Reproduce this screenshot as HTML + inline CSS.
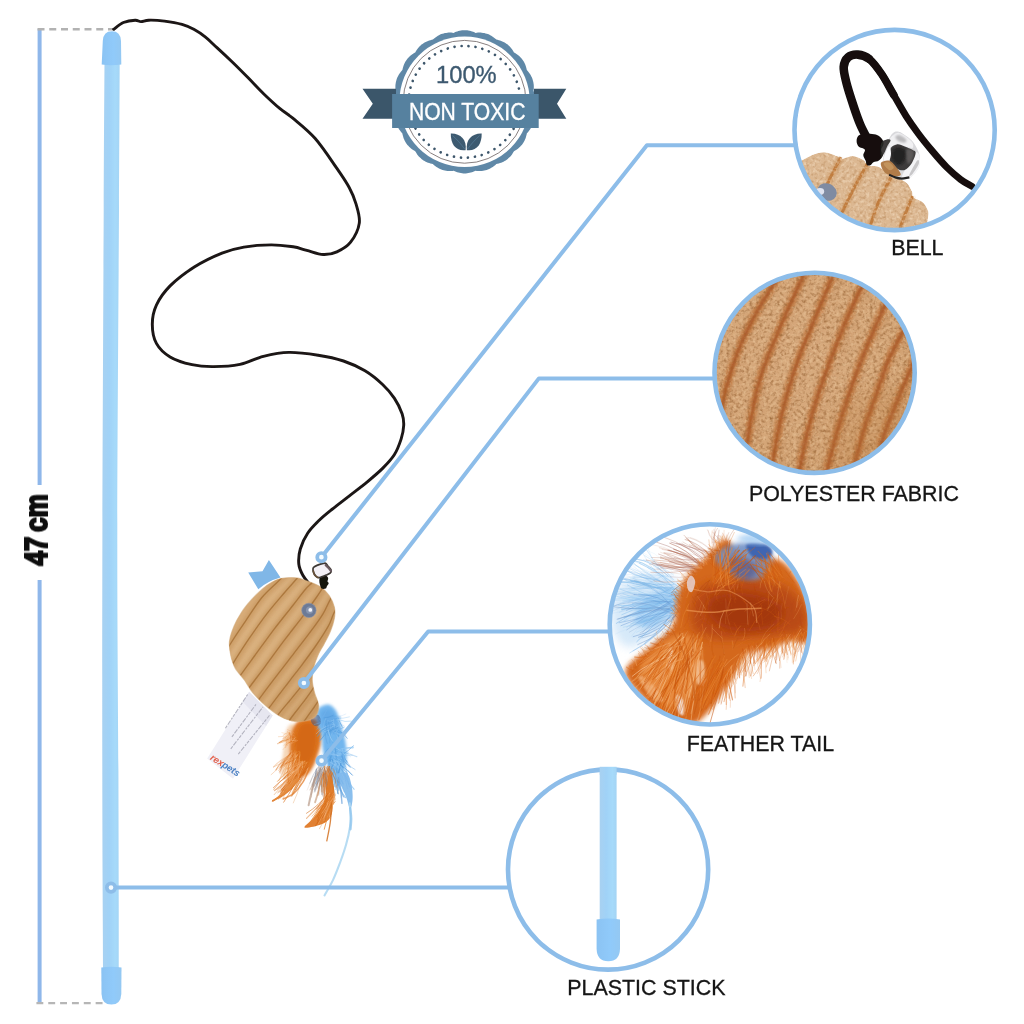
<!DOCTYPE html>
<html lang="en">
<head>
<meta charset="utf-8">
<title>Cat Teaser Wand - Product Features</title>
<style>
html,body{margin:0;padding:0;background:#fff;}
body{width:1024px;height:1024px;overflow:hidden;}
svg{display:block;}
text{font-family:"Liberation Sans",sans-serif;}
.lbl text{fill:#141414;stroke:#141414;stroke-width:0.3px;}
.dim{font-weight:700;fill:#0b0b0b;stroke:#0b0b0b;stroke-width:2px;stroke-linejoin:miter;paint-order:stroke;}
</style>
</head>
<body>
<svg width="1024" height="1024" viewBox="0 0 1024 1024">
<defs>

<filter id="soften" x="0" y="0" width="1024" height="1024" filterUnits="userSpaceOnUse"><feGaussianBlur stdDeviation="0.42"/></filter>
<linearGradient id="stickG" x1="0" x2="1" y1="0" y2="0">
  <stop offset="0" stop-color="#a8d1f1"/>
  <stop offset="0.4" stop-color="#a0d2f7"/>
  <stop offset="0.75" stop-color="#a6dafa"/>
  <stop offset="1" stop-color="#a4d4f4"/>
</linearGradient>
<linearGradient id="capG" x1="0" x2="1" y1="0" y2="0">
  <stop offset="0" stop-color="#8bc3f3"/>
  <stop offset="0.6" stop-color="#90cafa"/>
  <stop offset="1" stop-color="#94c8f2"/>
</linearGradient>
<clipPath id="bodyclip"><path d="M281.0 578.6 C285.2 577.8 291.6 577.4 296.2 577.9 C300.8 578.4 304.9 580.2 308.9 581.7 C312.9 583.2 316.9 584.5 320.3 586.8 C323.7 589.1 326.9 592.3 329.2 595.7 C331.5 599.1 333.4 603.3 334.3 607.1 C335.2 610.9 335.0 614.6 334.3 618.6 C333.6 622.6 332.1 627.0 330.4 631.2 C328.7 635.4 326.1 640.1 324.1 643.9 C322.1 647.7 320.2 650.3 318.5 654.1 C316.8 657.9 314.9 662.5 313.8 666.8 C312.8 671.1 312.1 675.6 312.2 680.0 C312.3 684.4 313.5 688.6 314.6 692.9 C315.7 697.2 318.5 701.9 318.6 705.8 C318.7 709.7 317.6 714.0 315.3 716.5 C313.0 719.0 308.5 720.1 304.6 720.8 C300.7 721.5 296.0 721.7 291.7 720.8 C287.4 719.9 283.1 717.9 278.8 715.4 C274.5 712.9 270.2 709.5 265.9 705.8 C261.6 702.0 256.6 697.2 253.0 692.9 C249.4 688.6 247.4 684.1 244.4 680.0 C241.4 675.9 237.5 672.2 235.2 668.1 C232.9 664.0 231.8 659.9 230.8 655.4 C229.9 650.9 229.0 646.3 229.5 641.4 C230.0 636.5 232.0 631.1 234.0 626.2 C236.0 621.3 238.7 616.7 241.6 612.2 C244.5 607.8 248.3 603.3 251.7 599.5 C255.1 595.7 258.7 592.1 261.9 589.4 C265.1 586.6 267.6 584.8 270.8 583.0 C274.0 581.2 276.8 579.5 281.0 578.6 Z"/></clipPath>
<linearGradient id="bodyG" x1="0" y1="0" x2="1" y2="0.6">
  <stop offset="0" stop-color="#d9ae7b"/>
  <stop offset="0.5" stop-color="#d4a874"/>
  <stop offset="1" stop-color="#cc9d68"/>
</linearGradient>
<filter id="soft1" x="-20%" y="-20%" width="140%" height="140%"><feGaussianBlur stdDeviation="0.6"/></filter>
<filter id="soft2" x="-30%" y="-30%" width="160%" height="160%"><feGaussianBlur stdDeviation="1.6"/></filter>
<filter id="soft3" x="-30%" y="-30%" width="160%" height="160%"><feGaussianBlur stdDeviation="3"/></filter>
<filter id="fuzz" x="-5%" y="-5%" width="110%" height="110%">
  <feTurbulence type="fractalNoise" baseFrequency="0.9" numOctaves="2" seed="3" result="n"/>
  <feColorMatrix in="n" type="matrix" values="0 0 0 0 0.45  0 0 0 0 0.28  0 0 0 0 0.1  0.9 0.9 0 0 -0.78" result="n2"/>
  <feComposite in="n2" in2="SourceGraphic" operator="in" result="n3"/>
  <feMerge><feMergeNode in="SourceGraphic"/><feMergeNode in="n3"/></feMerge>
</filter>

<filter id="fleece" x="0" y="0" width="100%" height="100%" color-interpolation-filters="sRGB">
  <feTurbulence type="fractalNoise" baseFrequency="0.3" numOctaves="2" seed="11" result="t"/>
  <feColorMatrix in="t" type="matrix" values="0 0 0 0 0.62  0 0 0 0 0.42  0 0 0 0 0.24  2.0 0 0 0 -0.9" result="dk"/>
  <feColorMatrix in="t" type="matrix" values="0 0 0 0 0.90  0 0 0 0 0.75  0 0 0 0 0.58  0 2.0 0 0 -0.95" result="lt"/>
  <feMerge result="m"><feMergeNode in="SourceGraphic"/><feMergeNode in="dk"/><feMergeNode in="lt"/></feMerge>
  <feComposite in="m" in2="SourceGraphic" operator="in"/>
</filter>
<filter id="fleeceS" x="0" y="0" width="100%" height="100%" color-interpolation-filters="sRGB">
  <feTurbulence type="fractalNoise" baseFrequency="0.3" numOctaves="2" seed="4" result="t"/>
  <feColorMatrix in="t" type="matrix" values="0 0 0 0 0.74  0 0 0 0 0.56  0 0 0 0 0.38  1.8 0 0 0 -0.85" result="dk"/>
  <feColorMatrix in="t" type="matrix" values="0 0 0 0 0.95  0 0 0 0 0.86  0 0 0 0 0.75  0 1.8 0 0 -0.85" result="lt"/>
  <feMerge result="m"><feMergeNode in="SourceGraphic"/><feMergeNode in="dk"/><feMergeNode in="lt"/></feMerge>
  <feComposite in="m" in2="SourceGraphic" operator="in"/>
</filter>
<filter id="b1" x="-20%" y="-20%" width="140%" height="140%"><feGaussianBlur stdDeviation="1.2"/></filter>
<filter id="b2" x="-30%" y="-30%" width="160%" height="160%"><feGaussianBlur stdDeviation="2.5"/></filter>
<filter id="b4" x="-40%" y="-40%" width="180%" height="180%"><feGaussianBlur stdDeviation="5"/></filter>
<filter id="b8" x="-50%" y="-50%" width="200%" height="200%"><feGaussianBlur stdDeviation="9"/></filter>
<radialGradient id="fabG" cx="0.42" cy="0.4" r="0.75">
  <stop offset="0" stop-color="#d5a67a"/>
  <stop offset="0.6" stop-color="#d0a072"/>
  <stop offset="1" stop-color="#c89461"/>
</radialGradient>
<linearGradient id="bellG" x1="0" y1="0" x2="1" y2="0.3">
  <stop offset="0" stop-color="#fafafa"/>
  <stop offset="0.22" stop-color="#d8d8da"/>
  <stop offset="0.38" stop-color="#55524f"/>
  <stop offset="0.62" stop-color="#2c2a29"/>
  <stop offset="0.8" stop-color="#8d8c8c"/>
  <stop offset="1" stop-color="#e8e8ea"/>
</linearGradient>
<clipPath id="clip_bell"><circle cx="894.6" cy="130" r="98.6"/></clipPath><clipPath id="clip_fabric"><circle cx="814.6" cy="372.8" r="98.6"/></clipPath><clipPath id="clip_feather"><circle cx="709.8" cy="624.4" r="98.6"/></clipPath><clipPath id="clip_stickc"><circle cx="608.1" cy="869.5" r="98.6"/></clipPath>
</defs>
<rect width="1024" height="1024" fill="#ffffff"/>
<g filter="url(#soften)">
<g id="measure">
<line x1="39.6" y1="29" x2="39.6" y2="485" stroke="#8fb7ea" stroke-width="4"/>
<line x1="39.6" y1="580" x2="39.6" y2="1003" stroke="#8fb7ea" stroke-width="4"/>
<line x1="37.5" y1="29.2" x2="115.5" y2="29.2" stroke="#b2b2b2" stroke-width="2.6" stroke-dasharray="7 4.75"/>
<line x1="36.4" y1="1003.2" x2="103" y2="1003.2" stroke="#b6b6b6" stroke-width="2.3" stroke-dasharray="6.9 4.95"/>
<text class="dim" transform="translate(47.0 565.8) rotate(-90) scale(0.83 1)" font-size="31.6" style="word-spacing:-3.2px">47 cm</text>
</g>
<g id="stick">
<path d="M104.5 60.0 C104.4 85.0 104.0 131.7 103.7 210.0 C103.4 288.3 102.6 436.7 102.4 530.0 C102.2 623.3 102.2 696.7 102.3 770.0 C102.4 843.3 103.0 936.7 103.2 970.0 L119.0 970.0 C118.9 936.7 118.7 843.3 118.4 770.0 C118.1 696.7 117.2 623.3 117.3 530.0 C117.4 436.7 118.6 288.3 119.0 210.0 C119.4 131.7 119.6 85.0 119.7 60.0 Z" fill="url(#stickG)"/>
<path d="M101.7 64.5 L102.8 41 Q103.2 31.2 111.9 31.2 Q120.6 31.2 121 41 L121.3 64.5 Q111 66 101.7 64.5 Z" fill="url(#capG)"/>
<path d="M101.3 967.5 Q111.4 966 121.5 967.5 L121.3 994 Q120.8 1004.6 111.4 1004.6 Q102 1004.6 101.5 994 Z" fill="url(#capG)"/>
</g>
<path id="cord" d="M113.7 29.3 C115.3 28.2 119.8 24.0 123.4 22.5 C127.0 21.0 132.3 20.3 135.2 20.2 C138.1 20.1 138.7 21.6 141.0 21.6 C143.3 21.6 144.9 20.3 148.8 20.2 C152.7 20.1 159.0 20.4 164.5 21.1 C170.0 21.8 177.1 23.0 182.0 24.4 C186.9 25.8 189.9 27.2 193.8 29.3 C197.7 31.4 201.6 34.0 205.5 37.1 C209.4 40.2 212.6 43.7 217.2 47.9 C221.8 52.1 227.6 57.5 232.8 62.5 C238.0 67.5 243.2 72.8 248.4 78.1 C253.6 83.4 258.9 89.2 264.1 94.2 C269.3 99.2 274.9 104.4 279.7 108.4 C284.5 112.4 287.2 113.4 293.1 118.4 C299.0 123.4 307.7 130.0 315.0 138.3 C322.3 146.6 331.2 160.2 336.9 168.4 C342.6 176.6 346.0 181.6 349.2 187.5 C352.4 193.4 354.3 198.0 356.0 203.9 C357.7 209.8 360.2 216.7 359.3 223.1 C358.4 229.5 354.3 237.4 350.6 242.2 C346.9 247.0 341.5 249.8 336.9 251.8 C332.3 253.9 328.2 254.7 323.2 254.5 C318.2 254.3 311.8 251.7 306.8 250.4 C301.8 249.1 299.0 247.7 293.1 246.8 C287.2 245.9 279.5 244.9 271.3 244.9 C263.1 244.9 252.1 245.7 243.9 247.1 C235.7 248.5 230.2 249.8 222.0 253.1 C213.8 256.4 203.3 261.3 194.7 266.8 C186.0 272.3 176.5 279.5 170.1 285.9 C163.7 292.3 159.4 298.7 156.4 305.1 C153.4 311.5 152.3 317.8 152.3 324.2 C152.3 330.6 153.4 337.9 156.4 343.4 C159.4 348.9 164.2 353.4 170.1 357.0 C176.0 360.6 184.7 363.1 192.0 364.7 C199.3 366.3 205.8 366.7 213.8 366.6 C221.8 366.6 231.7 366.1 240.0 364.4 C248.3 362.7 255.3 358.4 263.4 356.4 C271.5 354.4 279.7 352.6 288.8 352.4 C297.9 352.2 309.0 353.8 318.1 355.2 C327.2 356.6 335.7 358.4 343.5 361.0 C351.3 363.6 358.5 366.9 365.0 370.8 C371.5 374.7 377.7 379.9 382.6 384.5 C387.5 389.1 391.1 393.2 394.3 398.1 C397.6 403.0 400.5 409.2 402.1 413.8 C403.7 418.4 403.9 421.3 403.7 425.5 C403.5 429.7 402.7 434.2 401.1 439.1 C399.5 444.0 397.4 449.9 394.3 454.8 C391.2 459.7 387.2 463.8 382.6 468.4 C378.1 472.9 372.5 477.5 367.0 482.1 C361.5 486.7 355.3 491.2 349.4 495.8 C343.5 500.4 336.8 505.5 331.8 509.5 C326.8 513.5 323.5 516.1 319.5 520.0 C315.5 523.9 311.0 528.2 307.8 533.0 C304.6 537.8 301.8 543.8 300.3 549.0 C298.8 554.2 298.4 559.6 298.8 564.0 C299.2 568.4 301.2 572.2 303.0 575.5 C304.8 578.8 308.4 582.6 309.5 584.0" fill="none" stroke="#1a1514" stroke-width="2.9" stroke-linecap="round"/>
<g id="badge"><path d="M536.2 101.8 L536.2 103.0 L536.1 104.3 L535.9 105.5 L535.6 106.8 L535.3 108.0 L535.0 109.2 L534.6 110.4 L534.1 111.6 L533.5 112.7 L533.7 114.0 L533.8 115.2 L533.8 116.5 L533.8 117.8 L533.7 119.0 L533.5 120.3 L533.3 121.5 L533.0 122.7 L532.7 123.9 L532.3 125.1 L531.8 126.3 L531.2 127.4 L530.6 128.5 L530.0 129.5 L529.2 130.6 L528.5 131.6 L527.7 132.6 L526.8 133.5 L526.6 134.7 L526.2 136.0 L525.9 137.2 L525.5 138.4 L525.0 139.5 L524.5 140.7 L523.9 141.8 L523.2 142.9 L522.5 143.9 L521.8 144.9 L520.9 145.8 L520.1 146.7 L519.2 147.6 L518.2 148.4 L517.2 149.2 L516.1 149.9 L515.1 150.5 L514.0 151.2 L513.3 152.3 L512.7 153.3 L512.0 154.4 L511.2 155.4 L510.4 156.4 L509.5 157.3 L508.6 158.1 L507.7 159.0 L506.7 159.7 L505.7 160.4 L504.6 161.1 L503.5 161.7 L502.3 162.2 L501.2 162.7 L500.0 163.1 L498.8 163.4 L497.5 163.8 L496.3 164.0 L495.4 164.9 L494.4 165.7 L493.4 166.4 L492.3 167.2 L491.3 167.8 L490.2 168.4 L489.1 169.0 L487.9 169.5 L486.7 169.9 L485.5 170.2 L484.3 170.5 L483.1 170.7 L481.8 170.9 L480.6 171.0 L479.3 171.0 L478.0 171.0 L476.8 170.9 L475.5 170.7 L474.4 171.3 L473.2 171.8 L472.0 172.2 L470.8 172.5 L469.6 172.8 L468.3 173.1 L467.1 173.3 L465.8 173.4 L464.6 173.4 L463.4 173.4 L462.1 173.3 L460.9 173.1 L459.6 172.8 L458.4 172.5 L457.2 172.2 L456.0 171.8 L454.8 171.3 L453.7 170.7 L452.4 170.9 L451.2 171.0 L449.9 171.0 L448.6 171.0 L447.4 170.9 L446.1 170.7 L444.9 170.5 L443.7 170.2 L442.5 169.9 L441.3 169.5 L440.1 169.0 L439.0 168.4 L437.9 167.8 L436.9 167.2 L435.8 166.4 L434.8 165.7 L433.8 164.9 L432.9 164.0 L431.7 163.8 L430.4 163.4 L429.2 163.1 L428.0 162.7 L426.9 162.2 L425.7 161.7 L424.6 161.1 L423.5 160.4 L422.5 159.7 L421.5 159.0 L420.6 158.1 L419.7 157.3 L418.8 156.4 L418.0 155.4 L417.2 154.4 L416.5 153.3 L415.9 152.3 L415.2 151.2 L414.1 150.5 L413.1 149.9 L412.0 149.2 L411.0 148.4 L410.0 147.6 L409.1 146.7 L408.3 145.8 L407.4 144.9 L406.7 143.9 L406.0 142.9 L405.3 141.8 L404.7 140.7 L404.2 139.5 L403.7 138.4 L403.3 137.2 L403.0 136.0 L402.6 134.7 L402.4 133.5 L401.5 132.6 L400.7 131.6 L400.0 130.6 L399.2 129.5 L398.6 128.5 L398.0 127.4 L397.4 126.3 L396.9 125.1 L396.5 123.9 L396.2 122.7 L395.9 121.5 L395.7 120.3 L395.5 119.0 L395.4 117.8 L395.4 116.5 L395.4 115.2 L395.5 114.0 L395.7 112.7 L395.1 111.6 L394.6 110.4 L394.2 109.2 L393.9 108.0 L393.6 106.8 L393.3 105.5 L393.1 104.3 L393.0 103.0 L393.0 101.8 L393.0 100.6 L393.1 99.3 L393.3 98.1 L393.6 96.8 L393.9 95.6 L394.2 94.4 L394.6 93.2 L395.1 92.0 L395.7 90.9 L395.5 89.6 L395.4 88.4 L395.4 87.1 L395.4 85.8 L395.5 84.6 L395.7 83.3 L395.9 82.1 L396.2 80.9 L396.5 79.7 L396.9 78.5 L397.4 77.3 L398.0 76.2 L398.6 75.1 L399.2 74.1 L400.0 73.0 L400.7 72.0 L401.5 71.0 L402.4 70.1 L402.6 68.9 L403.0 67.6 L403.3 66.4 L403.7 65.2 L404.2 64.1 L404.7 62.9 L405.3 61.8 L406.0 60.7 L406.7 59.7 L407.4 58.7 L408.3 57.8 L409.1 56.9 L410.0 56.0 L411.0 55.2 L412.0 54.4 L413.1 53.7 L414.1 53.1 L415.2 52.4 L415.9 51.3 L416.5 50.3 L417.2 49.2 L418.0 48.2 L418.8 47.2 L419.7 46.3 L420.6 45.5 L421.5 44.6 L422.5 43.9 L423.5 43.2 L424.6 42.5 L425.7 41.9 L426.9 41.4 L428.0 40.9 L429.2 40.5 L430.4 40.2 L431.7 39.8 L432.9 39.6 L433.8 38.7 L434.8 37.9 L435.8 37.2 L436.9 36.4 L437.9 35.8 L439.0 35.2 L440.1 34.6 L441.3 34.1 L442.5 33.7 L443.7 33.4 L444.9 33.1 L446.1 32.9 L447.4 32.7 L448.6 32.6 L449.9 32.6 L451.2 32.6 L452.4 32.7 L453.7 32.9 L454.8 32.3 L456.0 31.8 L457.2 31.4 L458.4 31.1 L459.6 30.8 L460.9 30.5 L462.1 30.3 L463.4 30.2 L464.6 30.2 L465.8 30.2 L467.1 30.3 L468.3 30.5 L469.6 30.8 L470.8 31.1 L472.0 31.4 L473.2 31.8 L474.4 32.3 L475.5 32.9 L476.8 32.7 L478.0 32.6 L479.3 32.6 L480.6 32.6 L481.8 32.7 L483.1 32.9 L484.3 33.1 L485.5 33.4 L486.7 33.7 L487.9 34.1 L489.1 34.6 L490.2 35.2 L491.3 35.8 L492.3 36.4 L493.4 37.2 L494.4 37.9 L495.4 38.7 L496.3 39.6 L497.5 39.8 L498.8 40.2 L500.0 40.5 L501.2 40.9 L502.3 41.4 L503.5 41.9 L504.6 42.5 L505.7 43.2 L506.7 43.9 L507.7 44.6 L508.6 45.5 L509.5 46.3 L510.4 47.2 L511.2 48.2 L512.0 49.2 L512.7 50.3 L513.3 51.3 L514.0 52.4 L515.1 53.1 L516.1 53.7 L517.2 54.4 L518.2 55.2 L519.2 56.0 L520.1 56.9 L520.9 57.8 L521.8 58.7 L522.5 59.7 L523.2 60.7 L523.9 61.8 L524.5 62.9 L525.0 64.1 L525.5 65.2 L525.9 66.4 L526.2 67.6 L526.6 68.9 L526.8 70.1 L527.7 71.0 L528.5 72.0 L529.2 73.0 L530.0 74.1 L530.6 75.1 L531.2 76.2 L531.8 77.3 L532.3 78.5 L532.7 79.7 L533.0 80.9 L533.3 82.1 L533.5 83.3 L533.7 84.6 L533.8 85.8 L533.8 87.1 L533.8 88.4 L533.7 89.6 L533.5 90.9 L534.1 92.0 L534.6 93.2 L535.0 94.4 L535.3 95.6 L535.6 96.8 L535.9 98.1 L536.1 99.3 L536.2 100.6 L536.2 101.8Z" fill="#5f88a7"/><circle cx="464.6" cy="101.8" r="65.2" fill="#fff"/><circle cx="464.6" cy="101.8" r="61.4" fill="none" stroke="#6a5f60" stroke-width="0.8"/><circle cx="464.6" cy="101.8" r="55.9" fill="none" stroke="#3d566b" stroke-width="2.7" stroke-linecap="round" stroke-dasharray="0.01 7.015"/><path d="M362.5 88.8 L396 88.8 L396 118.8 L362.5 118.8 L372.8 103.8 Z" fill="#3b566a"/><path d="M566.3 88.8 L534 88.8 L534 118.8 L566.3 118.8 L557 103.8 Z" fill="#3b566a"/><rect x="392.1" y="94" width="146.6" height="34" fill="#57819f"/><text x="466.4" y="83.4" font-size="24.4" text-anchor="middle" fill="#3e5a70" stroke="#3e5a70" stroke-width="0.35" textLength="60.6" lengthAdjust="spacingAndGlyphs">100%</text><text x="467.2" y="119.7" font-size="24.4" text-anchor="middle" fill="#ffffff" stroke="#ffffff" stroke-width="0.35" textLength="116.6" lengthAdjust="spacingAndGlyphs">NON TOXIC</text><g fill="#3e5a70"><path d="M465.6 150.2 C456 151.5 450.6 144.5 450.8 133.6 C460 133.2 467.2 139.5 465.6 150.2 Z"/><path d="M466.9 150.2 C476.5 151.5 481.9 144.5 481.7 133.6 C472.5 133.2 465.3 139.5 466.9 150.2 Z"/></g><g stroke="#57819f" stroke-width="0.6" fill="none"><path d="M464.6 149 C461 144 457 139.5 452.5 135.5"/><path d="M467.6 149 C471.2 144 475.2 139.5 479.7 135.5"/></g></g>
<g id="bird"><g id="tag"><path d="M249.1 691.8 L272.7 715.4 L233 778.8 L207.2 758.4 Z" fill="#f0f0f7"/><path d="M249.1 691.8 L272.7 715.4 L266 726 L243 702 Z" fill="#e3e3ee" opacity="0.8"/><g stroke="#a9a9b6" stroke-width="1.1" fill="none" opacity="0.85" stroke-dasharray="3.2 1.1 5 1.3 2.2 1"><path d="M225.4 728.3 L248.0 694.0"/><path d="M231.9 736.9 L256.6 703.6"/><path d="M230.8 748.8 L263.0 706.9"/><path d="M238.3 754.1 L269.5 715.4"/></g><text transform="translate(209.6 759.3) rotate(32)" font-size="9.6" font-weight="700" font-style="italic" letter-spacing="-0.2"><tspan fill="#e2604c">rex</tspan><tspan fill="#4d82c4">pets</tspan></text></g><g id="feathers" fill="none" stroke-linecap="round"><path d="M287.0 728.7 C288.7 724.4 292.6 721.8 294.0 725.2 C295.4 728.5 295.2 740.8 295.2 748.6 C295.2 756.4 295.4 766.6 294.0 772.0 C292.6 777.5 289.1 781.4 287.0 781.4 C284.8 781.4 281.7 777.1 281.1 772.0 C280.5 767.0 282.5 758.2 283.4 750.9 C284.4 743.7 285.2 733.0 287.0 728.7 Z" fill="#f3c9a0" stroke="none" opacity="0.75" filter="url(#soft2)"/><path d="M298.7 721.1 C302.6 718.9 311.3 718.0 315.1 719.3 C318.9 720.6 320.5 724.8 321.5 728.7 C322.5 732.6 321.6 738.2 320.9 742.7 C320.3 747.2 318.8 751.5 317.4 755.6 C316.1 759.7 314.7 764.0 312.7 767.3 C310.8 770.7 308.4 774.4 305.7 775.6 C303.0 776.7 298.8 776.5 296.3 774.4 C293.9 772.2 292.1 767.3 291.1 762.7 C290.0 758.0 289.8 751.3 289.9 746.3 C290.0 741.2 290.2 736.4 291.6 732.2 C293.1 728.0 294.8 723.2 298.7 721.1 Z" fill="#dc7422" stroke="none" filter="url(#soft2)"/><path d="M301.0 725.2 C303.8 722.6 310.2 722.0 312.7 724.0 C315.3 725.9 316.3 731.6 316.3 736.9 C316.3 742.2 314.7 750.9 312.7 755.6 C310.8 760.3 307.1 765.0 304.5 765.0 C302.0 765.0 298.9 759.9 297.5 755.6 C296.1 751.3 295.7 744.3 296.3 739.2 C296.9 734.1 298.3 727.7 301.0 725.2 Z" fill="#d2640f" stroke="none" opacity="0.7" filter="url(#soft2)"/><path d="M301.1 765.3 Q293.2 780.1 283.2 793.3" stroke="#dc7420" stroke-width="1.14" opacity="0.51"/><path d="M303.9 762.9 Q297.1 769.6 290.8 776.6" stroke="#dc7420" stroke-width="1.08" opacity="0.46"/><path d="M305.1 764.2 Q284.6 773.5 273.5 789.8" stroke="#dc7420" stroke-width="0.89" opacity="0.47"/><path d="M304.9 765.6 Q293.8 773.6 283.3 782.5" stroke="#f2b47c" stroke-width="0.63" opacity="0.69"/><path d="M301.0 761.5 Q296.6 776.8 287.8 789.1" stroke="#f2b47c" stroke-width="0.87" opacity="0.79"/><path d="M307.9 763.9 Q303.6 777.9 295.6 789.6" stroke="#d56a16" stroke-width="0.99" opacity="0.52"/><path d="M306.4 763.3 Q289.0 776.0 281.8 793.4" stroke="#dc7420" stroke-width="0.86" opacity="0.48"/><path d="M308.0 764.4 Q296.1 771.8 290.5 782.8" stroke="#dc7420" stroke-width="1.04" opacity="0.69"/><path d="M305.3 765.6 Q294.0 778.6 282.1 790.9" stroke="#dc7420" stroke-width="1.16" opacity="0.64"/><path d="M301.0 766.6 Q289.9 779.4 281.4 793.8" stroke="#f2b47c" stroke-width="1.08" opacity="0.54"/><path d="M304.2 762.3 Q303.1 771.6 298.5 778.8" stroke="#dc7420" stroke-width="0.65" opacity="0.54"/><path d="M303.7 768.3 Q290.9 780.5 277.9 792.6" stroke="#d56a16" stroke-width="0.81" opacity="0.67"/><path d="M302.8 764.3 Q289.6 778.7 274.5 790.6" stroke="#cc6010" stroke-width="1.17" opacity="0.48"/><path d="M302.4 762.9 Q297.7 772.4 292.9 781.9" stroke="#ea9444" stroke-width="0.63" opacity="0.54"/><path d="M303.1 762.0 Q287.7 769.4 277.4 781.4" stroke="#ea9444" stroke-width="0.96" opacity="0.77"/><path d="M307.5 768.6 Q295.4 776.4 285.5 786.4" stroke="#ea9444" stroke-width="0.77" opacity="0.60"/><path d="M301.1 762.7 Q296.3 771.1 289.2 776.7" stroke="#e58430" stroke-width="0.92" opacity="0.45"/><path d="M304.8 768.6 Q292.5 778.2 281.6 789.3" stroke="#dc7420" stroke-width="1.11" opacity="0.71"/><path d="M303.4 762.0 Q291.6 768.5 283.8 778.4" stroke="#cc6010" stroke-width="0.84" opacity="0.56"/><path d="M306.5 766.9 Q299.7 774.5 292.6 781.9" stroke="#f2b47c" stroke-width="0.61" opacity="0.41"/><path d="M304.9 761.2 Q297.0 767.8 289.4 774.6" stroke="#f2b47c" stroke-width="1.10" opacity="0.75"/><path d="M303.5 762.3 Q294.2 770.1 288.2 780.0" stroke="#ea9444" stroke-width="0.88" opacity="0.65"/><path d="M306.6 762.6 Q301.6 780.8 291.7 796.1" stroke="#cc6010" stroke-width="1.02" opacity="0.51"/><path d="M303.4 761.2 Q302.4 777.7 294.3 789.7" stroke="#e58430" stroke-width="0.83" opacity="0.50"/><path d="M306.3 763.8 Q289.1 775.0 281.3 791.3" stroke="#dc7420" stroke-width="0.65" opacity="0.51"/><path d="M302.2 766.0 Q292.6 772.8 287.6 782.1" stroke="#dc7420" stroke-width="0.84" opacity="0.73"/><path d="M307.8 767.3 Q294.0 777.6 284.2 791.0" stroke="#cc6010" stroke-width="1.12" opacity="0.62"/><path d="M301.2 768.6 Q289.0 780.1 280.4 793.9" stroke="#cc6010" stroke-width="0.78" opacity="0.87"/><path d="M301.7 768.2 Q293.3 774.4 287.8 782.6" stroke="#d56a16" stroke-width="0.93" opacity="0.70"/><path d="M308.0 762.3 Q299.7 774.0 292.1 786.2" stroke="#dc7420" stroke-width="0.51" opacity="0.89"/><path d="M304.0 768.0 Q287.9 781.7 278.6 799.3" stroke="#d56a16" stroke-width="0.52" opacity="0.51"/><path d="M306.6 763.6 Q298.9 776.1 291.9 789.1" stroke="#d56a16" stroke-width="0.54" opacity="0.77"/><path d="M304.7 767.6 Q286.0 774.7 273.3 787.8" stroke="#d56a16" stroke-width="0.87" opacity="0.66"/><path d="M304.1 762.5 Q303.4 772.1 298.5 778.8" stroke="#d56a16" stroke-width="0.62" opacity="0.64"/><path d="M304.7 765.4 Q294.4 773.4 287.7 783.8" stroke="#dc7420" stroke-width="1.12" opacity="0.43"/><path d="M300.9 761.8 Q296.5 771.7 291.5 781.3" stroke="#dc7420" stroke-width="1.03" opacity="0.86"/><path d="M304.6 766.5 Q298.7 780.1 292.0 793.3" stroke="#ea9444" stroke-width="1.07" opacity="0.65"/><path d="M304.7 768.0 Q293.3 773.2 286.5 782.2" stroke="#ea9444" stroke-width="1.12" opacity="0.50"/><path d="M303.1 766.4 Q297.4 778.5 290.7 790.0" stroke="#d56a16" stroke-width="0.97" opacity="0.79"/><path d="M301.8 766.7 Q286.5 779.5 274.1 794.7" stroke="#d56a16" stroke-width="0.68" opacity="0.47"/><path d="M307.6 762.3 Q302.3 770.5 298.8 779.4" stroke="#d56a16" stroke-width="0.61" opacity="0.62"/><path d="M303.2 762.6 Q295.5 775.6 285.4 786.4" stroke="#f2b47c" stroke-width="0.76" opacity="0.57"/><path d="M304.7 763.4 Q293.6 772.9 289.5 785.1" stroke="#dc7420" stroke-width="1.19" opacity="0.79"/><path d="M301.4 763.1 Q294.8 784.9 280.1 798.5" stroke="#d56a16" stroke-width="0.69" opacity="0.46"/><path d="M302.6 762.2 Q288.7 777.0 283.8 794.6" stroke="#ea9444" stroke-width="0.85" opacity="0.56"/><path d="M306.9 762.5 Q295.0 767.1 287.1 775.7" stroke="#e58430" stroke-width="1.16" opacity="0.72"/><path d="M301.1 767.9 Q289.6 783.3 277.4 798.1" stroke="#e58430" stroke-width="1.20" opacity="0.61"/><path d="M305.5 761.3 Q290.8 775.4 280.3 792.2" stroke="#dc7420" stroke-width="1.18" opacity="0.53"/><path d="M304.8 762.6 Q293.5 774.5 281.5 785.5" stroke="#f2b47c" stroke-width="0.62" opacity="0.57"/><path d="M302.5 761.1 Q294.2 764.1 287.3 769.1" stroke="#ea9444" stroke-width="1.18" opacity="0.66"/><path d="M305.7 766.3 Q294.8 778.9 284.6 792.1" stroke="#cc6010" stroke-width="1.18" opacity="0.55"/><path d="M302.4 762.6 Q291.3 766.9 283.8 774.8" stroke="#f2b47c" stroke-width="0.95" opacity="0.60"/><path d="M301.1 766.9 Q297.1 776.5 290.9 784.2" stroke="#d56a16" stroke-width="0.54" opacity="0.73"/><path d="M304.6 768.8 Q295.0 778.0 286.7 788.2" stroke="#f2b47c" stroke-width="0.71" opacity="0.63"/><path d="M308.2 768.8 Q299.8 776.9 291.8 785.5" stroke="#d56a16" stroke-width="0.52" opacity="0.84"/><path d="M302.0 763.7 Q297.2 774.7 288.7 781.6" stroke="#e58430" stroke-width="0.85" opacity="0.50"/><path d="M301.3 764.2 Q298.5 776.8 290.7 785.2" stroke="#dc7420" stroke-width="0.71" opacity="0.71"/><path d="M308.2 767.8 Q304.9 777.3 298.7 784.2" stroke="#f2b47c" stroke-width="1.05" opacity="0.70"/><path d="M302.8 766.0 Q297.6 780.6 287.7 791.0" stroke="#f2b47c" stroke-width="1.12" opacity="0.71"/><path d="M307.0 762.1 Q299.6 778.1 292.5 794.3" stroke="#ea9444" stroke-width="0.90" opacity="0.81"/><path d="M306.2 768.7 Q290.1 778.0 276.0 789.9" stroke="#dc7420" stroke-width="0.52" opacity="0.47"/><path d="M301.4 767.7 Q292.6 777.2 284.5 787.3" stroke="#f2b47c" stroke-width="0.51" opacity="0.67"/><path d="M301.1 768.5 Q287.9 776.1 280.3 787.6" stroke="#dc7420" stroke-width="0.96" opacity="0.43"/><path d="M302.6 761.6 Q293.0 777.0 280.0 788.8" stroke="#f2b47c" stroke-width="1.03" opacity="0.52"/><path d="M301.1 768.3 Q294.4 786.6 283.7 802.2" stroke="#dc7420" stroke-width="0.93" opacity="0.72"/><path d="M301.7 763.0 Q295.1 770.0 290.8 778.3" stroke="#e58430" stroke-width="0.93" opacity="0.47"/><path d="M301.3 762.7 Q291.9 781.1 282.3 799.4" stroke="#f2b47c" stroke-width="0.86" opacity="0.63"/><path d="M301.5 768.2 Q295.8 781.9 286.2 792.3" stroke="#dc7420" stroke-width="1.16" opacity="0.41"/><path d="M304.1 763.2 Q302.0 784.5 293.3 802.9" stroke="#d56a16" stroke-width="0.55" opacity="0.45"/><path d="M302.6 763.9 Q289.3 775.8 277.6 789.2" stroke="#f2b47c" stroke-width="0.86" opacity="0.84"/><path d="M295.0 750.9 Q296.0 765.0 289.5 774.7" stroke="#eea060" stroke-width="0.91" opacity="0.53"/><path d="M294.3 754.4 Q295.5 766.3 291.1 775.9" stroke="#f2b47c" stroke-width="0.50" opacity="0.69"/><path d="M297.3 759.6 Q292.9 771.7 285.4 781.5" stroke="#f2b47c" stroke-width="0.54" opacity="0.53"/><path d="M290.9 759.9 Q282.8 769.5 278.9 780.6" stroke="#dc7420" stroke-width="0.67" opacity="0.37"/><path d="M299.9 755.0 Q299.2 761.5 297.0 767.4" stroke="#f2b47c" stroke-width="0.97" opacity="0.54"/><path d="M297.8 754.6 Q294.4 759.5 293.9 764.8" stroke="#cc6010" stroke-width="0.93" opacity="0.37"/><path d="M296.6 753.5 Q296.7 766.1 290.6 774.8" stroke="#e58430" stroke-width="0.60" opacity="0.54"/><path d="M292.7 758.0 Q289.8 764.9 288.4 772.2" stroke="#f6c898" stroke-width="0.89" opacity="0.49"/><path d="M291.8 752.7 Q287.0 758.2 286.0 764.4" stroke="#eea060" stroke-width="0.83" opacity="0.55"/><path d="M297.8 754.9 Q294.1 761.8 291.0 769.0" stroke="#cc6010" stroke-width="0.55" opacity="0.50"/><path d="M295.9 759.5 Q289.6 763.6 285.3 769.4" stroke="#f6c898" stroke-width="0.73" opacity="0.69"/><path d="M292.9 758.1 Q288.8 763.7 284.8 769.2" stroke="#f2b47c" stroke-width="0.58" opacity="0.58"/><path d="M292.9 753.1 Q292.7 760.0 291.6 766.8" stroke="#eea060" stroke-width="0.76" opacity="0.49"/><path d="M299.8 751.9 Q299.5 763.5 297.9 774.9" stroke="#eea060" stroke-width="1.08" opacity="0.57"/><path d="M295.4 755.3 Q284.7 761.6 273.5 767.1" stroke="#d56a16" stroke-width="0.63" opacity="0.42"/><path d="M291.2 758.9 Q279.9 765.5 271.1 774.7" stroke="#eea060" stroke-width="0.55" opacity="0.70"/><path d="M290.5 757.8 Q280.4 762.0 275.5 769.9" stroke="#ea9444" stroke-width="0.82" opacity="0.55"/><path d="M291.2 753.6 Q280.4 760.3 276.1 770.1" stroke="#cc6010" stroke-width="0.73" opacity="0.45"/><path d="M294.8 760.2 Q290.0 766.3 286.7 773.0" stroke="#cc6010" stroke-width="0.79" opacity="0.46"/><path d="M299.8 757.7 Q297.8 764.7 294.1 770.8" stroke="#dc7420" stroke-width="0.62" opacity="0.75"/><path d="M294.4 754.3 Q291.4 760.6 288.3 766.9" stroke="#f2b47c" stroke-width="0.93" opacity="0.51"/><path d="M290.2 753.5 Q283.6 759.6 280.9 767.3" stroke="#d56a16" stroke-width="0.62" opacity="0.79"/><path d="M292.4 758.2 Q291.7 765.4 289.2 771.9" stroke="#eea060" stroke-width="0.87" opacity="0.75"/><path d="M299.3 751.2 Q291.1 755.2 283.7 760.2" stroke="#f6c898" stroke-width="0.53" opacity="0.36"/><path d="M292.0 755.1 Q286.4 764.7 283.9 775.0" stroke="#f2b47c" stroke-width="0.94" opacity="0.80"/><path d="M293.5 752.5 Q283.0 761.9 280.0 773.5" stroke="#eea060" stroke-width="0.52" opacity="0.65"/><path d="M291.9 750.7 Q291.3 758.7 288.4 765.8" stroke="#f2b47c" stroke-width="0.75" opacity="0.75"/><path d="M297.7 754.4 Q289.2 759.7 283.5 767.2" stroke="#ea9444" stroke-width="0.99" opacity="0.54"/><path d="M299.4 752.6 Q294.3 759.0 288.2 764.3" stroke="#eea060" stroke-width="0.52" opacity="0.53"/><path d="M297.8 751.0 Q296.4 764.2 288.9 772.3" stroke="#d56a16" stroke-width="0.98" opacity="0.38"/><path d="M293.8 754.0 Q284.0 759.5 279.9 768.1" stroke="#dc7420" stroke-width="0.66" opacity="0.67"/><path d="M292.9 750.7 Q286.6 755.6 282.6 762.0" stroke="#d56a16" stroke-width="0.51" opacity="0.46"/><path d="M294.0 753.1 Q297.2 765.4 299.1 777.9" stroke="#eea060" stroke-width="0.58" opacity="0.57"/><path d="M299.5 753.7 Q295.4 757.2 292.5 761.6" stroke="#e58430" stroke-width="0.86" opacity="0.50"/><path d="M290.9 752.6 Q283.3 761.6 279.5 772.1" stroke="#cc6010" stroke-width="0.74" opacity="0.64"/><path d="M295.6 752.2 Q290.0 759.3 283.7 765.6" stroke="#d56a16" stroke-width="1.09" opacity="0.47"/><path d="M297.3 755.1 Q294.2 764.1 288.5 771.0" stroke="#f6c898" stroke-width="0.78" opacity="0.75"/><path d="M295.5 758.4 Q289.8 763.0 286.4 769.0" stroke="#ea9444" stroke-width="0.68" opacity="0.61"/><path d="M292.6 753.1 Q294.0 760.3 292.1 766.6" stroke="#cc6010" stroke-width="0.70" opacity="0.53"/><path d="M295.2 752.9 Q282.3 757.9 273.5 766.9" stroke="#eea060" stroke-width="1.09" opacity="0.40"/><path d="M299.3 751.0 Q302.1 762.8 301.3 774.5" stroke="#d56a16" stroke-width="0.53" opacity="0.62"/><path d="M292.1 751.4 Q285.3 760.9 278.7 770.5" stroke="#e58430" stroke-width="0.77" opacity="0.47"/><path d="M296.1 756.8 Q294.2 762.9 290.3 767.4" stroke="#f2b47c" stroke-width="0.70" opacity="0.37"/><path d="M290.5 757.9 Q286.0 771.7 289.0 783.9" stroke="#dc7420" stroke-width="0.99" opacity="0.53"/><path d="M290.5 755.6 Q289.1 761.2 287.6 766.8" stroke="#f6c898" stroke-width="0.56" opacity="0.53"/><path d="M296.5 751.5 Q292.4 760.9 285.2 766.7" stroke="#ea9444" stroke-width="0.75" opacity="0.48"/><path d="M295.8 754.2 Q294.5 761.8 292.2 769.0" stroke="#f2b47c" stroke-width="0.89" opacity="0.53"/><path d="M299.6 755.0 Q293.2 761.4 285.5 763.9" stroke="#d56a16" stroke-width="0.99" opacity="0.53"/><path d="M290.3 756.1 Q285.1 760.1 280.8 765.0" stroke="#f6c898" stroke-width="0.55" opacity="0.63"/><path d="M295.2 752.1 Q294.7 760.4 291.8 767.9" stroke="#e58430" stroke-width="1.06" opacity="0.40"/><path d="M289.8 733.1 Q286.1 738.7 286.1 744.4" stroke="#dc7420" stroke-width="0.66" opacity="0.54"/><path d="M288.7 739.0 Q283.8 740.2 279.5 742.6" stroke="#f6c898" stroke-width="0.82" opacity="0.64"/><path d="M292.5 737.5 Q292.5 741.6 290.4 744.4" stroke="#d56a16" stroke-width="0.58" opacity="0.44"/><path d="M297.5 740.0 Q296.8 743.6 294.8 746.4" stroke="#d56a16" stroke-width="0.92" opacity="0.57"/><path d="M292.4 740.4 Q288.4 742.2 285.6 745.2" stroke="#dc7420" stroke-width="0.65" opacity="0.40"/><path d="M291.5 736.9 Q290.3 741.2 287.6 744.3" stroke="#f2b47c" stroke-width="0.81" opacity="0.50"/><path d="M292.4 733.7 Q287.6 736.1 282.8 738.4" stroke="#f2b47c" stroke-width="0.53" opacity="0.44"/><path d="M295.8 736.9 Q292.3 734.7 288.4 733.5" stroke="#f2b47c" stroke-width="0.82" opacity="0.33"/><path d="M288.4 736.9 Q285.0 740.1 281.3 742.6" stroke="#f6c898" stroke-width="0.51" opacity="0.33"/><path d="M294.7 733.0 Q296.2 738.1 295.1 742.7" stroke="#dc7420" stroke-width="0.64" opacity="0.62"/><path d="M290.0 740.2 Q284.9 741.1 280.0 742.7" stroke="#eea060" stroke-width="0.58" opacity="0.66"/><path d="M296.0 733.3 Q294.9 737.0 293.8 740.7" stroke="#dc7420" stroke-width="0.60" opacity="0.41"/><path d="M289.6 733.5 Q286.6 735.2 285.2 737.8" stroke="#eea060" stroke-width="0.95" opacity="0.37"/><path d="M289.0 737.2 Q283.9 739.2 279.4 742.1" stroke="#eea060" stroke-width="0.98" opacity="0.48"/><path d="M290.3 737.2 Q286.5 742.1 285.6 747.6" stroke="#eea060" stroke-width="0.63" opacity="0.70"/><path d="M291.4 739.5 Q287.8 742.6 283.9 745.3" stroke="#f6c898" stroke-width="0.81" opacity="0.68"/><path d="M297.5 740.6 Q293.2 741.6 290.6 744.3" stroke="#eea060" stroke-width="0.87" opacity="0.60"/><path d="M290.7 738.1 Q287.0 738.2 283.4 737.8" stroke="#eea060" stroke-width="0.95" opacity="0.35"/><path d="M287.8 735.4 Q285.6 738.0 282.8 738.9" stroke="#eea060" stroke-width="0.77" opacity="0.47"/><path d="M289.2 735.5 Q285.7 733.1 281.9 732.6" stroke="#f6c898" stroke-width="0.57" opacity="0.67"/><path d="M294.2 740.6 Q290.8 741.2 288.1 743.0" stroke="#dc7420" stroke-width="0.91" opacity="0.69"/><path d="M296.0 740.8 Q292.9 741.2 289.8 741.9" stroke="#d56a16" stroke-width="0.72" opacity="0.67"/><path d="M288.3 737.2 Q283.8 740.8 278.9 743.7" stroke="#f6c898" stroke-width="0.58" opacity="0.66"/><path d="M293.9 738.4 Q292.9 741.8 290.7 744.2" stroke="#dc7420" stroke-width="0.60" opacity="0.54"/><path d="M289.6 735.0 Q289.2 740.6 287.4 745.6" stroke="#f2b47c" stroke-width="1.00" opacity="0.59"/><path d="M293.2 735.6 Q289.6 738.3 285.8 740.5" stroke="#dc7420" stroke-width="0.54" opacity="0.56"/><path d="M294.3 733.1 Q291.1 730.4 287.5 729.7" stroke="#eea060" stroke-width="0.86" opacity="0.41"/><path d="M292.2 739.8 Q290.0 735.6 287.6 731.6" stroke="#eea060" stroke-width="0.65" opacity="0.67"/><path d="M289.5 740.9 Q284.6 740.7 280.6 742.6" stroke="#f6c898" stroke-width="0.97" opacity="0.60"/><path d="M296.6 735.2 Q294.2 738.6 291.0 740.8" stroke="#d56a16" stroke-width="0.73" opacity="0.64"/><path d="M295.1 737.6 Q293.0 741.5 290.0 744.6" stroke="#f6c898" stroke-width="0.70" opacity="0.53"/><path d="M289.5 732.2 Q291.4 737.0 290.6 741.5" stroke="#d56a16" stroke-width="0.96" opacity="0.44"/><path d="M294.7 738.2 Q291.6 738.9 288.9 740.4" stroke="#f2b47c" stroke-width="0.53" opacity="0.54"/><path d="M296.0 740.1 Q291.5 740.0 288.0 742.0" stroke="#f2b47c" stroke-width="0.94" opacity="0.60"/><path d="M289.8 732.2 Q285.6 732.9 283.1 735.3" stroke="#f2b47c" stroke-width="0.91" opacity="0.55"/><path d="M288.8 732.9 Q285.8 735.5 284.0 738.9" stroke="#f6c898" stroke-width="0.65" opacity="0.43"/><path d="M288.3 739.5 Q281.9 740.1 277.5 743.6" stroke="#d56a16" stroke-width="0.75" opacity="0.64"/><path d="M288.1 736.0 Q283.3 736.6 278.4 736.7" stroke="#f2b47c" stroke-width="0.67" opacity="0.58"/><path d="M288.7 740.1 Q286.9 745.8 283.0 749.7" stroke="#f2b47c" stroke-width="0.76" opacity="0.42"/><path d="M288.4 735.4 Q285.5 740.5 281.1 742.9" stroke="#f6c898" stroke-width="0.98" opacity="0.54"/><path d="M306.9 765.0 C305.5 767.3 302.0 774.6 298.7 779.1 C295.4 783.6 291.3 788.3 287.0 792.0 C282.7 795.6 275.2 799.3 272.9 800.7" stroke="#d96e1c" stroke-width="1.8" opacity="0.9"/><path d="M310.4 766.2 C309.2 768.7 306.1 776.9 303.4 781.4 C300.6 785.9 297.3 790.2 294.0 793.1 C290.7 796.1 285.2 798.0 283.4 799.0" stroke="#e27e2c" stroke-width="1.5" opacity="0.75"/><path d="M317.4 709.9 C319.2 706.7 324.8 704.5 328.0 704.6 C331.1 704.8 334.0 707.7 336.2 711.1 C338.3 714.5 339.4 720.5 340.9 725.2 C342.3 729.8 344.0 734.1 345.0 739.2 C345.9 744.3 347.0 750.5 346.7 755.6 C346.4 760.7 345.4 767.0 343.2 769.7 C341.1 772.4 336.7 773.2 333.8 772.0 C331.0 770.9 328.1 766.6 326.2 762.7 C324.4 758.8 323.5 753.3 322.7 748.6 C321.9 743.9 322.4 738.6 321.5 734.5 C320.6 730.4 318.1 728.1 317.4 724.0 C316.7 719.9 315.7 713.1 317.4 709.9 Z" fill="#72b6ee" stroke="none" filter="url(#soft2)"/><path d="M320.9 713.4 C321.7 710.1 327.8 708.8 330.3 709.9 C332.9 711.1 335.4 716.8 336.2 720.5 C337.0 724.2 336.8 730.6 335.0 732.2 C333.2 733.8 328.0 733.0 325.6 729.8 C323.3 726.7 320.2 716.8 320.9 713.4 Z" fill="#62a8e6" stroke="none" opacity="0.8" filter="url(#soft2)"/><path d="M311.6 716.4 C312.7 715.1 317.0 714.1 318.6 715.2 C320.2 716.3 321.3 721.0 320.9 722.8 C320.5 724.7 317.8 726.3 316.3 726.3 C314.7 726.3 312.3 724.5 311.6 722.8 C310.8 721.2 310.4 717.6 311.6 716.4 Z" fill="#4a5a80" stroke="none" opacity="0.55" filter="url(#soft1)"/><path d="M324.9 730.2 Q320.3 734.4 319.1 739.6" stroke="#5aa3e2" stroke-width="0.80" opacity="0.35"/><path d="M323.6 729.8 Q328.5 733.1 333.9 734.8" stroke="#6fb1ea" stroke-width="0.88" opacity="0.46"/><path d="M323.7 731.4 Q329.6 726.6 336.0 726.4" stroke="#5aa3e2" stroke-width="0.68" opacity="0.49"/><path d="M325.1 732.9 Q325.6 738.3 327.2 743.5" stroke="#4f98da" stroke-width="0.58" opacity="0.57"/><path d="M331.6 725.5 Q334.9 727.7 338.4 727.9" stroke="#4f98da" stroke-width="0.90" opacity="0.63"/><path d="M329.3 729.5 Q332.9 727.4 336.1 725.0" stroke="#5aa3e2" stroke-width="0.70" opacity="0.59"/><path d="M334.4 730.4 Q338.5 732.2 342.7 733.4" stroke="#5aa3e2" stroke-width="1.08" opacity="0.63"/><path d="M327.9 720.9 Q334.3 721.1 338.7 718.1" stroke="#8cc4f2" stroke-width="1.09" opacity="0.63"/><path d="M328.5 732.9 Q324.4 732.7 320.8 734.1" stroke="#8cc4f2" stroke-width="0.76" opacity="0.39"/><path d="M324.0 720.5 Q320.8 725.2 316.9 729.4" stroke="#6fb1ea" stroke-width="0.51" opacity="0.68"/><path d="M327.1 717.5 Q334.0 715.6 340.8 716.1" stroke="#4f98da" stroke-width="0.50" opacity="0.41"/><path d="M333.5 726.6 Q336.2 732.6 339.9 737.9" stroke="#5aa3e2" stroke-width="0.90" opacity="0.59"/><path d="M326.0 720.1 Q327.3 726.0 325.7 731.1" stroke="#4f98da" stroke-width="0.69" opacity="0.58"/><path d="M329.0 729.7 Q333.0 729.3 336.5 727.8" stroke="#5aa3e2" stroke-width="0.65" opacity="0.49"/><path d="M333.1 732.0 Q335.7 727.4 339.6 724.6" stroke="#8cc4f2" stroke-width="0.97" opacity="0.47"/><path d="M337.9 717.8 Q340.0 722.5 342.4 727.2" stroke="#5aa3e2" stroke-width="0.93" opacity="0.73"/><path d="M329.6 720.4 Q333.3 725.8 336.8 731.2" stroke="#6fb1ea" stroke-width="0.88" opacity="0.67"/><path d="M328.9 732.3 Q330.5 737.7 329.8 742.9" stroke="#5aa3e2" stroke-width="0.74" opacity="0.64"/><path d="M323.2 721.5 Q318.8 723.4 314.2 724.5" stroke="#6fb1ea" stroke-width="0.55" opacity="0.71"/><path d="M333.1 726.4 Q328.6 730.9 323.3 732.2" stroke="#8cc4f2" stroke-width="0.94" opacity="0.72"/><path d="M328.6 720.5 Q334.8 717.6 340.9 718.0" stroke="#6fb1ea" stroke-width="0.99" opacity="0.59"/><path d="M331.3 720.8 Q334.1 726.0 338.5 728.1" stroke="#8cc4f2" stroke-width="0.90" opacity="0.67"/><path d="M334.5 727.6 Q336.3 734.7 340.4 740.2" stroke="#4f98da" stroke-width="0.71" opacity="0.68"/><path d="M328.3 721.2 Q332.4 719.4 336.6 718.0" stroke="#5aa3e2" stroke-width="0.79" opacity="0.66"/><path d="M327.4 724.9 Q329.9 730.2 333.1 735.0" stroke="#6fb1ea" stroke-width="0.90" opacity="0.46"/><path d="M336.0 718.1 Q343.2 719.0 349.4 716.9" stroke="#8cc4f2" stroke-width="0.97" opacity="0.36"/><path d="M322.5 732.4 Q322.4 736.0 323.0 739.5" stroke="#8cc4f2" stroke-width="0.86" opacity="0.56"/><path d="M325.3 724.4 Q331.9 722.6 336.9 718.6" stroke="#5aa3e2" stroke-width="1.04" opacity="0.66"/><path d="M334.8 727.9 Q331.0 732.8 330.4 738.2" stroke="#8cc4f2" stroke-width="0.62" opacity="0.61"/><path d="M334.2 724.2 Q328.3 724.7 324.1 727.8" stroke="#a6d3f6" stroke-width="0.57" opacity="0.49"/><path d="M330.1 731.6 Q330.5 737.2 332.5 742.3" stroke="#5aa3e2" stroke-width="0.80" opacity="0.54"/><path d="M322.4 730.6 Q328.5 728.1 334.6 725.9" stroke="#a6d3f6" stroke-width="0.80" opacity="0.43"/><path d="M333.1 720.0 Q339.2 716.4 345.8 714.0" stroke="#6fb1ea" stroke-width="0.51" opacity="0.32"/><path d="M338.3 730.1 Q344.3 733.2 347.3 738.3" stroke="#4f98da" stroke-width="0.79" opacity="0.70"/><path d="M327.7 730.9 Q324.5 735.7 320.5 739.7" stroke="#4f98da" stroke-width="0.97" opacity="0.55"/><path d="M326.9 722.6 Q331.9 727.4 334.9 733.4" stroke="#6fb1ea" stroke-width="1.00" opacity="0.43"/><path d="M326.7 725.3 Q325.8 731.3 328.2 735.7" stroke="#4f98da" stroke-width="0.98" opacity="0.45"/><path d="M327.1 726.5 Q331.8 726.2 336.2 724.9" stroke="#6fb1ea" stroke-width="0.74" opacity="0.55"/><path d="M324.1 717.9 Q329.3 717.5 333.4 715.2" stroke="#4f98da" stroke-width="0.87" opacity="0.60"/><path d="M336.9 726.9 Q336.7 733.3 337.6 739.4" stroke="#a6d3f6" stroke-width="1.03" opacity="0.34"/><path d="M325.1 727.8 Q319.9 731.2 317.4 736.2" stroke="#4f98da" stroke-width="0.96" opacity="0.71"/><path d="M328.2 730.3 Q329.3 736.4 332.4 741.1" stroke="#a6d3f6" stroke-width="0.93" opacity="0.69"/><path d="M331.4 726.4 Q332.6 730.2 335.2 732.4" stroke="#4f98da" stroke-width="0.84" opacity="0.32"/><path d="M335.3 726.4 Q336.0 730.7 338.5 733.5" stroke="#4f98da" stroke-width="0.54" opacity="0.61"/><path d="M324.8 729.5 Q322.4 724.2 319.7 719.0" stroke="#6fb1ea" stroke-width="0.89" opacity="0.40"/><path d="M322.6 717.2 Q325.1 713.9 326.6 710.2" stroke="#6fb1ea" stroke-width="1.09" opacity="0.69"/><path d="M326.7 726.3 Q330.5 729.8 334.0 733.5" stroke="#5aa3e2" stroke-width="1.05" opacity="0.46"/><path d="M333.4 719.5 Q333.7 725.9 336.2 731.4" stroke="#8cc4f2" stroke-width="0.88" opacity="0.62"/><path d="M337.7 728.6 Q334.8 724.5 335.0 720.3" stroke="#6fb1ea" stroke-width="1.03" opacity="0.61"/><path d="M328.5 722.2 Q329.4 727.8 331.1 733.2" stroke="#4f98da" stroke-width="0.87" opacity="0.44"/><path d="M325.0 732.6 Q323.3 738.0 319.6 741.4" stroke="#5aa3e2" stroke-width="0.88" opacity="0.49"/><path d="M334.9 732.3 Q339.4 734.7 344.2 735.1" stroke="#a6d3f6" stroke-width="0.70" opacity="0.43"/><path d="M331.9 731.1 Q338.4 730.2 344.0 727.5" stroke="#6fb1ea" stroke-width="1.00" opacity="0.57"/><path d="M329.2 731.4 Q333.2 729.1 337.6 727.7" stroke="#4f98da" stroke-width="0.86" opacity="0.70"/><path d="M326.5 723.9 Q328.1 727.1 330.1 730.0" stroke="#6fb1ea" stroke-width="0.67" opacity="0.36"/><path d="M338.2 719.5 Q345.2 722.6 351.3 721.2" stroke="#a6d3f6" stroke-width="0.91" opacity="0.71"/><path d="M335.1 720.4 Q339.3 724.2 344.3 726.2" stroke="#5aa3e2" stroke-width="0.69" opacity="0.33"/><path d="M333.6 732.0 Q335.6 736.5 338.1 740.7" stroke="#6fb1ea" stroke-width="0.97" opacity="0.51"/><path d="M326.0 726.4 Q319.7 729.0 316.1 733.8" stroke="#a6d3f6" stroke-width="0.69" opacity="0.53"/><path d="M325.7 718.6 Q323.7 722.6 323.5 726.7" stroke="#8cc4f2" stroke-width="0.72" opacity="0.55"/><path d="M328.9 763.6 Q333.3 764.9 337.4 767.0" stroke="#6fb1ea" stroke-width="0.72" opacity="0.53"/><path d="M333.2 748.1 Q334.8 752.3 335.0 756.6" stroke="#a6d3f6" stroke-width="0.51" opacity="0.32"/><path d="M337.2 751.8 Q331.9 755.1 328.5 759.8" stroke="#4f98da" stroke-width="0.56" opacity="0.52"/><path d="M337.9 749.7 Q339.3 756.5 343.3 761.3" stroke="#8cc4f2" stroke-width="0.62" opacity="0.39"/><path d="M342.1 755.0 Q341.1 762.0 343.8 767.3" stroke="#6fb1ea" stroke-width="1.02" opacity="0.62"/><path d="M339.5 749.1 Q344.2 755.4 347.0 762.5" stroke="#5aa3e2" stroke-width="0.88" opacity="0.78"/><path d="M330.7 763.1 Q332.6 769.5 337.1 772.8" stroke="#5aa3e2" stroke-width="0.60" opacity="0.77"/><path d="M329.1 756.5 Q338.0 756.4 344.0 760.9" stroke="#6fb1ea" stroke-width="0.65" opacity="0.56"/><path d="M329.8 752.7 Q336.0 755.7 338.5 760.7" stroke="#5aa3e2" stroke-width="0.91" opacity="0.45"/><path d="M340.3 749.3 Q346.7 748.1 353.0 748.4" stroke="#8cc4f2" stroke-width="0.73" opacity="0.49"/><path d="M342.8 761.9 Q349.0 765.6 355.1 769.5" stroke="#5aa3e2" stroke-width="0.98" opacity="0.38"/><path d="M329.4 757.5 Q331.1 764.8 331.4 772.1" stroke="#5aa3e2" stroke-width="0.97" opacity="0.78"/><path d="M329.4 763.2 Q330.2 767.3 330.0 771.3" stroke="#5aa3e2" stroke-width="0.79" opacity="0.61"/><path d="M331.7 748.5 Q334.2 752.6 337.5 755.6" stroke="#a6d3f6" stroke-width="1.03" opacity="0.52"/><path d="M328.6 756.8 Q330.5 761.5 331.0 766.4" stroke="#5aa3e2" stroke-width="0.66" opacity="0.35"/><path d="M335.9 750.1 Q335.9 755.9 335.9 761.7" stroke="#5aa3e2" stroke-width="0.84" opacity="0.72"/><path d="M335.1 751.8 Q335.7 760.0 333.5 767.5" stroke="#5aa3e2" stroke-width="0.56" opacity="0.44"/><path d="M329.1 759.3 Q329.6 767.0 328.0 774.4" stroke="#6fb1ea" stroke-width="0.77" opacity="0.55"/><path d="M343.3 752.2 Q350.4 753.8 356.9 756.7" stroke="#6fb1ea" stroke-width="1.05" opacity="0.41"/><path d="M330.4 750.5 Q332.0 756.9 335.7 761.9" stroke="#5aa3e2" stroke-width="0.62" opacity="0.34"/><path d="M332.6 750.9 Q330.6 756.6 329.7 762.5" stroke="#5aa3e2" stroke-width="0.85" opacity="0.40"/><path d="M339.9 754.2 Q339.1 758.5 339.7 762.7" stroke="#6fb1ea" stroke-width="0.81" opacity="0.47"/><path d="M329.6 754.2 Q332.7 761.7 338.0 767.3" stroke="#5aa3e2" stroke-width="1.02" opacity="0.43"/><path d="M341.5 753.5 Q341.7 758.6 339.9 762.9" stroke="#8cc4f2" stroke-width="0.84" opacity="0.73"/><path d="M329.3 753.3 Q337.5 752.3 345.0 754.1" stroke="#8cc4f2" stroke-width="0.97" opacity="0.73"/><path d="M342.5 752.3 Q341.5 759.2 337.6 763.9" stroke="#4f98da" stroke-width="0.77" opacity="0.31"/><path d="M329.6 757.5 Q333.4 761.3 335.0 765.9" stroke="#8cc4f2" stroke-width="0.65" opacity="0.71"/><path d="M329.7 758.8 Q333.8 760.5 336.6 763.4" stroke="#6fb1ea" stroke-width="1.00" opacity="0.62"/><path d="M333.8 749.1 Q339.8 750.6 344.2 754.2" stroke="#8cc4f2" stroke-width="0.57" opacity="0.55"/><path d="M332.6 749.6 Q335.7 754.8 338.1 760.3" stroke="#5aa3e2" stroke-width="0.82" opacity="0.41"/><path d="M334.5 762.8 Q339.9 766.9 341.4 772.3" stroke="#4f98da" stroke-width="0.92" opacity="0.60"/><path d="M328.8 763.2 Q329.6 770.4 326.7 775.8" stroke="#8cc4f2" stroke-width="0.70" opacity="0.42"/><path d="M341.0 762.2 Q345.1 769.7 351.3 774.3" stroke="#a6d3f6" stroke-width="0.53" opacity="0.56"/><path d="M343.1 751.6 Q343.6 759.5 343.1 767.3" stroke="#6fb1ea" stroke-width="0.72" opacity="0.57"/><path d="M328.5 749.9 Q324.7 755.6 325.0 761.4" stroke="#4f98da" stroke-width="0.88" opacity="0.70"/><path d="M342.3 748.2 Q342.9 755.8 345.0 763.0" stroke="#8cc4f2" stroke-width="1.05" opacity="0.61"/><path d="M329.8 749.6 Q334.4 748.4 338.1 750.0" stroke="#5aa3e2" stroke-width="1.07" opacity="0.44"/><path d="M338.5 749.6 Q343.5 751.4 348.5 752.6" stroke="#a6d3f6" stroke-width="1.04" opacity="0.34"/><path d="M336.4 761.8 Q342.5 763.8 347.9 762.4" stroke="#a6d3f6" stroke-width="0.67" opacity="0.42"/><path d="M336.9 761.1 Q340.9 762.8 345.1 764.0" stroke="#a6d3f6" stroke-width="0.63" opacity="0.49"/><path d="M333.0 755.3 Q338.3 761.4 345.1 764.4" stroke="#6fb1ea" stroke-width="0.65" opacity="0.41"/><path d="M334.3 757.0 Q340.9 759.3 344.0 764.2" stroke="#8cc4f2" stroke-width="0.60" opacity="0.78"/><path d="M342.2 751.1 Q347.7 752.9 350.7 756.8" stroke="#6fb1ea" stroke-width="0.60" opacity="0.33"/><path d="M335.2 748.6 Q336.5 756.1 336.6 763.5" stroke="#4f98da" stroke-width="0.71" opacity="0.68"/><path d="M343.1 754.3 Q348.9 750.6 353.4 745.7" stroke="#5aa3e2" stroke-width="0.91" opacity="0.61"/><path d="M341.3 755.9 Q344.9 762.7 350.3 767.7" stroke="#4f98da" stroke-width="0.66" opacity="0.62"/><path d="M329.8 754.2 Q334.9 756.7 340.1 758.9" stroke="#6fb1ea" stroke-width="0.80" opacity="0.78"/><path d="M334.9 760.2 Q339.8 764.9 345.8 766.4" stroke="#a6d3f6" stroke-width="0.57" opacity="0.73"/><path d="M333.8 756.0 Q336.8 760.6 340.4 764.6" stroke="#8cc4f2" stroke-width="0.50" opacity="0.67"/><path d="M334.3 752.4 Q340.7 757.1 347.5 761.3" stroke="#5aa3e2" stroke-width="0.76" opacity="0.49"/><path d="M343.7 757.4 Q347.2 761.6 349.0 766.6" stroke="#8cc4f2" stroke-width="0.62" opacity="0.51"/><path d="M328.3 748.4 Q323.5 754.3 319.3 760.7" stroke="#4f98da" stroke-width="0.68" opacity="0.57"/><path d="M341.4 759.3 Q346.0 762.7 350.3 766.6" stroke="#4f98da" stroke-width="0.71" opacity="0.60"/><path d="M343.3 758.5 Q341.8 763.6 340.4 768.9" stroke="#6fb1ea" stroke-width="0.75" opacity="0.55"/><path d="M331.2 754.4 Q335.8 754.8 340.3 755.9" stroke="#a6d3f6" stroke-width="1.04" opacity="0.59"/><path d="M340.1 749.1 Q346.8 747.5 353.5 747.1" stroke="#8cc4f2" stroke-width="1.09" opacity="0.71"/><path d="M339.2 760.8 Q341.7 769.2 347.6 773.4" stroke="#4f98da" stroke-width="0.88" opacity="0.56"/><path d="M331.5 761.9 Q335.9 767.7 339.6 774.0" stroke="#6fb1ea" stroke-width="0.88" opacity="0.60"/><path d="M328.9 754.2 Q335.6 755.6 341.9 754.3" stroke="#8cc4f2" stroke-width="0.93" opacity="0.58"/><path d="M334.5 749.2 Q330.3 757.0 323.6 759.9" stroke="#6fb1ea" stroke-width="0.62" opacity="0.55"/><path d="M336.7 763.6 Q341.8 767.8 347.3 771.3" stroke="#4f98da" stroke-width="0.86" opacity="0.37"/><path d="M336.3 748.1 Q342.6 750.9 345.7 755.8" stroke="#a6d3f6" stroke-width="0.79" opacity="0.53"/><path d="M339.1 756.9 Q345.9 754.4 352.2 755.3" stroke="#5aa3e2" stroke-width="0.71" opacity="0.38"/><path d="M329.8 762.1 Q329.6 767.2 330.0 772.2" stroke="#8cc4f2" stroke-width="0.61" opacity="0.61"/><path d="M340.4 748.3 Q343.9 753.6 343.8 759.0" stroke="#5aa3e2" stroke-width="0.65" opacity="0.32"/><path d="M341.9 752.7 Q342.1 761.2 346.1 767.5" stroke="#4f98da" stroke-width="0.68" opacity="0.60"/><path d="M332.1 753.9 Q328.7 761.2 327.8 768.9" stroke="#5aa3e2" stroke-width="0.75" opacity="0.50"/><path d="M328.5 761.5 Q335.5 764.6 339.3 770.0" stroke="#5aa3e2" stroke-width="0.72" opacity="0.39"/><path d="M330.0 756.2 Q331.0 762.4 331.0 768.6" stroke="#4f98da" stroke-width="0.89" opacity="0.78"/><path d="M342.8 756.5 Q346.7 760.7 349.8 765.4" stroke="#4f98da" stroke-width="0.67" opacity="0.42"/><path d="M330.9 767.5 Q332.6 777.4 329.4 785.6" stroke="#8cc4f2" stroke-width="0.88" opacity="0.74"/><path d="M334.6 768.5 Q338.8 779.3 338.9 790.1" stroke="#8cc4f2" stroke-width="0.75" opacity="0.71"/><path d="M340.4 765.1 Q347.6 769.1 352.5 775.2" stroke="#4f98da" stroke-width="0.97" opacity="0.82"/><path d="M336.2 764.3 Q322.4 774.9 318.9 788.8" stroke="#a6d3f6" stroke-width="0.67" opacity="0.65"/><path d="M335.2 765.5 Q337.3 772.6 337.1 779.6" stroke="#4f98da" stroke-width="0.52" opacity="0.71"/><path d="M329.2 767.5 Q324.5 773.4 321.7 780.1" stroke="#5aa3e2" stroke-width="0.72" opacity="0.68"/><path d="M335.0 762.6 Q338.5 772.4 336.3 781.0" stroke="#8cc4f2" stroke-width="0.56" opacity="0.49"/><path d="M333.8 763.3 Q327.2 776.1 327.3 789.2" stroke="#4f98da" stroke-width="1.04" opacity="0.79"/><path d="M329.4 767.2 Q328.3 775.7 329.2 784.1" stroke="#8cc4f2" stroke-width="1.13" opacity="0.36"/><path d="M334.6 771.0 Q339.6 782.3 343.0 794.2" stroke="#6fb1ea" stroke-width="0.63" opacity="0.41"/><path d="M329.5 759.5 Q331.1 772.8 327.0 784.2" stroke="#5aa3e2" stroke-width="1.03" opacity="0.43"/><path d="M335.6 766.6 Q335.0 780.9 341.4 791.2" stroke="#a6d3f6" stroke-width="1.09" opacity="0.64"/><path d="M337.2 763.2 Q345.2 771.5 346.1 780.9" stroke="#8cc4f2" stroke-width="1.13" opacity="0.79"/><path d="M337.4 770.7 Q339.6 782.0 344.5 792.1" stroke="#6fb1ea" stroke-width="1.05" opacity="0.46"/><path d="M337.3 763.7 Q333.6 769.7 332.1 776.2" stroke="#5aa3e2" stroke-width="0.70" opacity="0.39"/><path d="M334.1 770.2 Q337.3 784.7 344.0 797.4" stroke="#4f98da" stroke-width="0.86" opacity="0.69"/><path d="M338.3 764.9 Q344.0 778.2 343.6 791.6" stroke="#a6d3f6" stroke-width="0.68" opacity="0.62"/><path d="M336.7 765.5 Q336.9 780.9 332.0 794.6" stroke="#6fb1ea" stroke-width="0.62" opacity="0.52"/><path d="M337.2 764.8 Q336.0 772.0 334.5 779.0" stroke="#5aa3e2" stroke-width="0.50" opacity="0.70"/><path d="M336.7 767.4 Q339.3 774.8 338.2 781.7" stroke="#5aa3e2" stroke-width="0.91" opacity="0.47"/><path d="M340.3 767.1 Q346.9 775.4 348.8 784.8" stroke="#4f98da" stroke-width="1.09" opacity="0.55"/><path d="M337.3 759.2 Q339.6 766.6 341.9 774.2" stroke="#6fb1ea" stroke-width="0.54" opacity="0.49"/><path d="M330.4 762.9 Q330.9 772.9 331.0 783.0" stroke="#8cc4f2" stroke-width="0.70" opacity="0.63"/><path d="M334.6 770.8 Q332.9 776.9 331.1 783.1" stroke="#8cc4f2" stroke-width="1.19" opacity="0.63"/><path d="M331.3 765.5 Q336.0 776.0 333.8 785.2" stroke="#6fb1ea" stroke-width="0.95" opacity="0.66"/><path d="M336.8 762.0 Q340.4 776.7 338.8 790.8" stroke="#5aa3e2" stroke-width="1.02" opacity="0.36"/><path d="M340.5 765.3 Q339.2 775.5 342.8 783.8" stroke="#5aa3e2" stroke-width="0.57" opacity="0.71"/><path d="M336.4 763.6 Q335.4 772.4 336.3 781.1" stroke="#8cc4f2" stroke-width="0.72" opacity="0.53"/><path d="M331.9 759.5 Q336.9 772.1 343.1 784.0" stroke="#4f98da" stroke-width="1.13" opacity="0.82"/><path d="M335.0 760.9 Q340.2 770.3 342.5 780.4" stroke="#a6d3f6" stroke-width="0.94" opacity="0.42"/><path d="M333.8 770.8 Q330.7 783.1 333.4 794.2" stroke="#4f98da" stroke-width="0.63" opacity="0.71"/><path d="M339.1 769.3 Q337.0 775.3 337.5 781.2" stroke="#4f98da" stroke-width="0.60" opacity="0.39"/><path d="M329.8 759.1 Q318.4 770.3 316.1 783.6" stroke="#5aa3e2" stroke-width="1.13" opacity="0.43"/><path d="M334.3 765.8 Q336.0 774.4 335.7 783.0" stroke="#5aa3e2" stroke-width="0.83" opacity="0.62"/><path d="M336.5 760.9 Q342.9 769.7 347.9 779.3" stroke="#a6d3f6" stroke-width="0.93" opacity="0.76"/><path d="M337.1 766.3 Q340.0 772.4 341.1 778.8" stroke="#a6d3f6" stroke-width="0.79" opacity="0.53"/><path d="M335.4 766.6 Q333.5 781.4 338.2 794.0" stroke="#5aa3e2" stroke-width="0.98" opacity="0.57"/><path d="M336.9 763.5 Q338.4 770.1 340.6 776.5" stroke="#4f98da" stroke-width="0.75" opacity="0.47"/><path d="M340.6 761.4 Q341.6 769.8 345.1 776.9" stroke="#5aa3e2" stroke-width="1.10" opacity="0.48"/><path d="M335.4 762.0 Q336.1 768.8 336.6 775.7" stroke="#a6d3f6" stroke-width="0.82" opacity="0.62"/><path d="M335.8 769.2 Q337.7 783.6 343.0 796.7" stroke="#4f98da" stroke-width="0.59" opacity="0.60"/><path d="M339.1 770.4 Q344.3 779.7 351.0 787.8" stroke="#a6d3f6" stroke-width="0.57" opacity="0.77"/><path d="M335.8 768.3 Q346.5 780.1 349.8 794.0" stroke="#a6d3f6" stroke-width="0.54" opacity="0.47"/><path d="M329.2 766.1 Q332.9 775.3 332.7 784.5" stroke="#8cc4f2" stroke-width="0.58" opacity="0.42"/><path d="M331.4 760.4 Q328.3 775.5 330.0 790.1" stroke="#8cc4f2" stroke-width="0.62" opacity="0.72"/><path d="M338.2 767.2 Q337.0 776.8 339.8 785.2" stroke="#6fb1ea" stroke-width="0.67" opacity="0.61"/><path d="M338.8 763.2 Q345.1 771.7 349.4 781.1" stroke="#8cc4f2" stroke-width="1.06" opacity="0.41"/><path d="M337.1 762.1 Q345.4 774.9 347.4 788.8" stroke="#4f98da" stroke-width="0.51" opacity="0.84"/><path d="M329.9 762.1 Q339.9 767.3 345.6 775.7" stroke="#8cc4f2" stroke-width="1.11" opacity="0.68"/><path d="M336.1 762.0 Q327.6 775.3 328.9 788.1" stroke="#8cc4f2" stroke-width="1.16" opacity="0.36"/><path d="M339.5 768.6 Q348.0 777.2 349.5 787.1" stroke="#5aa3e2" stroke-width="0.93" opacity="0.67"/><path d="M339.1 770.6 Q336.8 782.1 337.6 793.4" stroke="#4f98da" stroke-width="0.78" opacity="0.79"/><path d="M331.6 769.7 Q333.1 778.6 335.6 787.2" stroke="#6fb1ea" stroke-width="0.65" opacity="0.76"/><path d="M333.0 764.6 Q329.8 778.4 334.1 789.7" stroke="#8cc4f2" stroke-width="0.50" opacity="0.64"/><path d="M340.8 759.5 Q347.1 768.6 348.3 778.4" stroke="#5aa3e2" stroke-width="0.69" opacity="0.49"/><path d="M332.1 765.8 Q333.0 776.3 334.4 786.7" stroke="#5aa3e2" stroke-width="1.19" opacity="0.37"/><path d="M338.3 766.6 Q345.2 778.8 354.2 789.3" stroke="#8cc4f2" stroke-width="1.05" opacity="0.75"/><path d="M338.6 760.7 Q345.4 766.7 347.5 774.3" stroke="#8cc4f2" stroke-width="1.02" opacity="0.60"/><path d="M333.9 759.7 Q339.8 769.2 343.3 779.5" stroke="#8cc4f2" stroke-width="1.12" opacity="0.74"/><path d="M339.7 768.7 Q338.0 780.8 343.0 789.5" stroke="#5aa3e2" stroke-width="0.59" opacity="0.35"/><path d="M335.8 762.6 Q339.2 772.9 337.7 782.6" stroke="#6fb1ea" stroke-width="0.60" opacity="0.71"/><path d="M335.9 766.9 Q335.1 776.3 339.2 783.1" stroke="#6fb1ea" stroke-width="1.14" opacity="0.64"/><path d="M340.9 763.3 Q337.2 774.5 337.9 785.5" stroke="#4f98da" stroke-width="1.00" opacity="0.81"/><path d="M332.8 761.1 Q327.5 775.1 329.8 788.0" stroke="#a6d3f6" stroke-width="0.52" opacity="0.43"/><path d="M333.8 761.4 Q334.7 769.4 336.7 777.1" stroke="#a6d3f6" stroke-width="0.95" opacity="0.45"/><path d="M340.6 766.2 Q342.7 780.2 337.8 791.3" stroke="#a6d3f6" stroke-width="0.74" opacity="0.42"/><path d="M336.7 770.1 Q341.8 783.8 341.2 797.5" stroke="#8cc4f2" stroke-width="1.11" opacity="0.36"/><path d="M336.3 768.6 Q338.4 779.6 335.7 789.4" stroke="#4f98da" stroke-width="1.06" opacity="0.39"/><path d="M333.8 770.3 Q336.5 786.4 345.6 797.6" stroke="#6fb1ea" stroke-width="1.15" opacity="0.63"/><path d="M329.7 766.4 Q333.7 781.2 341.8 793.6" stroke="#8cc4f2" stroke-width="0.61" opacity="0.36"/><path d="M319.5 768.3 Q318.5 780.4 315.3 791.9" stroke="#9a9aa8" stroke-width="0.83" opacity="0.36"/><path d="M321.7 767.0 Q315.0 778.1 310.0 789.9" stroke="#b58a68" stroke-width="0.78" opacity="0.61"/><path d="M320.5 767.5 Q319.6 780.3 319.1 793.1" stroke="#7d8aa0" stroke-width="0.47" opacity="0.30"/><path d="M322.5 772.4 Q319.0 781.4 314.1 789.7" stroke="#a08678" stroke-width="0.60" opacity="0.69"/><path d="M321.4 766.7 Q316.4 772.5 313.7 779.1" stroke="#7d8aa0" stroke-width="0.87" opacity="0.45"/><path d="M317.7 772.1 Q314.1 779.3 314.3 786.6" stroke="#a08678" stroke-width="0.66" opacity="0.44"/><path d="M318.1 773.8 Q311.8 785.2 311.4 797.1" stroke="#b58a68" stroke-width="0.63" opacity="0.43"/><path d="M317.0 772.0 Q322.9 784.1 322.4 796.2" stroke="#b58a68" stroke-width="0.74" opacity="0.44"/><path d="M319.7 771.3 Q312.8 782.5 311.3 794.6" stroke="#8a7a78" stroke-width="0.53" opacity="0.40"/><path d="M318.3 766.7 Q312.6 774.5 309.7 783.3" stroke="#7d8aa0" stroke-width="0.55" opacity="0.70"/><path d="M324.6 773.4 Q324.6 781.1 322.5 788.3" stroke="#a08678" stroke-width="0.81" opacity="0.41"/><path d="M320.8 773.6 Q319.8 782.7 315.6 790.1" stroke="#9a9aa8" stroke-width="0.70" opacity="0.48"/><path d="M324.8 768.3 Q324.2 776.4 326.3 784.0" stroke="#b58a68" stroke-width="0.49" opacity="0.65"/><path d="M318.9 764.9 Q324.4 777.7 323.8 790.4" stroke="#8a7a78" stroke-width="0.47" opacity="0.42"/><path d="M320.6 768.7 Q321.8 780.0 321.8 791.4" stroke="#b58a68" stroke-width="0.84" opacity="0.69"/><path d="M318.3 772.6 Q315.9 779.0 315.0 785.6" stroke="#8a7a78" stroke-width="0.47" opacity="0.54"/><path d="M316.4 773.6 Q322.6 784.2 322.8 795.2" stroke="#8a7a78" stroke-width="0.46" opacity="0.49"/><path d="M320.2 766.5 Q318.7 773.8 318.7 781.2" stroke="#a08678" stroke-width="0.72" opacity="0.52"/><path d="M325.5 765.5 Q315.4 774.0 311.6 784.9" stroke="#a08678" stroke-width="0.77" opacity="0.41"/><path d="M318.6 765.4 Q320.8 773.5 318.9 780.7" stroke="#9a9aa8" stroke-width="0.42" opacity="0.62"/><path d="M316.4 769.2 Q315.3 778.0 312.2 785.9" stroke="#7d8aa0" stroke-width="0.75" opacity="0.69"/><path d="M323.1 768.7 Q323.8 781.0 321.8 793.0" stroke="#b58a68" stroke-width="0.59" opacity="0.36"/><path d="M324.9 771.0 Q325.5 783.1 322.6 794.4" stroke="#9a9aa8" stroke-width="0.86" opacity="0.40"/><path d="M319.7 767.1 Q325.4 776.4 327.4 786.6" stroke="#8a7a78" stroke-width="0.44" opacity="0.55"/><path d="M321.5 771.5 Q317.6 779.8 313.1 787.8" stroke="#7d8aa0" stroke-width="0.63" opacity="0.53"/><path d="M322.4 769.4 Q321.6 779.1 319.0 788.2" stroke="#9a9aa8" stroke-width="0.90" opacity="0.39"/><path d="M323.1 768.6 Q323.4 777.6 324.0 786.5" stroke="#9a9aa8" stroke-width="0.73" opacity="0.63"/><path d="M323.9 771.3 Q321.5 778.5 322.6 785.2" stroke="#7d8aa0" stroke-width="0.53" opacity="0.64"/><path d="M321.6 774.7 Q322.9 785.9 319.1 795.2" stroke="#9a9aa8" stroke-width="0.58" opacity="0.38"/><path d="M319.6 771.4 Q322.1 779.1 321.3 786.5" stroke="#b58a68" stroke-width="0.49" opacity="0.68"/><path d="M319.2 768.3 Q310.5 778.3 307.1 790.0" stroke="#b58a68" stroke-width="0.46" opacity="0.36"/><path d="M317.0 768.3 Q315.0 776.5 316.1 784.5" stroke="#9a9aa8" stroke-width="0.55" opacity="0.56"/><path d="M317.1 771.0 Q313.5 780.0 312.6 789.3" stroke="#a08678" stroke-width="0.78" opacity="0.36"/><path d="M319.6 769.9 Q318.6 781.1 314.4 791.1" stroke="#7d8aa0" stroke-width="0.66" opacity="0.62"/><path d="M318.5 770.6 Q318.7 777.2 317.3 783.6" stroke="#9a9aa8" stroke-width="0.54" opacity="0.43"/><path d="M324.3 765.6 Q319.8 772.4 316.6 779.8" stroke="#8a7a78" stroke-width="0.50" opacity="0.47"/><path d="M316.4 769.1 Q315.3 778.0 312.9 786.6" stroke="#7d8aa0" stroke-width="0.88" opacity="0.47"/><path d="M318.5 767.1 Q316.0 777.9 317.8 788.0" stroke="#a08678" stroke-width="0.86" opacity="0.38"/><path d="M322.6 768.0 Q321.7 777.6 316.8 784.9" stroke="#b58a68" stroke-width="0.59" opacity="0.51"/><path d="M325.0 772.3 Q328.4 782.5 326.4 791.7" stroke="#9a9aa8" stroke-width="0.68" opacity="0.67"/><path d="M324.7 766.5 Q326.6 781.4 326.6 796.4" stroke="#d56a16" stroke-width="0.81" opacity="0.72"/><path d="M330.4 769.9 Q337.9 781.5 338.4 793.6" stroke="#8a7a78" stroke-width="0.68" opacity="0.50"/><path d="M331.5 771.6 Q336.3 779.3 336.4 787.2" stroke="#cc6010" stroke-width="0.55" opacity="0.69"/><path d="M323.5 772.7 Q319.2 783.9 317.8 795.4" stroke="#cc6010" stroke-width="1.02" opacity="0.60"/><path d="M327.0 766.4 Q325.7 774.9 325.7 783.4" stroke="#e58430" stroke-width="0.70" opacity="0.58"/><path d="M332.9 768.6 Q336.8 775.3 338.7 782.5" stroke="#e58430" stroke-width="0.73" opacity="0.65"/><path d="M329.8 768.9 Q333.6 783.0 333.1 797.0" stroke="#cc6010" stroke-width="0.98" opacity="0.74"/><path d="M325.0 766.4 Q322.8 775.6 320.9 784.8" stroke="#e58430" stroke-width="1.06" opacity="0.65"/><path d="M326.4 770.4 Q323.2 784.9 323.7 799.3" stroke="#8a7a78" stroke-width="0.53" opacity="0.49"/><path d="M327.1 771.5 Q329.8 782.9 330.0 794.3" stroke="#e58430" stroke-width="0.63" opacity="0.55"/><path d="M329.1 769.9 Q324.7 784.4 324.3 799.1" stroke="#d56a16" stroke-width="1.03" opacity="0.38"/><path d="M329.4 766.4 Q323.9 776.4 323.1 786.9" stroke="#dc7420" stroke-width="0.99" opacity="0.57"/><path d="M324.6 768.1 Q317.9 779.6 314.4 792.1" stroke="#8a7a78" stroke-width="0.68" opacity="0.44"/><path d="M324.4 775.0 Q327.6 789.0 326.0 802.6" stroke="#dc7420" stroke-width="0.78" opacity="0.44"/><path d="M331.3 772.9 Q331.1 782.1 330.2 791.2" stroke="#cc6010" stroke-width="0.59" opacity="0.38"/><path d="M323.4 774.2 Q325.2 787.1 323.8 799.7" stroke="#d56a16" stroke-width="1.02" opacity="0.71"/><path d="M325.6 771.3 Q328.7 781.1 328.6 790.8" stroke="#a08678" stroke-width="0.90" opacity="0.45"/><path d="M326.2 767.4 Q332.7 781.1 335.5 795.6" stroke="#8a7a78" stroke-width="0.83" opacity="0.39"/><path d="M329.8 767.0 Q328.9 778.3 332.1 788.3" stroke="#dc7420" stroke-width="0.89" opacity="0.44"/><path d="M328.2 766.6 Q327.1 779.0 325.9 791.3" stroke="#dc7420" stroke-width="0.95" opacity="0.57"/><path d="M331.6 771.8 Q330.0 782.9 328.9 793.9" stroke="#dc7420" stroke-width="0.62" opacity="0.56"/><path d="M330.6 774.9 Q329.6 788.2 329.7 801.4" stroke="#e58430" stroke-width="0.52" opacity="0.62"/><path d="M329.5 766.4 Q329.1 781.1 325.9 795.3" stroke="#cc6010" stroke-width="0.79" opacity="0.50"/><path d="M324.1 774.2 Q320.9 784.4 321.5 794.5" stroke="#8a7a78" stroke-width="0.84" opacity="0.39"/><path d="M327.6 766.2 Q330.5 777.8 333.5 789.4" stroke="#dc7420" stroke-width="0.75" opacity="0.66"/><path d="M331.3 766.6 Q329.6 777.4 330.7 787.8" stroke="#8a7a78" stroke-width="0.60" opacity="0.43"/><path d="M331.7 770.7 Q334.0 785.1 330.6 798.3" stroke="#dc7420" stroke-width="0.56" opacity="0.46"/><path d="M325.7 771.3 Q327.4 779.9 327.3 788.5" stroke="#d56a16" stroke-width="0.60" opacity="0.59"/><path d="M327.0 767.9 Q331.5 776.4 332.0 785.2" stroke="#d56a16" stroke-width="0.94" opacity="0.59"/><path d="M323.9 766.9 Q327.8 776.3 326.7 785.3" stroke="#a08678" stroke-width="0.97" opacity="0.61"/><path d="M324.5 768.5 Q330.8 781.6 329.7 794.2" stroke="#cc6010" stroke-width="0.87" opacity="0.40"/><path d="M324.2 772.5 Q328.5 784.0 328.7 795.6" stroke="#d56a16" stroke-width="0.86" opacity="0.70"/><path d="M329.0 775.7 Q333.1 785.1 332.0 794.1" stroke="#ea9444" stroke-width="0.96" opacity="0.43"/><path d="M323.8 773.5 Q323.2 783.3 323.6 793.0" stroke="#d56a16" stroke-width="0.51" opacity="0.77"/><path d="M325.4 773.2 Q324.9 781.5 326.2 789.5" stroke="#d56a16" stroke-width="0.98" opacity="0.70"/><path d="M332.2 772.7 Q329.2 781.4 328.4 790.4" stroke="#dc7420" stroke-width="1.10" opacity="0.71"/><path d="M332.1 773.4 Q332.5 786.8 335.1 799.9" stroke="#d56a16" stroke-width="1.02" opacity="0.37"/><path d="M327.1 772.4 Q321.6 782.3 322.0 792.2" stroke="#ea9444" stroke-width="0.60" opacity="0.78"/><path d="M331.3 775.2 Q328.7 784.0 330.2 792.2" stroke="#8a7a78" stroke-width="0.78" opacity="0.70"/><path d="M324.6 769.7 Q325.7 782.4 328.7 794.6" stroke="#a08678" stroke-width="0.81" opacity="0.69"/><path d="M329.1 773.0 C330.3 773.0 333.1 782.0 333.8 787.0 C334.5 792.1 333.8 798.4 333.2 803.4 C332.7 808.5 332.4 814.0 330.3 817.5 C328.3 821.0 325.2 822.9 320.9 824.5 C316.6 826.2 305.7 828.6 304.5 827.5 C303.4 826.3 310.8 821.5 313.9 817.5 C317.0 813.5 321.1 808.5 323.3 803.4 C325.4 798.4 325.8 792.1 326.8 787.0 C327.8 782.0 328.0 773.0 329.1 773.0 Z" fill="#e07a26" stroke="none" opacity="0.95" filter="url(#soft1)"/><path d="M326.0 800.4 Q319.8 811.4 317.1 823.2" stroke="#d56a16" stroke-width="0.64" opacity="0.66"/><path d="M334.1 798.3 Q326.3 808.0 323.1 819.0" stroke="#f2b47c" stroke-width="0.53" opacity="0.70"/><path d="M328.7 796.4 Q320.3 807.7 317.4 820.5" stroke="#d56a16" stroke-width="0.89" opacity="0.78"/><path d="M331.3 800.9 Q323.4 807.6 317.8 815.9" stroke="#dc7420" stroke-width="0.68" opacity="0.67"/><path d="M329.4 795.6 Q323.4 805.4 314.9 812.3" stroke="#ea9444" stroke-width="0.63" opacity="0.56"/><path d="M331.5 795.5 Q330.6 810.0 324.7 822.3" stroke="#e58430" stroke-width="0.61" opacity="0.80"/><path d="M327.5 798.9 Q325.5 808.0 322.6 816.8" stroke="#d56a16" stroke-width="0.73" opacity="0.55"/><path d="M327.0 796.1 Q320.3 801.9 315.8 809.2" stroke="#cc6010" stroke-width="0.69" opacity="0.54"/><path d="M333.9 802.3 Q326.8 812.1 318.8 821.1" stroke="#dc7420" stroke-width="0.50" opacity="0.48"/><path d="M329.9 800.7 Q328.7 815.5 324.3 829.3" stroke="#e58430" stroke-width="0.91" opacity="0.84"/><path d="M326.7 800.1 Q323.3 812.4 317.4 823.3" stroke="#cc6010" stroke-width="0.55" opacity="0.68"/><path d="M334.9 796.2 Q331.4 806.5 329.5 817.2" stroke="#f2b47c" stroke-width="0.91" opacity="0.82"/><path d="M330.2 799.5 Q328.4 812.7 321.6 822.8" stroke="#f2b47c" stroke-width="0.57" opacity="0.57"/><path d="M330.4 794.1 Q325.6 802.7 321.6 811.7" stroke="#cc6010" stroke-width="0.52" opacity="0.55"/><path d="M326.8 798.5 Q316.3 808.0 306.5 818.3" stroke="#dc7420" stroke-width="1.10" opacity="0.48"/><path d="M335.1 798.9 Q328.1 808.8 319.2 816.6" stroke="#ea9444" stroke-width="0.52" opacity="0.65"/><path d="M331.7 797.5 Q320.6 808.5 315.7 822.0" stroke="#e58430" stroke-width="0.91" opacity="0.52"/><path d="M331.1 800.8 Q324.9 807.3 320.9 815.0" stroke="#e58430" stroke-width="1.04" opacity="0.49"/><path d="M330.5 799.4 Q322.9 806.4 318.8 815.1" stroke="#ea9444" stroke-width="0.68" opacity="0.57"/><path d="M334.9 794.5 Q330.8 808.8 324.3 822.0" stroke="#cc6010" stroke-width="0.62" opacity="0.54"/><path d="M329.3 796.4 Q322.3 803.7 319.2 812.5" stroke="#e58430" stroke-width="0.57" opacity="0.82"/><path d="M330.3 796.7 Q327.2 808.9 320.6 819.0" stroke="#e58430" stroke-width="0.53" opacity="0.53"/><path d="M329.4 793.3 Q327.3 807.1 323.8 820.5" stroke="#f2b47c" stroke-width="1.05" opacity="0.64"/><path d="M331.6 795.2 Q325.7 803.1 322.0 812.0" stroke="#dc7420" stroke-width="0.82" opacity="0.71"/><path d="M335.1 801.4 Q328.3 809.6 324.8 819.1" stroke="#dc7420" stroke-width="0.95" opacity="0.71"/><path d="M333.4 793.7 Q327.7 802.8 320.6 810.6" stroke="#f2b47c" stroke-width="0.61" opacity="0.73"/><path d="M333.7 800.5 Q326.3 808.5 322.0 817.9" stroke="#cc6010" stroke-width="0.74" opacity="0.76"/><path d="M327.2 801.3 Q323.0 810.5 319.1 819.9" stroke="#ea9444" stroke-width="0.75" opacity="0.82"/><path d="M334.6 793.2 Q333.5 806.8 327.1 817.3" stroke="#ea9444" stroke-width="0.90" opacity="0.66"/><path d="M331.1 795.3 Q322.7 802.3 317.2 811.2" stroke="#d56a16" stroke-width="0.59" opacity="0.70"/><path d="M334.3 800.0 Q324.3 810.8 318.3 823.6" stroke="#f2b47c" stroke-width="0.73" opacity="0.53"/><path d="M334.1 796.4 Q326.9 807.2 324.2 819.1" stroke="#f2b47c" stroke-width="0.54" opacity="0.67"/><path d="M327.6 793.5 Q321.7 800.6 317.2 808.5" stroke="#dc7420" stroke-width="0.72" opacity="0.71"/><path d="M333.7 795.8 Q333.8 804.5 330.4 811.6" stroke="#f2b47c" stroke-width="0.96" opacity="0.60"/><path d="M331.3 792.9 Q330.8 804.8 330.8 816.8" stroke="#cc6010" stroke-width="0.57" opacity="0.50"/><path d="M328.7 795.9 Q322.5 806.4 317.0 817.3" stroke="#d56a16" stroke-width="0.83" opacity="0.77"/><path d="M332.4 794.8 Q330.7 806.9 325.7 817.5" stroke="#ea9444" stroke-width="0.66" opacity="0.57"/><path d="M328.1 793.5 Q318.8 805.7 306.5 813.3" stroke="#cc6010" stroke-width="0.81" opacity="0.66"/><path d="M333.4 802.2 Q327.4 816.1 319.4 828.7" stroke="#e58430" stroke-width="0.54" opacity="0.62"/><path d="M329.9 799.4 Q322.6 804.1 316.5 809.9" stroke="#cc6010" stroke-width="0.61" opacity="0.68"/><path d="M326.1 801.6 Q323.3 815.4 315.5 825.7" stroke="#d56a16" stroke-width="0.97" opacity="0.73"/><path d="M327.3 800.1 Q317.2 809.5 310.9 821.1" stroke="#e58430" stroke-width="0.95" opacity="0.83"/><path d="M325.9 794.6 Q321.0 807.6 311.9 816.2" stroke="#f2b47c" stroke-width="0.93" opacity="0.68"/><path d="M328.9 794.2 Q324.6 802.8 321.6 811.7" stroke="#e58430" stroke-width="0.68" opacity="0.42"/><path d="M333.4 797.1 Q329.6 811.6 321.3 823.0" stroke="#dc7420" stroke-width="1.01" opacity="0.56"/><path d="M330.2 793.4 Q323.3 805.9 314.6 817.0" stroke="#e58430" stroke-width="0.79" opacity="0.77"/><path d="M330.4 794.7 Q326.3 805.9 319.8 815.6" stroke="#dc7420" stroke-width="1.06" opacity="0.49"/><path d="M333.5 797.8 Q326.7 804.8 322.1 813.2" stroke="#f2b47c" stroke-width="0.73" opacity="0.77"/><path d="M327.5 798.4 Q324.2 805.3 320.2 811.8" stroke="#dc7420" stroke-width="0.99" opacity="0.84"/><path d="M333.1 794.6 Q329.4 801.9 326.3 809.4" stroke="#dc7420" stroke-width="1.02" opacity="0.55"/><path d="M331.5 803.4 C331.3 806.6 331.1 815.9 330.3 822.2 C329.5 828.4 327.4 837.8 326.8 840.9" stroke="#d2701e" stroke-width="1.3" opacity="0.85"/><path d="M299.8 778.8 C299.1 780.6 292.6 787.4 289.3 790.5 C286.0 793.7 282.9 795.7 279.9 797.6 C277.0 799.4 271.1 802.7 271.7 801.7 C272.3 800.7 279.7 795.3 283.4 791.7 C287.1 788.1 291.3 782.1 294.0 780.0 C296.7 777.9 300.6 777.1 299.8 778.8 Z" fill="#e58a3a" stroke="none" opacity="0.9" filter="url(#soft1)"/><path d="M315.1 777.7 C314.5 780.0 312.6 787.1 311.6 791.7 C310.5 796.3 309.1 803.0 308.6 805.2" stroke="#b89a88" stroke-width="2" opacity="0.7"/><path d="M320.9 777.7 C320.5 779.8 319.6 786.4 318.6 790.5 C317.6 794.6 315.7 800.3 315.1 802.3" stroke="#c8a080" stroke-width="1.8" opacity="0.7"/><path d="M336.2 775.3 C335.4 777.7 340.3 783.1 342.0 787.0 C343.8 790.9 345.4 795.0 346.7 798.8 C348.1 802.5 349.3 809.3 350.2 809.3 C351.2 809.3 352.4 802.9 352.6 798.8 C352.8 794.6 352.4 789.0 351.4 784.7 C350.4 780.4 349.3 774.5 346.7 773.0 C344.2 771.4 337.0 773.0 336.2 775.3 Z" fill="#7eb8ec" stroke="none" opacity="0.9" filter="url(#soft1)"/><path d="M338.5 777.7 C338.9 780.0 340.3 787.4 340.9 791.7 C341.4 796.0 341.8 801.5 342.0 803.4" stroke="#6a9fd8" stroke-width="1.4" opacity="0.7"/><path d="M349.7 803.4 C349.8 805.4 350.4 811.3 350.5 815.2 C350.5 819.1 350.7 822.0 350.0 826.9 C349.3 831.8 347.8 838.6 346.1 844.5 C344.5 850.3 342.4 856.2 340.3 862.0 C338.1 867.9 335.9 874.0 333.2 879.6 C330.6 885.2 325.9 892.8 324.5 895.4" stroke="#afd8f2" stroke-width="2.1" opacity="0.9"/><path d="M350.2 808.1 C350.4 809.9 351.1 815.2 351.2 818.7 C351.2 822.2 350.6 827.5 350.5 829.2" stroke="#8ec4ee" stroke-width="2.4" opacity="0.75"/></g><path d="M281.0 578.6 C285.2 577.8 291.6 577.4 296.2 577.9 C300.8 578.4 304.9 580.2 308.9 581.7 C312.9 583.2 316.9 584.5 320.3 586.8 C323.7 589.1 326.9 592.3 329.2 595.7 C331.5 599.1 333.4 603.3 334.3 607.1 C335.2 610.9 335.0 614.6 334.3 618.6 C333.6 622.6 332.1 627.0 330.4 631.2 C328.7 635.4 326.1 640.1 324.1 643.9 C322.1 647.7 320.2 650.3 318.5 654.1 C316.8 657.9 314.9 662.5 313.8 666.8 C312.8 671.1 312.1 675.6 312.2 680.0 C312.3 684.4 313.5 688.6 314.6 692.9 C315.7 697.2 318.5 701.9 318.6 705.8 C318.7 709.7 317.6 714.0 315.3 716.5 C313.0 719.0 308.5 720.1 304.6 720.8 C300.7 721.5 296.0 721.7 291.7 720.8 C287.4 719.9 283.1 717.9 278.8 715.4 C274.5 712.9 270.2 709.5 265.9 705.8 C261.6 702.0 256.6 697.2 253.0 692.9 C249.4 688.6 247.4 684.1 244.4 680.0 C241.4 675.9 237.5 672.2 235.2 668.1 C232.9 664.0 231.8 659.9 230.8 655.4 C229.9 650.9 229.0 646.3 229.5 641.4 C230.0 636.5 232.0 631.1 234.0 626.2 C236.0 621.3 238.7 616.7 241.6 612.2 C244.5 607.8 248.3 603.3 251.7 599.5 C255.1 595.7 258.7 592.1 261.9 589.4 C265.1 586.6 267.6 584.8 270.8 583.0 C274.0 581.2 276.8 579.5 281.0 578.6 Z" fill="url(#bodyG)" stroke="#d0a674" stroke-width="1.2" stroke-opacity="0.6"/><g clip-path="url(#bodyclip)"><path d="M221.1 659.5 C222.9 656.6 227.5 648.4 231.6 642.0 C235.7 635.5 240.7 628.2 245.7 620.9 C250.7 613.5 256.2 604.5 261.5 598.0 C266.8 591.6 272.9 586.6 277.3 582.2 C281.7 577.8 286.1 573.4 287.9 571.6" fill="none" stroke="#e2bf90" stroke-width="7" opacity="0.35" transform="translate(7.2 5.2)" filter="url(#soft2)"/><path d="M224.6 677.1 C226.2 674.5 230.2 667.7 234.3 661.3 C238.4 654.8 243.8 646.3 249.2 638.4 C254.6 630.5 260.9 621.4 266.8 613.8 C272.7 606.2 279.4 598.6 284.4 592.7 C289.4 586.9 293.2 582.8 296.7 578.7 C300.2 574.6 304.0 569.9 305.5 568.1" fill="none" stroke="#e2bf90" stroke-width="7" opacity="0.35" transform="translate(7.2 5.2)" filter="url(#soft2)"/><path d="M229.9 691.2 C231.6 688.5 236.3 681.2 240.4 675.3 C244.5 669.5 248.9 663.6 254.5 656.0 C260.1 648.4 267.4 638.1 273.8 629.6 C280.3 621.2 287.9 611.8 293.2 605.0 C298.4 598.3 302.2 593.0 305.5 589.2 C308.7 585.4 309.9 585.1 312.5 582.2 C315.1 579.3 319.8 573.4 321.3 571.6" fill="none" stroke="#e2bf90" stroke-width="7" opacity="0.35" transform="translate(7.2 5.2)" filter="url(#soft2)"/><path d="M238.7 703.5 C240.4 700.8 244.8 693.8 249.2 687.7 C253.6 681.5 259.2 674.5 265.0 666.6 C270.9 658.7 278.2 648.4 284.4 640.2 C290.5 632.0 296.7 624.4 302.0 617.3 C307.2 610.3 312.5 603.0 316.0 598.0 C319.5 593.0 320.4 591.3 323.0 587.5 C325.7 583.7 330.4 577.2 331.8 575.2" fill="none" stroke="#e2bf90" stroke-width="7" opacity="0.35" transform="translate(7.2 5.2)" filter="url(#soft2)"/><path d="M249.2 714.0 C251.0 711.4 255.4 704.4 259.8 698.2 C264.2 692.0 270.0 684.4 275.6 677.1 C281.2 669.8 287.3 661.9 293.2 654.3 C299.0 646.6 305.8 638.1 310.7 631.4 C315.7 624.7 319.8 619.1 323.0 613.8 C326.3 608.6 327.4 604.7 330.1 599.8 C332.7 594.8 337.4 586.6 338.9 583.9" fill="none" stroke="#e2bf90" stroke-width="7" opacity="0.35" transform="translate(7.2 5.2)" filter="url(#soft2)"/><path d="M258.0 724.6 C259.8 721.9 264.2 714.9 268.6 708.7 C272.9 702.6 278.8 695.0 284.4 687.7 C289.9 680.3 296.7 671.8 302.0 664.8 C307.2 657.8 311.6 651.9 316.0 645.5 C320.4 639.0 325.4 631.4 328.3 626.1 C331.2 620.9 331.5 618.2 333.6 613.8 C335.6 609.4 339.5 602.1 340.6 599.8" fill="none" stroke="#e2bf90" stroke-width="7" opacity="0.35" transform="translate(7.2 5.2)" filter="url(#soft2)"/><path d="M266.8 731.6 C268.6 729.0 272.9 721.6 277.3 715.8 C281.7 709.9 288.2 702.6 293.2 696.4 C298.1 690.3 302.8 684.7 307.2 678.9 C311.6 673.0 316.3 666.3 319.5 661.3 C322.8 656.3 323.9 653.4 326.6 649.0 C329.2 644.6 333.9 637.3 335.3 634.9" fill="none" stroke="#e2bf90" stroke-width="7" opacity="0.35" transform="translate(7.2 5.2)" filter="url(#soft2)"/><path d="M280.9 733.4 C282.6 730.7 287.6 722.8 291.4 717.5 C295.2 712.3 300.2 706.4 303.7 701.7 C307.2 697.0 309.6 693.8 312.5 689.4 C315.4 685.0 319.8 677.7 321.3 675.3" fill="none" stroke="#e2bf90" stroke-width="7" opacity="0.35" transform="translate(7.2 5.2)" filter="url(#soft2)"/><path d="M296.7 731.6 C298.1 729.5 302.5 723.4 305.5 719.3 C308.4 715.2 311.6 710.8 314.3 707.0 C316.9 703.2 320.1 698.2 321.3 696.4" fill="none" stroke="#e2bf90" stroke-width="7" opacity="0.35" transform="translate(7.2 5.2)" filter="url(#soft2)"/><path d="M221.1 659.5 C222.9 656.6 227.5 648.4 231.6 642.0 C235.7 635.5 240.7 628.2 245.7 620.9 C250.7 613.5 256.2 604.5 261.5 598.0 C266.8 591.6 272.9 586.6 277.3 582.2 C281.7 577.8 286.1 573.4 287.9 571.6" fill="none" stroke="#b98548" stroke-width="6" opacity="0.3" filter="url(#soft2)"/><path d="M221.1 659.5 C222.9 656.6 227.5 648.4 231.6 642.0 C235.7 635.5 240.7 628.2 245.7 620.9 C250.7 613.5 256.2 604.5 261.5 598.0 C266.8 591.6 272.9 586.6 277.3 582.2 C281.7 577.8 286.1 573.4 287.9 571.6" fill="none" stroke="#a8733a" stroke-width="1.35" opacity="0.9"/><path d="M224.6 677.1 C226.2 674.5 230.2 667.7 234.3 661.3 C238.4 654.8 243.8 646.3 249.2 638.4 C254.6 630.5 260.9 621.4 266.8 613.8 C272.7 606.2 279.4 598.6 284.4 592.7 C289.4 586.9 293.2 582.8 296.7 578.7 C300.2 574.6 304.0 569.9 305.5 568.1" fill="none" stroke="#b98548" stroke-width="6" opacity="0.3" filter="url(#soft2)"/><path d="M224.6 677.1 C226.2 674.5 230.2 667.7 234.3 661.3 C238.4 654.8 243.8 646.3 249.2 638.4 C254.6 630.5 260.9 621.4 266.8 613.8 C272.7 606.2 279.4 598.6 284.4 592.7 C289.4 586.9 293.2 582.8 296.7 578.7 C300.2 574.6 304.0 569.9 305.5 568.1" fill="none" stroke="#a8733a" stroke-width="1.35" opacity="0.9"/><path d="M229.9 691.2 C231.6 688.5 236.3 681.2 240.4 675.3 C244.5 669.5 248.9 663.6 254.5 656.0 C260.1 648.4 267.4 638.1 273.8 629.6 C280.3 621.2 287.9 611.8 293.2 605.0 C298.4 598.3 302.2 593.0 305.5 589.2 C308.7 585.4 309.9 585.1 312.5 582.2 C315.1 579.3 319.8 573.4 321.3 571.6" fill="none" stroke="#b98548" stroke-width="6" opacity="0.3" filter="url(#soft2)"/><path d="M229.9 691.2 C231.6 688.5 236.3 681.2 240.4 675.3 C244.5 669.5 248.9 663.6 254.5 656.0 C260.1 648.4 267.4 638.1 273.8 629.6 C280.3 621.2 287.9 611.8 293.2 605.0 C298.4 598.3 302.2 593.0 305.5 589.2 C308.7 585.4 309.9 585.1 312.5 582.2 C315.1 579.3 319.8 573.4 321.3 571.6" fill="none" stroke="#a8733a" stroke-width="1.35" opacity="0.9"/><path d="M238.7 703.5 C240.4 700.8 244.8 693.8 249.2 687.7 C253.6 681.5 259.2 674.5 265.0 666.6 C270.9 658.7 278.2 648.4 284.4 640.2 C290.5 632.0 296.7 624.4 302.0 617.3 C307.2 610.3 312.5 603.0 316.0 598.0 C319.5 593.0 320.4 591.3 323.0 587.5 C325.7 583.7 330.4 577.2 331.8 575.2" fill="none" stroke="#b98548" stroke-width="6" opacity="0.3" filter="url(#soft2)"/><path d="M238.7 703.5 C240.4 700.8 244.8 693.8 249.2 687.7 C253.6 681.5 259.2 674.5 265.0 666.6 C270.9 658.7 278.2 648.4 284.4 640.2 C290.5 632.0 296.7 624.4 302.0 617.3 C307.2 610.3 312.5 603.0 316.0 598.0 C319.5 593.0 320.4 591.3 323.0 587.5 C325.7 583.7 330.4 577.2 331.8 575.2" fill="none" stroke="#a8733a" stroke-width="1.35" opacity="0.9"/><path d="M249.2 714.0 C251.0 711.4 255.4 704.4 259.8 698.2 C264.2 692.0 270.0 684.4 275.6 677.1 C281.2 669.8 287.3 661.9 293.2 654.3 C299.0 646.6 305.8 638.1 310.7 631.4 C315.7 624.7 319.8 619.1 323.0 613.8 C326.3 608.6 327.4 604.7 330.1 599.8 C332.7 594.8 337.4 586.6 338.9 583.9" fill="none" stroke="#b98548" stroke-width="6" opacity="0.3" filter="url(#soft2)"/><path d="M249.2 714.0 C251.0 711.4 255.4 704.4 259.8 698.2 C264.2 692.0 270.0 684.4 275.6 677.1 C281.2 669.8 287.3 661.9 293.2 654.3 C299.0 646.6 305.8 638.1 310.7 631.4 C315.7 624.7 319.8 619.1 323.0 613.8 C326.3 608.6 327.4 604.7 330.1 599.8 C332.7 594.8 337.4 586.6 338.9 583.9" fill="none" stroke="#a8733a" stroke-width="1.35" opacity="0.9"/><path d="M258.0 724.6 C259.8 721.9 264.2 714.9 268.6 708.7 C272.9 702.6 278.8 695.0 284.4 687.7 C289.9 680.3 296.7 671.8 302.0 664.8 C307.2 657.8 311.6 651.9 316.0 645.5 C320.4 639.0 325.4 631.4 328.3 626.1 C331.2 620.9 331.5 618.2 333.6 613.8 C335.6 609.4 339.5 602.1 340.6 599.8" fill="none" stroke="#b98548" stroke-width="6" opacity="0.3" filter="url(#soft2)"/><path d="M258.0 724.6 C259.8 721.9 264.2 714.9 268.6 708.7 C272.9 702.6 278.8 695.0 284.4 687.7 C289.9 680.3 296.7 671.8 302.0 664.8 C307.2 657.8 311.6 651.9 316.0 645.5 C320.4 639.0 325.4 631.4 328.3 626.1 C331.2 620.9 331.5 618.2 333.6 613.8 C335.6 609.4 339.5 602.1 340.6 599.8" fill="none" stroke="#a8733a" stroke-width="1.35" opacity="0.9"/><path d="M266.8 731.6 C268.6 729.0 272.9 721.6 277.3 715.8 C281.7 709.9 288.2 702.6 293.2 696.4 C298.1 690.3 302.8 684.7 307.2 678.9 C311.6 673.0 316.3 666.3 319.5 661.3 C322.8 656.3 323.9 653.4 326.6 649.0 C329.2 644.6 333.9 637.3 335.3 634.9" fill="none" stroke="#b98548" stroke-width="6" opacity="0.3" filter="url(#soft2)"/><path d="M266.8 731.6 C268.6 729.0 272.9 721.6 277.3 715.8 C281.7 709.9 288.2 702.6 293.2 696.4 C298.1 690.3 302.8 684.7 307.2 678.9 C311.6 673.0 316.3 666.3 319.5 661.3 C322.8 656.3 323.9 653.4 326.6 649.0 C329.2 644.6 333.9 637.3 335.3 634.9" fill="none" stroke="#a8733a" stroke-width="1.35" opacity="0.9"/><path d="M280.9 733.4 C282.6 730.7 287.6 722.8 291.4 717.5 C295.2 712.3 300.2 706.4 303.7 701.7 C307.2 697.0 309.6 693.8 312.5 689.4 C315.4 685.0 319.8 677.7 321.3 675.3" fill="none" stroke="#b98548" stroke-width="6" opacity="0.3" filter="url(#soft2)"/><path d="M280.9 733.4 C282.6 730.7 287.6 722.8 291.4 717.5 C295.2 712.3 300.2 706.4 303.7 701.7 C307.2 697.0 309.6 693.8 312.5 689.4 C315.4 685.0 319.8 677.7 321.3 675.3" fill="none" stroke="#a8733a" stroke-width="1.35" opacity="0.9"/><path d="M296.7 731.6 C298.1 729.5 302.5 723.4 305.5 719.3 C308.4 715.2 311.6 710.8 314.3 707.0 C316.9 703.2 320.1 698.2 321.3 696.4" fill="none" stroke="#b98548" stroke-width="6" opacity="0.3" filter="url(#soft2)"/><path d="M296.7 731.6 C298.1 729.5 302.5 723.4 305.5 719.3 C308.4 715.2 311.6 710.8 314.3 707.0 C316.9 703.2 320.1 698.2 321.3 696.4" fill="none" stroke="#a8733a" stroke-width="1.35" opacity="0.9"/></g><path d="M248.2 572.6 L262.5 571.2 L268.9 559.9 L280.5 577.6 Q268 581 258.3 589.2 Z" fill="#80b7e7"/><circle cx="308.9" cy="610.4" r="7.2" fill="#6c7a96"/><circle cx="308.9" cy="610.4" r="7.2" fill="none" stroke="#8b93a8" stroke-width="1" opacity="0.6"/><circle cx="309.6" cy="610.2" r="3.6" fill="#8f9bb4" opacity="0.8"/><circle cx="310.3" cy="609.9" r="1.9" fill="#f4f4fa"/><g id="minibell"><path d="M320.5 576.3 C321.4 575.4 323.9 574.8 325.1 575.1 C326.4 575.4 327.7 577.0 328.1 578.0 C328.5 579.1 327.4 580.7 327.5 581.6 C327.6 582.4 328.8 582.5 328.7 583.3 C328.6 584.1 327.4 585.4 326.9 586.2 C326.4 587.1 326.6 588.2 325.7 588.6 C324.9 589.0 322.6 589.3 321.6 588.6 C320.7 587.9 320.3 585.8 319.9 584.5 C319.5 583.1 319.2 581.7 319.3 580.4 C319.4 579.0 319.5 577.2 320.5 576.3 Z" fill="#17130f"/><path d="M313.4 567.5 C314.2 566.5 315.6 565.9 317.5 565.1 C319.5 564.4 323.4 562.9 325.1 563.1 C326.9 563.3 327.1 565.2 328.1 566.3 C329.1 567.4 330.6 568.8 331.0 569.8 C331.4 570.9 331.2 571.9 330.4 572.8 C329.6 573.6 327.8 574.4 326.3 575.1 C324.9 575.8 323.1 576.5 321.6 576.9 C320.2 577.3 318.7 577.8 317.5 577.5 C316.4 577.1 315.3 575.6 314.6 574.5 C313.9 573.4 313.3 572.2 313.1 571.0 C312.9 569.8 312.7 568.5 313.4 567.5 Z" fill="#f4f1f6" stroke="#3d3934" stroke-width="1.7" stroke-linejoin="round"/><path d="M325.7 565.1 C326.2 565.6 327.8 567.1 328.7 568.1 C329.5 569.1 330.6 570.5 331.0 571.0" fill="none" stroke="#6a5a60" stroke-width="2.2" stroke-linecap="round"/><path d="M313.4 571.0 C313.6 571.7 313.8 574.0 314.6 575.1 C315.4 576.2 317.5 577.1 318.1 577.5" fill="none" stroke="#6a5238" stroke-width="1.6" stroke-linecap="round"/></g></g>
<g id="callouts" fill="none" stroke="#8dbde9" stroke-width="4" stroke-linejoin="round">
<path d="M321.4 557.2 L646.9 145.2 L795 145.2"/>
<path d="M303.9 683 L538.9 378.4 L714 378.4"/>
<path d="M321.5 760.7 L428.2 631.6 L610 631.6"/>
<path d="M111 887.4 L508 887.4"/>
</g>
<g id="c_bell"><circle cx="894.6" cy="130" r="100" fill="#fff"/><g clip-path="url(#clip_bell)"><g filter="url(#fleeceS)"><path d="M790.0 166.0 C792.1 165.0 798.6 161.9 802.5 160.0 C806.4 158.1 809.8 155.8 813.4 154.5 C817.0 153.2 820.5 151.9 824.4 152.2 C828.3 152.5 834.0 154.9 836.9 156.1 C839.8 157.3 839.0 159.2 841.6 159.2 C844.2 159.2 848.9 156.0 852.5 156.1 C856.1 156.2 860.8 158.4 863.4 160.0 C866.0 161.6 865.5 164.3 868.1 165.5 C870.7 166.7 875.5 165.3 879.1 167.0 C882.8 168.7 885.6 173.1 890.0 175.6 C894.4 178.1 902.0 179.3 905.6 181.9 C909.2 184.5 910.6 188.7 911.9 191.3 C913.2 193.9 911.6 195.7 913.4 197.5 C915.2 199.3 920.3 199.8 922.8 202.2 C925.3 204.5 927.5 208.5 928.3 211.6 C929.1 214.7 927.6 219.4 927.5 221.0 L925 245 L790 245 Z" fill="#dcb892"/><path d="M841.0 157.0 C839.3 160.4 833.8 170.7 830.6 177.2 C827.4 183.7 823.4 192.9 822.0 196.0" fill="none" stroke="#cc9258" stroke-width="7" opacity="0.5" filter="url(#b1)"/><path d="M841.0 157.0 C839.3 160.4 833.8 170.7 830.6 177.2 C827.4 183.7 823.4 192.9 822.0 196.0" fill="none" stroke="#bf7838" stroke-width="3" opacity="0.9" filter="url(#soft1)"/><path d="M867.5 163.5 C865.5 167.1 859.4 177.8 855.6 185.0 C851.8 192.2 847.6 200.7 844.7 206.9 C841.8 213.1 839.1 219.5 838.0 222.0" fill="none" stroke="#cc9258" stroke-width="7" opacity="0.5" filter="url(#b1)"/><path d="M867.5 163.5 C865.5 167.1 859.4 177.8 855.6 185.0 C851.8 192.2 847.6 200.7 844.7 206.9 C841.8 213.1 839.1 219.5 838.0 222.0" fill="none" stroke="#bf7838" stroke-width="3" opacity="0.9" filter="url(#soft1)"/><path d="M891.0 177.5 C889.0 181.3 882.4 193.1 879.1 200.6 C875.8 208.1 873.1 216.9 871.3 222.5 C869.4 228.1 868.5 232.1 868.0 234.0" fill="none" stroke="#cc9258" stroke-width="7" opacity="0.5" filter="url(#b1)"/><path d="M891.0 177.5 C889.0 181.3 882.4 193.1 879.1 200.6 C875.8 208.1 873.1 216.9 871.3 222.5 C869.4 228.1 868.5 232.1 868.0 234.0" fill="none" stroke="#bf7838" stroke-width="3" opacity="0.9" filter="url(#soft1)"/><path d="M912.5 196.0 C911.4 198.8 907.5 208.2 905.6 213.1 C903.7 218.0 902.2 221.8 900.9 225.6 C899.6 229.4 898.5 234.3 898.0 236.0" fill="none" stroke="#cc9258" stroke-width="7" opacity="0.5" filter="url(#b1)"/><path d="M912.5 196.0 C911.4 198.8 907.5 208.2 905.6 213.1 C903.7 218.0 902.2 221.8 900.9 225.6 C899.6 229.4 898.5 234.3 898.0 236.0" fill="none" stroke="#bf7838" stroke-width="3" opacity="0.9" filter="url(#soft1)"/></g><g filter="url(#soft1)"><ellipse cx="827" cy="192" rx="10" ry="8.5" fill="#7f8ba2" transform="rotate(25 827 192)"/><ellipse cx="820" cy="191.5" rx="4.2" ry="3.4" fill="#dfe3f0"/></g><g id="bigbell"><path d="M892.2 133.7 C894.4 131.2 896.5 131.3 898.8 131.7 C901.2 132.1 903.8 134.3 906.2 136.0 C908.7 137.8 911.1 139.3 913.3 142.3 C915.4 145.2 918.1 150.4 919.1 153.6 C920.2 156.8 919.7 158.9 919.5 161.4 C919.3 163.9 919.5 165.8 918.0 168.4 C916.4 171.1 913.0 175.7 910.2 177.4 C907.3 179.1 903.8 178.9 900.8 178.8 C897.8 178.6 894.7 177.6 892.2 176.2 C889.6 174.9 887.0 173.6 885.5 170.8 C884.1 167.9 883.4 163.1 883.4 159.1 C883.4 155.0 884.1 150.8 885.5 146.6 C887.0 142.3 890.0 136.1 892.2 133.7 Z" fill="#d9d9dc"/><path d="M889.1 140.3 C889.6 138.2 892.1 136.1 893.8 134.8 C895.4 133.6 897.1 132.6 899.2 132.9 C901.3 133.2 904.0 135.0 906.2 136.8 C908.5 138.6 912.0 141.4 912.9 143.4 C913.8 145.5 913.1 148.5 911.7 148.9 C910.4 149.4 907.2 147.0 904.7 146.2 C902.2 145.3 899.2 143.6 896.9 143.8 C894.5 144.0 891.9 147.9 890.6 147.3 C889.3 146.8 888.5 142.4 889.1 140.3 Z" fill="#f1f1f3" filter="url(#soft1)"/><path d="M895.3 136.8 C895.6 135.8 898.2 134.8 900.0 135.2 C901.8 135.7 905.5 138.3 906.2 139.5 C907.0 140.8 906.0 142.4 904.7 142.7 C903.4 142.9 900.0 142.1 898.4 141.1 C896.9 140.1 895.1 137.8 895.3 136.8 Z" fill="#a9a8aa" opacity="0.75" filter="url(#b1)"/><path d="M915.2 152.8 C916.5 151.4 918.7 152.8 919.4 155.2 C920.0 157.5 920.7 163.1 919.1 166.9 C917.6 170.6 913.0 175.8 910.2 177.7 C907.3 179.5 902.8 179.5 902.0 178.2 C901.1 176.9 903.5 172.4 905.1 170.0 C906.7 167.6 910.0 166.6 911.7 163.8 C913.4 160.9 914.0 154.2 915.2 152.8 Z" fill="#f4f4f6" filter="url(#soft1)"/><path d="M917.2 160.6 C918.8 158.8 919.5 161.5 918.8 163.8 C918.0 166.0 914.1 172.1 912.5 173.9 C910.9 175.7 908.6 176.9 909.4 174.7 C910.2 172.5 915.6 162.4 917.2 160.6 Z" fill="#bdbcbe" opacity="0.8" filter="url(#soft1)"/><path d="M890.6 148.5 C891.9 145.8 894.5 144.7 896.9 144.4 C899.2 144.0 902.1 145.6 904.7 146.6 C907.3 147.5 910.7 149.0 912.5 150.1 C914.3 151.2 915.8 150.9 915.6 153.2 C915.4 155.5 913.2 161.0 911.3 163.8 C909.5 166.5 907.1 169.2 904.7 170.0 C902.3 170.8 899.4 170.0 896.9 168.4 C894.3 166.9 890.5 163.9 889.5 160.6 C888.4 157.3 889.4 151.2 890.6 148.5 Z" fill="#3c3a3a" filter="url(#soft1)"/><path d="M892.2 151.2 C893.2 149.2 896.1 147.3 898.4 147.3 C900.8 147.3 905.2 149.0 906.2 151.2 C907.3 153.5 906.0 158.3 904.7 160.6 C903.4 163.0 900.5 165.4 898.4 165.3 C896.4 165.2 893.2 162.2 892.2 159.8 C891.1 157.5 891.1 153.3 892.2 151.2 Z" fill="#1f1e1e" opacity="0.75" filter="url(#b1)"/><path d="M906.2 149.7 C907.2 147.6 912.2 149.7 913.3 151.2 C914.3 152.8 913.4 157.0 912.5 159.1 C911.6 161.1 908.9 165.3 907.8 163.8 C906.8 162.2 905.3 151.8 906.2 149.7 Z" fill="#6a6868" opacity="0.7" filter="url(#b1)"/><path d="M883.8 158.3 C883.9 156.1 885.8 151.7 886.7 149.7 C887.7 147.7 888.7 145.5 889.5 146.2 C890.2 146.8 891.1 151.1 891.0 153.6 C891.0 156.1 889.9 159.9 889.1 161.4 C888.2 162.9 886.8 163.1 885.9 162.6 C885.1 162.1 883.6 160.4 883.8 158.3 Z" fill="#fbfbfd" filter="url(#soft1)"/><path d="M881.2 162.6 C882.4 161.1 886.6 159.9 889.1 160.6 C891.5 161.3 894.1 164.5 896.1 166.9 C898.0 169.2 901.2 173.1 900.8 174.7 C900.4 176.2 896.1 176.4 893.8 176.2 C891.4 176.1 888.6 175.1 886.7 173.9 C884.8 172.7 883.3 171.1 882.4 169.2 C881.5 167.3 880.1 164.0 881.2 162.6 Z" fill="#b17c48" filter="url(#soft1)"/><path d="M883.6 163.8 C883.6 162.5 887.4 161.9 889.1 162.6 C890.8 163.2 893.8 166.4 893.8 167.7 C893.8 168.9 890.8 170.7 889.1 170.0 C887.4 169.3 883.6 165.0 883.6 163.8 Z" fill="#c89a64" opacity="0.8" filter="url(#soft1)"/><path d="M889.1 174.7 C890.1 175.1 893.2 176.8 895.3 177.4 C897.4 178.1 899.2 178.6 901.6 178.6 C903.9 178.6 908.1 177.6 909.4 177.4" fill="none" stroke="#242221" stroke-width="2.2" filter="url(#soft1)"/></g><path d="M867.5 139.0 C866.3 136.7 862.8 130.5 860.4 124.9 C858.0 119.3 855.7 112.6 853.4 105.6 C851.1 98.6 848.0 89.2 846.4 82.7 C844.8 76.2 843.4 71.2 843.7 66.9 C844.0 62.7 845.8 59.2 848.1 57.2 C850.5 55.2 854.3 54.3 857.8 54.6 C861.3 54.9 865.2 55.8 869.2 59.0 C873.2 62.2 877.4 67.9 881.5 73.9 C885.6 79.9 889.7 88.0 893.8 95.0 C897.9 102.0 902.0 109.6 906.1 116.1 C910.2 122.5 914.0 127.8 918.4 133.7 C922.8 139.6 927.8 145.7 932.5 151.3 C937.2 156.9 941.9 162.4 946.6 167.1 C951.3 171.8 956.4 176.2 960.6 179.4 C964.8 182.6 970.1 185.2 972.0 186.4" fill="none" stroke="#131110" stroke-width="6.9" stroke-linecap="round" stroke-linejoin="round"/><path d="M867.5 139.0 C866.3 136.7 862.8 130.5 860.4 124.9 C858.0 119.3 855.7 112.6 853.4 105.6 C851.1 98.6 848.0 89.2 846.4 82.7 C844.8 76.2 843.4 71.2 843.7 66.9 C844.0 62.7 845.8 59.2 848.1 57.2 C850.5 55.2 854.3 54.3 857.8 54.6 C861.3 54.9 865.2 55.8 869.2 59.0" fill="none" stroke="#131110" stroke-width="8.6" stroke-linecap="round" stroke-linejoin="round"/><path d="M869.2 59.0 C873.2 62.2 877.4 67.9 881.5 73.9 C885.6 79.9 889.7 88.0 893.8 95.0" fill="none" stroke="#131110" stroke-width="7.8" stroke-linecap="round" stroke-linejoin="round"/><path d="M858.6 135.6 C860.1 134.4 862.8 133.9 865.6 133.7 C868.5 133.5 873.2 133.7 875.8 134.5 C878.4 135.2 879.9 136.5 881.2 138.0 C882.6 139.5 883.6 141.5 883.6 143.4 C883.6 145.4 881.4 147.7 881.2 149.7 C881.1 151.6 883.2 153.3 882.8 155.2 C882.4 157.0 880.5 159.5 878.9 160.6 C877.3 161.8 874.9 161.4 873.4 162.2 C872.0 163.0 871.4 164.9 870.3 165.3 C869.2 165.8 867.6 165.7 866.8 164.9 C866.0 164.1 866.2 162.3 865.6 160.6 C865.0 159.0 863.4 157.0 863.3 155.2 C863.2 153.3 865.6 151.1 864.8 149.7 C864.1 148.3 860.0 148.0 858.6 146.6 C857.2 145.1 856.6 142.9 856.6 141.1 C856.6 139.3 857.1 136.9 858.6 135.6 Z" fill="#131110"/><path d="M881.2 143.4 C882.2 140.6 885.2 140.1 886.7 139.5 C888.3 139.0 890.5 139.3 890.6 140.3 C890.8 141.4 888.5 143.7 887.5 145.8 C886.5 147.9 885.4 151.0 884.4 152.8 C883.3 154.6 881.8 158.3 881.2 156.7 C880.7 155.2 880.3 146.3 881.2 143.4 Z" fill="#2a2827" opacity="0.9"/></g><circle cx="894.6" cy="130" r="100.1" fill="none" stroke="#8dbde9" stroke-width="4.6"/></g>
<g id="c_fabric"><circle cx="814.6" cy="372.8" r="100" fill="#fff"/><g clip-path="url(#clip_fabric)"><g filter="url(#fleece)"><rect x="713.6" y="272" width="202" height="202" fill="url(#fabG)"/><path d="M718.2 423.9 C719.4 418.4 723.0 400.6 725.4 391.1 C727.8 381.5 729.7 375.0 732.6 366.4 C735.5 357.9 738.7 349.0 742.8 339.8 C746.9 330.6 752.4 319.8 757.2 311.1 C762.0 302.4 767.8 293.6 771.5 287.5 C775.3 281.3 778.4 276.4 779.7 274.2" fill="none" stroke="#e2ba8c" stroke-width="9" opacity="0.3" transform="translate(-11 -4)" filter="url(#b2)"/><path d="M718.2 423.9 C719.4 418.4 723.0 400.6 725.4 391.1 C727.8 381.5 729.7 375.0 732.6 366.4 C735.5 357.9 738.7 349.0 742.8 339.8 C746.9 330.6 752.4 319.8 757.2 311.1 C762.0 302.4 767.8 293.6 771.5 287.5 C775.3 281.3 778.4 276.4 779.7 274.2" fill="none" stroke="#c27a42" stroke-width="10" opacity="0.65" filter="url(#b1)"/><path d="M744.9 464.9 C745.4 460.4 746.6 447.8 747.9 438.2 C749.3 428.7 750.8 418.1 753.1 407.5 C755.3 396.9 757.5 386.3 761.3 374.6 C765.0 363.0 770.8 349.4 775.6 337.7 C780.4 326.1 785.5 314.8 790.0 304.9 C794.4 295.0 799.2 284.7 802.3 278.3 C805.4 271.8 807.4 268.0 808.4 265.9" fill="none" stroke="#e2ba8c" stroke-width="9" opacity="0.3" transform="translate(-11 -4)" filter="url(#b2)"/><path d="M744.9 464.9 C745.4 460.4 746.6 447.8 747.9 438.2 C749.3 428.7 750.8 418.1 753.1 407.5 C755.3 396.9 757.5 386.3 761.3 374.6 C765.0 363.0 770.8 349.4 775.6 337.7 C780.4 326.1 785.5 314.8 790.0 304.9 C794.4 295.0 799.2 284.7 802.3 278.3 C805.4 271.8 807.4 268.0 808.4 265.9" fill="none" stroke="#c27a42" stroke-width="10" opacity="0.65" filter="url(#b1)"/><path d="M770.5 481.3 C771.0 477.2 772.0 466.2 773.6 456.7 C775.1 447.1 777.3 434.8 779.7 423.9 C782.1 412.9 784.5 402.7 787.9 391.1 C791.4 379.4 795.8 366.1 800.2 354.1 C804.7 342.2 809.5 331.6 814.6 319.3 C819.7 307.0 827.4 288.9 831.0 280.3 C834.6 271.8 835.3 270.1 836.1 268.0" fill="none" stroke="#e2ba8c" stroke-width="9" opacity="0.3" transform="translate(-11 -4)" filter="url(#b2)"/><path d="M770.5 481.3 C771.0 477.2 772.0 466.2 773.6 456.7 C775.1 447.1 777.3 434.8 779.7 423.9 C782.1 412.9 784.5 402.7 787.9 391.1 C791.4 379.4 795.8 366.1 800.2 354.1 C804.7 342.2 809.5 331.6 814.6 319.3 C819.7 307.0 827.4 288.9 831.0 280.3 C834.6 271.8 835.3 270.1 836.1 268.0" fill="none" stroke="#c27a42" stroke-width="10" opacity="0.65" filter="url(#b1)"/><path d="M797.2 485.4 C797.7 482.3 798.7 475.1 800.2 466.9 C801.8 458.7 803.7 447.5 806.4 436.2 C809.1 424.9 812.9 411.2 816.6 399.3 C820.4 387.3 824.5 376.4 828.9 364.4 C833.4 352.4 838.2 339.8 843.3 327.5 C848.4 315.2 855.6 299.4 859.7 290.6 C863.8 281.7 866.5 276.9 867.9 274.2" fill="none" stroke="#e2ba8c" stroke-width="9" opacity="0.3" transform="translate(-11 -4)" filter="url(#b2)"/><path d="M797.2 485.4 C797.7 482.3 798.7 475.1 800.2 466.9 C801.8 458.7 803.7 447.5 806.4 436.2 C809.1 424.9 812.9 411.2 816.6 399.3 C820.4 387.3 824.5 376.4 828.9 364.4 C833.4 352.4 838.2 339.8 843.3 327.5 C848.4 315.2 855.6 299.4 859.7 290.6 C863.8 281.7 866.5 276.9 867.9 274.2" fill="none" stroke="#c27a42" stroke-width="10" opacity="0.65" filter="url(#b1)"/><path d="M824.8 481.3 C825.5 478.2 826.9 471.0 828.9 462.8 C831.0 454.6 834.1 442.7 837.2 432.1 C840.2 421.5 843.6 410.5 847.4 399.3 C851.2 388.0 855.3 376.0 859.7 364.4 C864.2 352.8 870.0 339.1 874.1 329.5 C878.2 320.0 880.9 314.1 884.3 307.0 C887.7 299.8 892.9 289.9 894.6 286.5" fill="none" stroke="#e2ba8c" stroke-width="9" opacity="0.3" transform="translate(-11 -4)" filter="url(#b2)"/><path d="M824.8 481.3 C825.5 478.2 826.9 471.0 828.9 462.8 C831.0 454.6 834.1 442.7 837.2 432.1 C840.2 421.5 843.6 410.5 847.4 399.3 C851.2 388.0 855.3 376.0 859.7 364.4 C864.2 352.8 870.0 339.1 874.1 329.5 C878.2 320.0 880.9 314.1 884.3 307.0 C887.7 299.8 892.9 289.9 894.6 286.5" fill="none" stroke="#c27a42" stroke-width="10" opacity="0.65" filter="url(#b1)"/><path d="M853.6 469.0 C854.2 466.2 855.6 460.1 857.7 452.6 C859.7 445.1 862.8 433.4 865.9 423.9 C868.9 414.3 872.4 405.7 876.1 395.2 C879.9 384.6 884.3 370.2 888.4 360.3 C892.5 350.4 897.0 342.9 900.7 335.7 C904.5 328.5 909.3 320.3 911.0 317.2" fill="none" stroke="#e2ba8c" stroke-width="9" opacity="0.3" transform="translate(-11 -4)" filter="url(#b2)"/><path d="M853.6 469.0 C854.2 466.2 855.6 460.1 857.7 452.6 C859.7 445.1 862.8 433.4 865.9 423.9 C868.9 414.3 872.4 405.7 876.1 395.2 C879.9 384.6 884.3 370.2 888.4 360.3 C892.5 350.4 897.0 342.9 900.7 335.7 C904.5 328.5 909.3 320.3 911.0 317.2" fill="none" stroke="#c27a42" stroke-width="10" opacity="0.65" filter="url(#b1)"/><path d="M880.2 446.4 C881.2 443.3 884.0 434.5 886.4 428.0 C888.8 421.5 891.5 415.0 894.6 407.5 C897.7 399.9 902.1 389.3 904.8 382.8 C907.6 376.4 908.9 373.3 911.0 368.5 C913.0 363.7 916.1 356.5 917.1 354.1" fill="none" stroke="#e2ba8c" stroke-width="9" opacity="0.3" transform="translate(-11 -4)" filter="url(#b2)"/><path d="M880.2 446.4 C881.2 443.3 884.0 434.5 886.4 428.0 C888.8 421.5 891.5 415.0 894.6 407.5 C897.7 399.9 902.1 389.3 904.8 382.8 C907.6 376.4 908.9 373.3 911.0 368.5 C913.0 363.7 916.1 356.5 917.1 354.1" fill="none" stroke="#c27a42" stroke-width="10" opacity="0.65" filter="url(#b1)"/></g><path d="M718.2 423.9 C719.4 418.4 723.0 400.6 725.4 391.1 C727.8 381.5 729.7 375.0 732.6 366.4 C735.5 357.9 738.7 349.0 742.8 339.8 C746.9 330.6 752.4 319.8 757.2 311.1 C762.0 302.4 767.8 293.6 771.5 287.5 C775.3 281.3 778.4 276.4 779.7 274.2" fill="none" stroke="#aa5a28" stroke-width="3.8" opacity="0.9" filter="url(#b1)"/><path d="M744.9 464.9 C745.4 460.4 746.6 447.8 747.9 438.2 C749.3 428.7 750.8 418.1 753.1 407.5 C755.3 396.9 757.5 386.3 761.3 374.6 C765.0 363.0 770.8 349.4 775.6 337.7 C780.4 326.1 785.5 314.8 790.0 304.9 C794.4 295.0 799.2 284.7 802.3 278.3 C805.4 271.8 807.4 268.0 808.4 265.9" fill="none" stroke="#aa5a28" stroke-width="3.8" opacity="0.9" filter="url(#b1)"/><path d="M770.5 481.3 C771.0 477.2 772.0 466.2 773.6 456.7 C775.1 447.1 777.3 434.8 779.7 423.9 C782.1 412.9 784.5 402.7 787.9 391.1 C791.4 379.4 795.8 366.1 800.2 354.1 C804.7 342.2 809.5 331.6 814.6 319.3 C819.7 307.0 827.4 288.9 831.0 280.3 C834.6 271.8 835.3 270.1 836.1 268.0" fill="none" stroke="#aa5a28" stroke-width="3.8" opacity="0.9" filter="url(#b1)"/><path d="M797.2 485.4 C797.7 482.3 798.7 475.1 800.2 466.9 C801.8 458.7 803.7 447.5 806.4 436.2 C809.1 424.9 812.9 411.2 816.6 399.3 C820.4 387.3 824.5 376.4 828.9 364.4 C833.4 352.4 838.2 339.8 843.3 327.5 C848.4 315.2 855.6 299.4 859.7 290.6 C863.8 281.7 866.5 276.9 867.9 274.2" fill="none" stroke="#aa5a28" stroke-width="3.8" opacity="0.9" filter="url(#b1)"/><path d="M824.8 481.3 C825.5 478.2 826.9 471.0 828.9 462.8 C831.0 454.6 834.1 442.7 837.2 432.1 C840.2 421.5 843.6 410.5 847.4 399.3 C851.2 388.0 855.3 376.0 859.7 364.4 C864.2 352.8 870.0 339.1 874.1 329.5 C878.2 320.0 880.9 314.1 884.3 307.0 C887.7 299.8 892.9 289.9 894.6 286.5" fill="none" stroke="#aa5a28" stroke-width="3.8" opacity="0.9" filter="url(#b1)"/><path d="M853.6 469.0 C854.2 466.2 855.6 460.1 857.7 452.6 C859.7 445.1 862.8 433.4 865.9 423.9 C868.9 414.3 872.4 405.7 876.1 395.2 C879.9 384.6 884.3 370.2 888.4 360.3 C892.5 350.4 897.0 342.9 900.7 335.7 C904.5 328.5 909.3 320.3 911.0 317.2" fill="none" stroke="#aa5a28" stroke-width="3.8" opacity="0.9" filter="url(#b1)"/><path d="M880.2 446.4 C881.2 443.3 884.0 434.5 886.4 428.0 C888.8 421.5 891.5 415.0 894.6 407.5 C897.7 399.9 902.1 389.3 904.8 382.8 C907.6 376.4 908.9 373.3 911.0 368.5 C913.0 363.7 916.1 356.5 917.1 354.1" fill="none" stroke="#aa5a28" stroke-width="3.8" opacity="0.9" filter="url(#b1)"/><circle cx="884.6" cy="448" r="60" fill="#b8743a" opacity="0.18" filter="url(#b8)"/></g><circle cx="814.6" cy="372.8" r="100.1" fill="none" stroke="#8dbde9" stroke-width="4.6"/></g>
<g id="c_feather"><circle cx="709.8" cy="624.4" r="100" fill="#fff"/><g clip-path="url(#clip_feather)"><g fill="none" stroke-linecap="round"><path d="M617.3 587.7 C623.1 581.9 636.4 576.7 646.0 575.4 C655.6 574.0 668.9 576.4 674.7 579.5 C680.5 582.6 681.2 587.7 680.9 593.8 C680.5 600.0 676.8 609.6 672.7 616.4 C668.6 623.2 663.4 629.7 656.3 634.8 C649.1 640.0 636.4 647.2 629.6 647.2 C622.8 647.2 618.3 641.0 615.3 634.8 C612.2 628.7 610.8 618.1 611.2 610.2 C611.5 602.4 611.5 593.5 617.3 587.7 Z" fill="#cfe5f8" stroke="none" opacity="0.85" filter="url(#b4)"/><path d="M641.9 602.0 C647.0 596.6 660.4 591.1 666.5 589.7 C672.7 588.4 677.8 590.1 678.8 593.8 C679.9 597.6 676.8 606.8 672.7 612.3 C668.6 617.8 660.4 624.9 654.2 626.6 C648.1 628.4 637.8 626.6 635.8 622.5 C633.7 618.4 636.8 607.5 641.9 602.0 Z" fill="#8fc3f0" stroke="none" opacity="0.85" filter="url(#b2)"/><path d="M687.3 588.0 Q662.8 612.7 632.9 622.3" stroke="#b4daf8" stroke-width="0.59" opacity="0.40"/><path d="M674.9 591.1 Q645.7 598.2 616.1 603.1" stroke="#cfe6fb" stroke-width="0.86" opacity="0.66"/><path d="M684.4 601.7 Q651.6 600.4 627.3 584.9" stroke="#7ab8ea" stroke-width="0.76" opacity="0.56"/><path d="M682.6 589.8 Q651.0 601.0 619.3 612.2" stroke="#6aaae4" stroke-width="0.43" opacity="0.46"/><path d="M685.5 601.1 Q659.7 590.1 632.7 585.3" stroke="#9ccdf4" stroke-width="0.52" opacity="0.76"/><path d="M672.9 595.3 Q647.9 600.2 622.8 600.9" stroke="#7ab8ea" stroke-width="0.79" opacity="0.37"/><path d="M673.5 595.4 Q649.1 608.6 624.1 620.9" stroke="#9ccdf4" stroke-width="0.78" opacity="0.75"/><path d="M675.2 596.3 Q650.9 597.1 627.7 602.5" stroke="#b4daf8" stroke-width="0.45" opacity="0.70"/><path d="M686.5 596.8 Q672.7 576.0 653.0 566.0" stroke="#cfe6fb" stroke-width="0.68" opacity="0.63"/><path d="M681.5 599.2 Q649.8 609.3 622.8 626.9" stroke="#cfe6fb" stroke-width="0.55" opacity="0.53"/><path d="M686.2 600.9 Q665.7 590.2 646.1 578.0" stroke="#9ccdf4" stroke-width="0.75" opacity="0.68"/><path d="M688.6 597.7 Q657.8 615.8 628.4 612.3" stroke="#cfe6fb" stroke-width="0.58" opacity="0.39"/><path d="M674.5 593.8 Q642.7 606.8 610.0 608.9" stroke="#b4daf8" stroke-width="0.47" opacity="0.62"/><path d="M685.2 588.0 Q672.3 626.3 644.6 644.4" stroke="#9ccdf4" stroke-width="0.74" opacity="0.70"/><path d="M687.7 597.1 Q652.3 609.7 618.6 605.4" stroke="#9ccdf4" stroke-width="0.86" opacity="0.73"/><path d="M673.4 598.8 Q647.8 574.7 617.9 568.7" stroke="#6aaae4" stroke-width="0.80" opacity="0.37"/><path d="M675.0 600.5 Q646.9 594.7 623.3 603.3" stroke="#9ccdf4" stroke-width="0.56" opacity="0.39"/><path d="M688.6 598.3 Q657.2 588.2 632.2 597.8" stroke="#cfe6fb" stroke-width="0.82" opacity="0.80"/><path d="M679.5 588.2 Q654.0 598.7 628.7 597.5" stroke="#b4daf8" stroke-width="0.86" opacity="0.50"/><path d="M685.3 602.1 Q650.6 599.4 621.6 611.7" stroke="#cfe6fb" stroke-width="0.48" opacity="0.37"/><path d="M673.9 589.8 Q647.2 586.5 620.8 581.3" stroke="#7ab8ea" stroke-width="0.67" opacity="0.64"/><path d="M687.9 594.4 Q654.6 587.8 629.5 600.2" stroke="#9ccdf4" stroke-width="0.72" opacity="0.45"/><path d="M679.8 589.8 Q648.1 570.4 618.6 574.9" stroke="#cfe6fb" stroke-width="0.62" opacity="0.66"/><path d="M684.8 599.9 Q669.8 629.4 646.1 648.9" stroke="#b4daf8" stroke-width="0.88" opacity="0.39"/><path d="M683.4 599.7 Q649.9 605.3 623.0 593.8" stroke="#9ccdf4" stroke-width="0.70" opacity="0.66"/><path d="M673.9 589.0 Q656.7 616.0 632.7 622.2" stroke="#b4daf8" stroke-width="0.44" opacity="0.60"/><path d="M686.9 602.6 Q658.4 608.2 629.6 611.3" stroke="#9ccdf4" stroke-width="0.53" opacity="0.53"/><path d="M675.7 603.7 Q640.3 605.3 616.3 623.4" stroke="#6aaae4" stroke-width="0.57" opacity="0.72"/><path d="M686.6 600.7 Q669.1 581.1 647.7 567.7" stroke="#b4daf8" stroke-width="0.71" opacity="0.73"/><path d="M674.3 600.4 Q651.3 592.9 627.8 591.9" stroke="#b4daf8" stroke-width="0.73" opacity="0.43"/><path d="M679.0 598.3 Q644.5 592.7 609.8 591.2" stroke="#7ab8ea" stroke-width="0.43" opacity="0.48"/><path d="M687.8 602.9 Q661.4 605.8 635.7 602.4" stroke="#cfe6fb" stroke-width="0.76" opacity="0.41"/><path d="M681.3 589.7 Q653.8 598.5 627.1 595.8" stroke="#7ab8ea" stroke-width="0.54" opacity="0.52"/><path d="M676.5 591.0 Q649.4 612.4 618.6 619.0" stroke="#6aaae4" stroke-width="0.83" opacity="0.46"/><path d="M674.5 593.9 Q651.3 594.0 629.0 589.1" stroke="#b4daf8" stroke-width="0.41" opacity="0.55"/><path d="M680.2 599.3 Q659.4 617.6 636.4 619.5" stroke="#9ccdf4" stroke-width="0.64" opacity="0.77"/><path d="M675.9 592.1 Q652.8 587.5 630.3 580.8" stroke="#7ab8ea" stroke-width="0.87" opacity="0.60"/><path d="M676.4 599.8 Q653.0 603.2 630.1 609.0" stroke="#6aaae4" stroke-width="0.46" opacity="0.77"/><path d="M686.7 591.3 Q667.1 612.3 643.7 616.1" stroke="#b4daf8" stroke-width="0.63" opacity="0.78"/><path d="M675.0 600.8 Q642.3 597.3 610.3 600.9" stroke="#9ccdf4" stroke-width="0.50" opacity="0.65"/><path d="M680.6 590.8 Q649.7 619.5 617.1 619.3" stroke="#cfe6fb" stroke-width="0.85" opacity="0.64"/><path d="M673.4 598.3 Q643.6 583.3 613.0 582.7" stroke="#cfe6fb" stroke-width="0.47" opacity="0.51"/><path d="M673.5 601.6 Q648.1 611.6 626.7 627.3" stroke="#7ab8ea" stroke-width="0.75" opacity="0.36"/><path d="M684.5 595.1 Q664.7 570.4 638.8 561.4" stroke="#b4daf8" stroke-width="0.62" opacity="0.41"/><path d="M687.9 594.3 Q659.8 581.8 630.3 578.1" stroke="#9ccdf4" stroke-width="0.58" opacity="0.57"/><path d="M678.9 601.5 Q662.1 583.1 641.1 573.3" stroke="#7ab8ea" stroke-width="0.71" opacity="0.45"/><path d="M680.2 591.5 Q647.2 566.1 614.2 568.1" stroke="#b4daf8" stroke-width="0.42" opacity="0.43"/><path d="M684.2 597.0 Q654.7 593.3 628.8 601.8" stroke="#7ab8ea" stroke-width="0.81" opacity="0.35"/><path d="M681.9 599.3 Q657.9 620.1 630.8 623.8" stroke="#7ab8ea" stroke-width="0.68" opacity="0.47"/><path d="M687.4 603.9 Q663.0 623.4 636.3 625.9" stroke="#b4daf8" stroke-width="0.84" opacity="0.38"/><path d="M680.1 594.4 Q650.0 578.6 621.5 582.3" stroke="#7ab8ea" stroke-width="0.83" opacity="0.78"/><path d="M688.0 594.4 Q659.5 606.0 636.0 598.3" stroke="#9ccdf4" stroke-width="0.88" opacity="0.76"/><path d="M675.1 589.1 Q651.1 581.1 629.7 568.6" stroke="#b4daf8" stroke-width="0.80" opacity="0.64"/><path d="M674.7 591.8 Q647.8 579.3 619.3 574.4" stroke="#cfe6fb" stroke-width="0.74" opacity="0.52"/><path d="M682.4 591.9 Q659.5 609.0 634.3 621.0" stroke="#b4daf8" stroke-width="0.72" opacity="0.54"/><path d="M677.0 601.0 Q641.8 594.7 608.1 599.9" stroke="#9ccdf4" stroke-width="0.71" opacity="0.56"/><path d="M680.5 598.7 Q656.7 599.8 635.8 608.4" stroke="#7ab8ea" stroke-width="0.63" opacity="0.50"/><path d="M688.5 589.3 Q647.0 589.5 622.8 611.3" stroke="#cfe6fb" stroke-width="0.60" opacity="0.78"/><path d="M678.6 598.5 Q649.4 581.4 618.3 578.5" stroke="#7ab8ea" stroke-width="0.90" opacity="0.64"/><path d="M674.7 596.0 Q638.4 584.4 607.7 593.9" stroke="#cfe6fb" stroke-width="0.61" opacity="0.39"/><path d="M678.6 599.2 Q658.8 621.6 636.8 641.7" stroke="#7ab8ea" stroke-width="0.81" opacity="0.66"/><path d="M685.4 594.2 Q664.6 622.6 636.4 632.3" stroke="#b4daf8" stroke-width="0.82" opacity="0.64"/><path d="M676.0 600.1 Q647.8 622.4 615.6 633.8" stroke="#b4daf8" stroke-width="0.48" opacity="0.38"/><path d="M683.5 600.2 Q665.7 628.6 640.1 636.5" stroke="#9ccdf4" stroke-width="0.70" opacity="0.54"/><path d="M686.3 589.3 Q655.3 604.3 623.3 605.6" stroke="#7ab8ea" stroke-width="0.51" opacity="0.47"/><path d="M688.7 588.2 Q658.4 607.2 628.2 605.7" stroke="#9ccdf4" stroke-width="0.88" opacity="0.42"/><path d="M679.6 595.5 Q656.0 610.9 630.2 615.7" stroke="#9ccdf4" stroke-width="0.86" opacity="0.47"/><path d="M673.9 588.7 Q654.9 564.0 630.8 559.6" stroke="#7ab8ea" stroke-width="0.80" opacity="0.68"/><path d="M687.7 596.8 Q667.5 618.4 643.9 621.2" stroke="#7ab8ea" stroke-width="0.82" opacity="0.54"/><path d="M673.1 592.9 Q643.3 600.0 620.5 589.4" stroke="#6aaae4" stroke-width="0.45" opacity="0.61"/><path d="M685.5 591.6 Q650.4 604.6 620.5 595.8" stroke="#6aaae4" stroke-width="0.68" opacity="0.41"/><path d="M682.2 589.6 Q662.0 573.9 639.4 563.3" stroke="#7ab8ea" stroke-width="0.78" opacity="0.58"/><path d="M676.5 588.3 Q654.3 595.8 632.3 603.8" stroke="#7ab8ea" stroke-width="0.72" opacity="0.66"/><path d="M687.3 591.2 Q657.7 601.5 627.8 602.2" stroke="#b4daf8" stroke-width="0.47" opacity="0.38"/><path d="M683.8 599.1 Q649.7 597.1 622.0 609.9" stroke="#6aaae4" stroke-width="0.56" opacity="0.67"/><path d="M682.6 589.3 Q658.6 603.2 636.8 599.3" stroke="#cfe6fb" stroke-width="0.52" opacity="0.43"/><path d="M678.0 600.4 Q653.9 598.5 632.0 604.7" stroke="#b4daf8" stroke-width="0.74" opacity="0.56"/><path d="M674.1 598.4 Q647.2 599.9 621.6 606.7" stroke="#6aaae4" stroke-width="0.64" opacity="0.46"/><path d="M680.5 599.3 Q652.6 593.5 627.2 599.5" stroke="#b4daf8" stroke-width="0.67" opacity="0.70"/><path d="M677.9 588.7 Q644.3 585.0 615.0 595.0" stroke="#9ccdf4" stroke-width="0.72" opacity="0.48"/><path d="M674.9 595.3 Q659.0 564.9 637.7 538.7" stroke="#b4daf8" stroke-width="0.73" opacity="0.73"/><path d="M678.3 596.2 Q645.1 605.3 616.7 596.5" stroke="#9ccdf4" stroke-width="0.76" opacity="0.68"/><path d="M681.4 599.1 Q652.8 584.8 630.7 563.5" stroke="#cfe6fb" stroke-width="0.70" opacity="0.53"/><path d="M679.1 600.8 Q654.4 590.4 629.1 588.9" stroke="#b4daf8" stroke-width="0.46" opacity="0.46"/><path d="M684.7 602.1 Q661.0 584.1 636.2 583.7" stroke="#6aaae4" stroke-width="0.51" opacity="0.43"/><path d="M685.0 594.2 Q653.3 609.9 621.4 609.2" stroke="#7ab8ea" stroke-width="0.77" opacity="0.76"/><path d="M685.7 588.3 Q663.8 607.4 642.4 627.0" stroke="#7ab8ea" stroke-width="0.89" opacity="0.63"/><path d="M684.6 601.5 Q658.0 594.5 631.7 595.8" stroke="#6aaae4" stroke-width="0.43" opacity="0.35"/><path d="M677.0 588.5 Q644.5 609.4 614.3 605.0" stroke="#b4daf8" stroke-width="0.51" opacity="0.49"/><path d="M688.1 592.7 Q657.4 578.0 625.0 569.7" stroke="#6aaae4" stroke-width="0.59" opacity="0.40"/><path d="M679.0 612.3 Q650.9 608.4 626.8 616.9" stroke="#9ccdf4" stroke-width="0.64" opacity="0.61"/><path d="M683.0 600.9 Q658.1 605.3 639.2 596.1" stroke="#7ab8ea" stroke-width="0.44" opacity="0.61"/><path d="M677.4 603.5 Q652.8 611.5 639.0 628.9" stroke="#b4daf8" stroke-width="0.66" opacity="0.42"/><path d="M681.2 611.9 Q657.2 592.1 634.0 594.5" stroke="#5a8fd0" stroke-width="0.63" opacity="0.69"/><path d="M676.2 610.1 Q657.2 586.2 632.4 578.9" stroke="#b4daf8" stroke-width="0.48" opacity="0.38"/><path d="M683.0 612.6 Q669.9 638.1 649.6 643.7" stroke="#b4daf8" stroke-width="0.37" opacity="0.38"/><path d="M675.2 611.0 Q643.3 602.2 621.8 614.7" stroke="#7ab8ea" stroke-width="0.57" opacity="0.70"/><path d="M673.9 603.7 Q642.0 605.6 620.9 622.4" stroke="#b4daf8" stroke-width="0.55" opacity="0.39"/><path d="M676.5 604.8 Q645.9 614.5 631.5 636.2" stroke="#9ccdf4" stroke-width="0.42" opacity="0.49"/><path d="M684.1 609.3 Q673.2 637.1 652.1 649.4" stroke="#5a8fd0" stroke-width="0.51" opacity="0.58"/><path d="M671.7 602.8 Q639.1 608.1 606.8 614.3" stroke="#b4daf8" stroke-width="0.39" opacity="0.67"/><path d="M669.7 604.0 Q636.4 594.0 612.9 606.4" stroke="#6aaae4" stroke-width="0.41" opacity="0.60"/><path d="M684.6 606.4 Q658.3 588.9 635.7 594.3" stroke="#cfe6fb" stroke-width="0.54" opacity="0.55"/><path d="M671.1 613.4 Q637.9 596.3 613.2 606.3" stroke="#6f94c4" stroke-width="0.41" opacity="0.71"/><path d="M674.6 612.9 Q664.9 646.3 642.7 667.2" stroke="#5a8fd0" stroke-width="0.67" opacity="0.69"/><path d="M680.2 601.6 Q655.3 617.8 629.3 632.2" stroke="#6f94c4" stroke-width="0.55" opacity="0.41"/><path d="M678.4 602.3 Q665.2 626.9 644.7 642.8" stroke="#6aaae4" stroke-width="0.43" opacity="0.60"/><path d="M681.2 611.0 Q655.4 616.0 642.6 632.4" stroke="#6f94c4" stroke-width="0.61" opacity="0.44"/><path d="M678.4 612.6 Q660.4 631.4 638.5 637.3" stroke="#4a7cc0" stroke-width="0.61" opacity="0.63"/><path d="M673.1 611.5 Q644.1 590.5 616.5 593.9" stroke="#5a8fd0" stroke-width="0.52" opacity="0.35"/><path d="M677.7 604.8 Q645.3 611.3 614.1 606.9" stroke="#6f94c4" stroke-width="0.57" opacity="0.75"/><path d="M681.0 602.1 Q672.5 628.8 653.9 644.8" stroke="#6f94c4" stroke-width="0.65" opacity="0.49"/><path d="M675.9 600.4 Q649.8 613.2 626.6 630.0" stroke="#4a7cc0" stroke-width="0.53" opacity="0.42"/><path d="M675.8 613.7 Q649.8 620.8 623.5 627.2" stroke="#7ab8ea" stroke-width="0.51" opacity="0.43"/><path d="M670.0 609.4 Q641.0 605.1 624.1 618.5" stroke="#6aaae4" stroke-width="0.39" opacity="0.64"/><path d="M680.1 611.6 Q654.7 617.2 632.5 629.0" stroke="#cfe6fb" stroke-width="0.65" opacity="0.58"/><path d="M674.5 608.2 Q650.8 581.1 622.9 578.0" stroke="#6aaae4" stroke-width="0.68" opacity="0.60"/><path d="M679.2 610.1 Q663.1 635.0 642.0 637.9" stroke="#6f94c4" stroke-width="0.57" opacity="0.62"/><path d="M672.3 611.0 Q657.1 639.1 633.0 651.0" stroke="#6aaae4" stroke-width="0.58" opacity="0.46"/><path d="M683.3 613.7 Q659.8 613.7 637.5 618.7" stroke="#cfe6fb" stroke-width="0.50" opacity="0.46"/><path d="M681.4 603.3 Q648.2 596.6 626.3 610.6" stroke="#4a7cc0" stroke-width="0.47" opacity="0.50"/><path d="M681.4 602.3 Q656.7 617.8 629.8 626.6" stroke="#6aaae4" stroke-width="0.37" opacity="0.67"/><path d="M673.4 606.1 Q635.6 597.2 610.2 612.5" stroke="#6aaae4" stroke-width="0.36" opacity="0.43"/><path d="M681.7 600.5 Q664.8 617.7 644.1 623.9" stroke="#5a8fd0" stroke-width="0.50" opacity="0.40"/><path d="M671.1 606.9 Q655.1 583.4 634.4 580.3" stroke="#6f94c4" stroke-width="0.50" opacity="0.43"/><path d="M682.5 604.3 Q664.6 635.4 637.8 644.6" stroke="#6f94c4" stroke-width="0.56" opacity="0.74"/><path d="M669.1 609.5 Q645.8 610.4 624.0 616.9" stroke="#4a7cc0" stroke-width="0.51" opacity="0.39"/><path d="M674.5 613.2 Q655.7 631.6 633.2 636.7" stroke="#4a7cc0" stroke-width="0.69" opacity="0.52"/><path d="M684.4 614.1 Q659.6 619.5 640.0 633.0" stroke="#6f94c4" stroke-width="0.41" opacity="0.71"/><path d="M678.8 608.6 Q649.3 617.2 619.2 622.7" stroke="#5a8fd0" stroke-width="0.62" opacity="0.57"/><path d="M669.1 608.3 Q641.8 609.9 617.2 619.2" stroke="#6f94c4" stroke-width="0.65" opacity="0.72"/><path d="M671.1 600.9 Q647.1 616.2 621.0 625.7" stroke="#5a8fd0" stroke-width="0.53" opacity="0.72"/><path d="M674.6 609.4 Q656.7 639.3 629.8 652.9" stroke="#6aaae4" stroke-width="0.60" opacity="0.51"/><path d="M684.1 613.0 Q662.9 638.4 648.0 667.2" stroke="#b4daf8" stroke-width="0.66" opacity="0.43"/><path d="M678.6 598.2 Q649.3 598.4 620.6 603.0" stroke="#b4daf8" stroke-width="0.46" opacity="0.65"/><path d="M668.3 576.1 Q653.0 561.2 635.4 558.9" stroke="#6aaae4" stroke-width="0.68" opacity="0.64"/><path d="M659.3 580.4 Q631.1 578.2 616.0 562.1" stroke="#6aaae4" stroke-width="0.67" opacity="0.53"/><path d="M673.5 574.9 Q656.1 561.7 636.8 559.0" stroke="#9ccdf4" stroke-width="0.48" opacity="0.65"/><path d="M671.5 574.8 Q647.6 577.5 623.6 577.9" stroke="#b4daf8" stroke-width="0.38" opacity="0.50"/><path d="M662.0 584.0 Q639.2 591.3 617.1 589.0" stroke="#b4daf8" stroke-width="0.42" opacity="0.50"/><path d="M669.6 583.9 Q648.3 595.7 625.8 597.8" stroke="#b4daf8" stroke-width="0.49" opacity="0.68"/><path d="M660.4 585.5 Q637.7 591.5 619.7 584.2" stroke="#b4daf8" stroke-width="0.37" opacity="0.70"/><path d="M668.7 579.6 Q654.1 591.3 637.4 594.8" stroke="#cfe6fb" stroke-width="0.36" opacity="0.49"/><path d="M672.1 587.8 Q653.8 598.4 638.7 594.0" stroke="#6aaae4" stroke-width="0.56" opacity="0.65"/><path d="M668.3 588.8 Q650.4 572.4 629.5 561.9" stroke="#9ccdf4" stroke-width="0.58" opacity="0.64"/><path d="M661.2 588.0 Q640.9 588.3 625.0 579.8" stroke="#7ab8ea" stroke-width="0.44" opacity="0.67"/><path d="M674.1 585.9 Q655.9 573.3 635.8 565.8" stroke="#cfe6fb" stroke-width="0.57" opacity="0.69"/><path d="M665.2 581.0 Q651.0 568.6 642.4 552.9" stroke="#9ccdf4" stroke-width="0.61" opacity="0.39"/><path d="M673.3 576.1 Q647.7 578.3 625.5 588.4" stroke="#cfe6fb" stroke-width="0.46" opacity="0.66"/><path d="M672.9 581.0 Q657.4 555.9 635.4 550.3" stroke="#cfe6fb" stroke-width="0.48" opacity="0.52"/><path d="M672.7 579.4 Q659.6 561.8 643.4 559.7" stroke="#7ab8ea" stroke-width="0.52" opacity="0.41"/><path d="M667.8 576.4 Q647.4 572.1 629.5 577.5" stroke="#b4daf8" stroke-width="0.42" opacity="0.35"/><path d="M673.7 584.5 Q652.1 585.8 631.4 581.6" stroke="#7ab8ea" stroke-width="0.54" opacity="0.65"/><path d="M664.3 583.2 Q643.2 573.5 628.2 557.7" stroke="#7ab8ea" stroke-width="0.60" opacity="0.53"/><path d="M666.8 584.1 Q650.3 576.4 633.8 577.0" stroke="#7ab8ea" stroke-width="0.58" opacity="0.57"/><path d="M674.4 584.4 Q654.8 567.7 632.0 560.5" stroke="#9ccdf4" stroke-width="0.44" opacity="0.69"/><path d="M669.6 581.8 Q645.7 575.2 625.4 562.7" stroke="#cfe6fb" stroke-width="0.54" opacity="0.37"/><path d="M674.3 588.0 Q651.1 588.2 633.0 578.2" stroke="#7ab8ea" stroke-width="0.68" opacity="0.41"/><path d="M674.0 580.0 Q661.2 564.6 644.7 555.6" stroke="#9ccdf4" stroke-width="0.56" opacity="0.58"/><path d="M671.8 587.8 Q651.8 587.8 631.9 588.4" stroke="#6aaae4" stroke-width="0.48" opacity="0.56"/><path d="M668.5 584.0 Q649.4 563.0 646.5 539.2" stroke="#b4daf8" stroke-width="0.54" opacity="0.44"/><path d="M662.6 575.8 Q639.3 590.4 616.2 589.0" stroke="#7ab8ea" stroke-width="0.39" opacity="0.62"/><path d="M660.1 581.5 Q640.6 572.9 621.9 563.0" stroke="#9ccdf4" stroke-width="0.60" opacity="0.39"/><path d="M673.3 573.6 Q662.8 555.8 647.2 550.4" stroke="#b4daf8" stroke-width="0.43" opacity="0.34"/><path d="M670.8 577.1 Q651.2 573.4 632.4 576.0" stroke="#9ccdf4" stroke-width="0.51" opacity="0.50"/><path d="M704.7 564.4 Q676.0 571.6 652.1 563.1" stroke="#a5553c" stroke-width="0.62" opacity="0.60"/><path d="M698.3 571.5 Q673.8 568.8 649.5 564.2" stroke="#b8684a" stroke-width="0.41" opacity="0.47"/><path d="M698.7 568.4 Q676.8 548.4 651.7 544.5" stroke="#b06a50" stroke-width="0.37" opacity="0.35"/><path d="M704.9 562.9 Q687.1 556.4 669.1 550.1" stroke="#94504a" stroke-width="0.37" opacity="0.51"/><path d="M699.7 567.0 Q674.9 574.5 650.8 572.3" stroke="#b8684a" stroke-width="0.50" opacity="0.56"/><path d="M700.1 567.0 Q681.6 564.2 667.1 554.9" stroke="#a5553c" stroke-width="0.54" opacity="0.42"/><path d="M700.4 570.1 Q679.4 566.0 660.5 557.2" stroke="#a5553c" stroke-width="0.49" opacity="0.58"/><path d="M704.0 574.1 Q687.0 562.7 669.5 562.3" stroke="#a5553c" stroke-width="0.48" opacity="0.57"/><path d="M698.6 573.3 Q679.7 566.9 660.3 562.3" stroke="#c07a5a" stroke-width="0.45" opacity="0.67"/><path d="M703.2 563.7 Q686.3 554.5 668.0 550.1" stroke="#b8684a" stroke-width="0.55" opacity="0.69"/><path d="M706.0 571.8 Q687.7 579.3 670.4 576.8" stroke="#94504a" stroke-width="0.43" opacity="0.39"/><path d="M707.4 567.1 Q691.7 553.8 673.5 549.2" stroke="#b8684a" stroke-width="0.69" opacity="0.48"/><path d="M698.5 570.9 Q682.5 560.4 665.4 559.0" stroke="#b8684a" stroke-width="0.58" opacity="0.40"/><path d="M700.1 564.0 Q686.7 549.0 669.7 543.2" stroke="#a5553c" stroke-width="0.66" opacity="0.70"/><path d="M708.3 571.6 Q692.9 555.3 673.9 549.2" stroke="#b06a50" stroke-width="0.50" opacity="0.68"/><path d="M701.2 564.6 Q681.1 552.6 659.3 547.7" stroke="#b8684a" stroke-width="0.48" opacity="0.50"/><path d="M700.1 565.5 Q677.1 567.4 654.1 569.3" stroke="#b06a50" stroke-width="0.36" opacity="0.47"/><path d="M698.9 569.7 Q678.6 567.6 658.7 563.9" stroke="#94504a" stroke-width="0.53" opacity="0.40"/><path d="M703.6 566.7 Q676.5 568.4 651.2 562.4" stroke="#c07a5a" stroke-width="0.64" opacity="0.31"/><path d="M706.2 572.5 Q683.9 561.8 660.4 558.2" stroke="#c07a5a" stroke-width="0.48" opacity="0.60"/><path d="M699.9 565.0 Q679.8 548.8 656.6 542.2" stroke="#94504a" stroke-width="0.57" opacity="0.58"/><path d="M697.8 573.7 Q677.4 568.9 656.9 564.9" stroke="#94504a" stroke-width="0.63" opacity="0.39"/><path d="M698.7 571.7 Q680.3 560.6 660.2 556.4" stroke="#c07a5a" stroke-width="0.39" opacity="0.38"/><path d="M701.5 567.2 Q685.8 552.6 667.9 550.3" stroke="#94504a" stroke-width="0.50" opacity="0.43"/><path d="M699.6 564.1 Q672.1 566.2 646.3 560.0" stroke="#b8684a" stroke-width="0.47" opacity="0.64"/><path d="M706.7 566.7 Q685.5 568.6 668.4 560.7" stroke="#94504a" stroke-width="0.50" opacity="0.46"/><path d="M700.5 562.4 Q677.1 563.1 654.2 560.0" stroke="#c07a5a" stroke-width="0.62" opacity="0.59"/><path d="M697.9 570.8 Q678.0 571.3 660.9 564.3" stroke="#b06a50" stroke-width="0.59" opacity="0.54"/><path d="M699.8 572.5 Q683.4 556.9 664.1 553.1" stroke="#b8684a" stroke-width="0.51" opacity="0.61"/><path d="M703.6 572.4 Q678.5 577.2 657.8 569.1" stroke="#c07a5a" stroke-width="0.39" opacity="0.39"/><path d="M702.4 566.6 Q683.7 553.6 663.9 552.6" stroke="#a5553c" stroke-width="0.47" opacity="0.46"/><path d="M700.3 569.8 Q679.8 566.9 659.2 564.6" stroke="#b06a50" stroke-width="0.63" opacity="0.41"/><path d="M703.2 574.0 Q677.4 585.5 653.9 581.0" stroke="#c07a5a" stroke-width="0.51" opacity="0.54"/><path d="M708.9 564.1 Q691.6 546.0 670.9 542.1" stroke="#94504a" stroke-width="0.62" opacity="0.60"/><path d="M708.0 565.9 Q688.2 544.8 663.7 537.1" stroke="#a5553c" stroke-width="0.37" opacity="0.66"/><path d="M702.9 573.2 Q681.1 572.5 660.5 567.1" stroke="#94504a" stroke-width="0.69" opacity="0.37"/><path d="M703.4 566.7 Q683.7 552.2 662.1 549.4" stroke="#b8684a" stroke-width="0.43" opacity="0.46"/><path d="M700.7 571.3 Q680.2 560.8 658.5 554.0" stroke="#94504a" stroke-width="0.65" opacity="0.45"/><path d="M705.1 563.8 Q678.5 557.3 651.8 557.5" stroke="#a5553c" stroke-width="0.47" opacity="0.47"/><path d="M699.4 570.1 Q680.8 558.8 660.6 552.3" stroke="#c07a5a" stroke-width="0.48" opacity="0.40"/><path d="M714.1 552.9 Q703.5 541.1 690.2 537.4" stroke="#a5553c" stroke-width="0.36" opacity="0.33"/><path d="M711.6 556.6 Q694.6 548.4 683.4 535.1" stroke="#b8684a" stroke-width="0.37" opacity="0.31"/><path d="M715.4 556.9 Q703.1 548.8 689.5 544.7" stroke="#b8684a" stroke-width="0.51" opacity="0.55"/><path d="M714.4 552.3 Q695.9 550.5 679.5 543.3" stroke="#94504a" stroke-width="0.52" opacity="0.44"/><path d="M715.0 557.8 Q698.2 550.5 686.3 538.4" stroke="#c07a5a" stroke-width="0.54" opacity="0.36"/><path d="M712.2 552.9 Q694.4 547.6 684.4 535.4" stroke="#a5553c" stroke-width="0.37" opacity="0.47"/><path d="M713.9 557.1 Q696.6 550.2 685.8 537.5" stroke="#a5553c" stroke-width="0.39" opacity="0.54"/><path d="M710.9 560.9 Q694.8 549.5 676.9 543.0" stroke="#b06a50" stroke-width="0.41" opacity="0.31"/><path d="M713.3 558.2 Q696.6 557.9 683.8 550.5" stroke="#94504a" stroke-width="0.37" opacity="0.28"/><path d="M709.2 554.3 Q698.3 542.8 685.1 539.5" stroke="#a5553c" stroke-width="0.57" opacity="0.60"/><path d="M715.2 554.3 Q702.9 541.1 687.8 537.4" stroke="#a5553c" stroke-width="0.53" opacity="0.33"/><path d="M713.0 561.3 Q696.9 552.5 687.9 538.7" stroke="#b06a50" stroke-width="0.47" opacity="0.53"/><path d="M708.0 562.4 Q693.2 554.6 681.9 543.2" stroke="#b06a50" stroke-width="0.41" opacity="0.49"/><path d="M717.1 555.3 Q703.3 550.9 689.4 546.7" stroke="#b06a50" stroke-width="0.47" opacity="0.47"/><path d="M715.2 559.4 Q698.4 551.8 682.9 542.0" stroke="#b8684a" stroke-width="0.44" opacity="0.51"/><path d="M707.5 561.9 Q691.4 557.5 675.5 552.5" stroke="#b06a50" stroke-width="0.40" opacity="0.58"/><path d="M708.6 557.8 Q693.4 545.6 676.5 543.4" stroke="#94504a" stroke-width="0.42" opacity="0.47"/><path d="M708.3 556.2 Q689.5 562.8 674.2 557.5" stroke="#94504a" stroke-width="0.41" opacity="0.54"/><path d="M721.5 548.7 Q717.8 542.2 717.8 535.7" stroke="#94504a" stroke-width="0.45" opacity="0.56"/><path d="M718.8 549.4 Q723.0 542.0 722.2 534.9" stroke="#c07a5a" stroke-width="0.65" opacity="0.35"/><path d="M726.2 543.7 Q722.9 539.0 718.8 535.1" stroke="#cf5c10" stroke-width="0.49" opacity="0.34"/><path d="M719.4 547.3 Q719.6 541.5 720.2 535.8" stroke="#c4520c" stroke-width="0.52" opacity="0.33"/><path d="M725.8 545.8 Q732.2 539.8 734.4 532.4" stroke="#d86414" stroke-width="0.55" opacity="0.46"/><path d="M723.5 542.3 Q724.1 536.3 724.1 530.2" stroke="#d86414" stroke-width="0.47" opacity="0.33"/><path d="M727.5 541.2 Q730.4 534.1 734.9 528.2" stroke="#b06a50" stroke-width="0.54" opacity="0.52"/><path d="M712.7 542.6 Q713.2 534.1 717.6 528.2" stroke="#b06a50" stroke-width="0.64" opacity="0.38"/><path d="M711.9 553.3 Q712.1 547.3 714.4 542.2" stroke="#c07a5a" stroke-width="0.63" opacity="0.52"/><path d="M717.1 540.4 Q718.8 535.3 719.1 530.1" stroke="#a5553c" stroke-width="0.70" opacity="0.36"/><path d="M724.0 545.2 Q727.0 540.1 726.8 535.0" stroke="#cf5c10" stroke-width="0.43" opacity="0.43"/><path d="M722.7 548.0 Q718.1 542.4 713.2 536.9" stroke="#e27a28" stroke-width="0.45" opacity="0.55"/><path d="M725.0 542.0 Q716.9 538.6 712.9 532.3" stroke="#c07a5a" stroke-width="0.51" opacity="0.47"/><path d="M713.1 544.6 Q715.6 536.6 714.0 529.3" stroke="#a5553c" stroke-width="0.35" opacity="0.49"/><path d="M725.3 546.2 Q725.3 538.6 728.7 532.6" stroke="#b06a50" stroke-width="0.50" opacity="0.49"/><path d="M711.9 543.4 Q711.5 537.0 712.2 530.8" stroke="#d9691a" stroke-width="0.53" opacity="0.37"/><path d="M712.6 539.9 Q708.5 535.4 707.9 530.3" stroke="#b06a50" stroke-width="0.46" opacity="0.46"/><path d="M712.9 553.6 Q708.4 546.7 708.8 539.8" stroke="#d9691a" stroke-width="0.60" opacity="0.48"/><path d="M723.7 553.0 Q718.3 547.5 716.7 540.9" stroke="#e27a28" stroke-width="0.46" opacity="0.59"/><path d="M727.3 543.8 Q725.5 538.2 722.6 533.1" stroke="#cf5c10" stroke-width="0.49" opacity="0.53"/><path d="M713.6 539.3 Q714.3 533.4 715.4 527.5" stroke="#c07a5a" stroke-width="0.40" opacity="0.42"/><path d="M714.6 541.0 Q709.9 535.7 707.2 529.4" stroke="#c07a5a" stroke-width="0.39" opacity="0.30"/><path d="M721.7 549.3 Q721.3 543.5 718.8 538.8" stroke="#ea8a3a" stroke-width="0.50" opacity="0.53"/><path d="M719.9 551.7 Q725.0 547.3 727.5 541.6" stroke="#d9691a" stroke-width="0.39" opacity="0.44"/><path d="M714.3 542.2 Q713.5 536.4 715.6 531.8" stroke="#b8684a" stroke-width="0.54" opacity="0.48"/><path d="M625.5 670.7 C626.9 662.5 642.3 654.5 650.1 647.2 C658.0 639.8 668.2 634.2 672.7 626.6 C677.1 619.1 674.7 609.9 676.8 602.0 C678.8 594.2 680.5 586.3 685.0 579.5 C689.4 572.6 696.9 567.7 703.4 561.0 C709.9 554.4 718.5 541.2 723.9 539.5 C729.4 537.8 731.5 547.5 736.3 550.8 C741.0 554.0 745.1 557.3 752.7 559.0 C760.2 560.7 773.2 556.2 781.4 561.0 C789.6 565.8 797.1 578.4 801.9 587.7 C806.7 596.9 809.1 607.5 810.1 616.4 C811.1 625.3 811.5 636.9 808.0 641.0 C804.6 645.1 796.1 639.6 789.6 641.0 C783.1 642.4 775.9 647.2 769.1 649.2 C762.2 651.3 754.0 650.2 748.6 653.3 C743.1 656.4 741.0 660.5 736.3 667.7 C731.5 674.8 726.7 687.1 719.8 696.4 C713.0 705.6 704.1 719.6 695.2 723.0 C686.4 726.5 675.4 721.3 666.5 716.9 C657.6 712.4 648.8 704.1 641.9 696.4 C635.1 688.7 624.1 678.9 625.5 670.7 Z" fill="#d4681e" stroke="none" filter="url(#b2)"/><path d="M701.4 587.7 C707.5 583.2 718.1 582.9 728.1 581.5 C738.0 580.2 750.6 578.1 760.9 579.5 C771.1 580.8 782.1 584.3 789.6 589.7 C797.1 595.2 803.9 605.5 806.0 612.3 C808.0 619.1 806.7 627.0 801.9 630.7 C797.1 634.5 786.2 633.8 777.3 634.8 C768.4 635.9 758.1 636.2 748.6 636.9 C739.0 637.6 728.7 640.0 719.8 638.9 C711.0 637.9 700.0 635.9 695.2 630.7 C690.5 625.6 690.1 615.4 691.1 608.2 C692.2 601.0 695.2 592.1 701.4 587.7 Z" fill="#b84814" stroke="none" opacity="0.95" filter="url(#b4)"/><path d="M711.6 597.9 C717.8 593.8 736.9 592.5 748.6 593.8 C760.2 595.2 777.3 600.7 781.4 606.1 C785.5 611.6 780.7 622.5 773.2 626.6 C765.7 630.7 746.5 632.1 736.3 630.7 C726.0 629.4 715.7 623.9 711.6 618.4 C707.5 613.0 705.5 602.0 711.6 597.9 Z" fill="#a0340c" stroke="none" opacity="0.85" filter="url(#b4)"/><path d="M641.9 663.6 C645.3 656.4 659.0 645.8 666.5 641.0 C674.0 636.2 681.2 633.1 687.0 634.8 C692.8 636.6 700.0 643.7 701.4 651.3 C702.8 658.8 698.3 671.1 695.2 680.0 C692.2 688.9 687.7 700.5 682.9 704.6 C678.1 708.7 672.7 708.0 666.5 704.6 C660.4 701.2 650.1 690.9 646.0 684.1 C641.9 677.2 638.5 670.7 641.9 663.6 Z" fill="#ea9246" stroke="none" opacity="0.85" filter="url(#b2)"/><path d="M670.6 645.1 C671.7 643.7 673.5 651.3 673.7 655.4 C673.9 659.5 672.7 668.3 671.7 669.7 C670.6 671.1 667.7 667.7 667.6 663.6 C667.4 659.5 669.6 646.5 670.6 645.1 Z" fill="#fbe6d2" stroke="none" opacity="0.85" filter="url(#b1)"/><path d="M676.8 694.3 C677.6 692.6 681.7 697.1 682.9 700.5 C684.1 703.9 684.8 713.1 684.0 714.8 C683.1 716.5 679.0 714.1 677.8 710.7 C676.6 707.3 675.9 696.0 676.8 694.3 Z" fill="#f4f0f4" stroke="none" opacity="0.9" filter="url(#b1)"/><path d="M637.8 675.9 C637.5 673.1 645.7 677.9 650.1 682.0 C654.6 686.1 664.1 697.7 664.5 700.5 C664.8 703.2 656.6 702.5 652.2 698.4 C647.7 694.3 638.2 678.6 637.8 675.9 Z" fill="#f2b27c" stroke="none" opacity="0.8" filter="url(#b1)"/><path d="M695.2 663.6 C696.3 659.8 701.7 658.8 703.4 661.5 C705.2 664.2 706.5 676.2 705.5 680.0 C704.5 683.7 699.0 686.8 697.3 684.1 C695.6 681.3 694.2 667.3 695.2 663.6 Z" fill="#f6c9a0" stroke="none" opacity="0.8" filter="url(#b1)"/><path d="M715.7 554.9 C717.5 551.1 726.0 546.7 732.2 544.6 C738.3 542.6 746.2 541.5 752.7 542.6 C759.2 543.6 768.4 546.7 771.1 550.8 C773.9 554.9 771.5 562.4 769.1 567.2 C766.7 572.0 762.2 578.1 756.8 579.5 C751.3 580.8 742.1 577.4 736.3 575.4 C730.4 573.3 725.3 570.6 721.9 567.2 C718.5 563.8 714.0 558.6 715.7 554.9 Z" fill="#6f8fc4" stroke="none" opacity="0.9" filter="url(#b2)"/><path d="M746.5 544.6 C748.2 542.4 758.6 542.6 762.9 543.6 C767.2 544.6 771.5 548.2 772.1 550.8 C772.8 553.3 770.3 557.9 767.0 559.0 C763.8 560.0 756.1 559.3 752.7 556.9 C749.2 554.5 744.8 546.8 746.5 544.6 Z" fill="#3d63b0" stroke="none" opacity="0.95" filter="url(#b1)"/><path d="M728.1 561.0 C729.8 558.3 739.7 557.6 744.5 559.0 C749.2 560.3 756.1 565.8 756.8 569.2 C757.4 572.6 752.3 578.4 748.6 579.5 C744.8 580.5 737.6 578.4 734.2 575.4 C730.8 572.3 726.3 563.8 728.1 561.0 Z" fill="#5a5a8a" stroke="none" opacity="0.7" filter="url(#b2)"/><path d="M736.3 538.5 C736.3 536.9 747.2 533.7 752.7 534.4 C758.1 535.0 769.1 541.0 769.1 542.6 C769.1 544.1 758.1 544.3 752.7 543.6 C747.2 542.9 736.3 540.0 736.3 538.5 Z" fill="#a9d0f4" stroke="none" opacity="0.9" filter="url(#b2)"/><path d="M718.7 583.2 Q730.6 566.8 745.9 554.6" stroke="#d9691a" stroke-width="0.89" opacity="0.84"/><path d="M723.0 577.6 Q726.6 559.0 738.1 547.6" stroke="#d9691a" stroke-width="0.57" opacity="0.43"/><path d="M715.4 581.5 Q714.7 562.2 721.6 545.9" stroke="#c4520c" stroke-width="0.51" opacity="0.61"/><path d="M720.9 584.3 Q720.7 569.0 720.3 553.7" stroke="#d9691a" stroke-width="1.06" opacity="0.62"/><path d="M719.9 585.9 Q726.5 570.5 735.6 556.7" stroke="#c4520c" stroke-width="1.14" opacity="0.63"/><path d="M721.8 576.3 Q732.4 562.7 744.1 550.2" stroke="#c4520c" stroke-width="0.68" opacity="0.77"/><path d="M722.8 587.7 Q730.0 569.0 735.6 549.9" stroke="#d9691a" stroke-width="0.68" opacity="0.72"/><path d="M723.6 590.1 Q726.9 574.8 732.4 560.3" stroke="#cf5c10" stroke-width="1.00" opacity="0.44"/><path d="M722.8 585.3 Q721.2 566.7 729.2 553.2" stroke="#cf5c10" stroke-width="1.17" opacity="0.58"/><path d="M713.8 584.9 Q721.1 568.6 727.0 551.8" stroke="#d86414" stroke-width="0.70" opacity="0.70"/><path d="M712.7 581.8 Q712.3 565.7 715.5 550.4" stroke="#ea8a3a" stroke-width="0.83" opacity="0.78"/><path d="M724.7 585.8 Q740.5 580.8 749.3 569.8" stroke="#e27a28" stroke-width="1.12" opacity="0.52"/><path d="M717.2 587.5 Q731.3 579.0 739.1 566.4" stroke="#ea8a3a" stroke-width="0.97" opacity="0.48"/><path d="M721.2 575.8 Q719.0 561.6 720.2 547.6" stroke="#d9691a" stroke-width="0.87" opacity="0.46"/><path d="M729.3 577.3 Q710.7 567.7 701.7 552.1" stroke="#cf5c10" stroke-width="0.78" opacity="0.41"/><path d="M717.4 571.8 Q726.6 556.9 727.4 541.3" stroke="#c4520c" stroke-width="1.05" opacity="0.44"/><path d="M721.7 580.8 Q732.8 571.0 744.8 562.6" stroke="#d86414" stroke-width="0.85" opacity="0.51"/><path d="M729.2 579.0 Q742.9 568.2 746.4 554.4" stroke="#d9691a" stroke-width="1.04" opacity="0.67"/><path d="M719.6 574.5 Q719.6 555.1 722.4 536.2" stroke="#ea8a3a" stroke-width="0.82" opacity="0.56"/><path d="M711.6 591.2 Q717.9 577.7 718.4 563.8" stroke="#d86414" stroke-width="0.94" opacity="0.67"/><path d="M716.4 590.1 Q731.5 581.9 747.6 576.7" stroke="#d9691a" stroke-width="0.53" opacity="0.51"/><path d="M728.7 576.7 Q726.5 558.0 730.1 540.3" stroke="#c4520c" stroke-width="1.04" opacity="0.60"/><path d="M712.0 583.9 Q714.7 567.9 710.7 553.5" stroke="#cf5c10" stroke-width="1.02" opacity="0.70"/><path d="M714.0 575.7 Q728.3 564.3 739.3 550.2" stroke="#cf5c10" stroke-width="1.16" opacity="0.85"/><path d="M713.3 591.0 Q703.1 575.3 701.0 558.4" stroke="#d9691a" stroke-width="0.55" opacity="0.41"/><path d="M724.7 581.6 Q731.5 561.3 745.9 549.6" stroke="#cf5c10" stroke-width="1.09" opacity="0.75"/><path d="M719.7 579.4 Q726.0 565.4 729.1 550.7" stroke="#ea8a3a" stroke-width="0.51" opacity="0.42"/><path d="M718.5 576.0 Q735.1 562.4 739.1 545.2" stroke="#d9691a" stroke-width="0.57" opacity="0.42"/><path d="M729.2 588.3 Q727.2 570.4 723.1 553.0" stroke="#ea8a3a" stroke-width="0.72" opacity="0.83"/><path d="M718.0 590.7 Q731.8 580.0 745.5 569.4" stroke="#ea8a3a" stroke-width="0.76" opacity="0.62"/><path d="M725.9 583.5 Q724.3 563.6 732.1 547.8" stroke="#ea8a3a" stroke-width="0.83" opacity="0.75"/><path d="M715.9 583.6 Q725.8 567.4 737.3 552.4" stroke="#ea8a3a" stroke-width="0.69" opacity="0.81"/><path d="M721.4 579.1 Q731.3 567.6 743.6 559.7" stroke="#ea8a3a" stroke-width="0.93" opacity="0.55"/><path d="M728.4 582.9 Q731.4 564.3 725.0 549.4" stroke="#ea8a3a" stroke-width="1.06" opacity="0.70"/><path d="M721.5 574.5 Q721.1 556.3 715.1 540.1" stroke="#e27a28" stroke-width="0.94" opacity="0.64"/><path d="M728.8 571.8 Q740.5 557.7 755.0 547.3" stroke="#d86414" stroke-width="0.54" opacity="0.76"/><path d="M714.6 579.2 Q729.0 565.9 746.1 559.4" stroke="#d86414" stroke-width="1.00" opacity="0.84"/><path d="M722.1 574.4 Q738.6 563.7 748.3 548.5" stroke="#d9691a" stroke-width="0.67" opacity="0.63"/><path d="M713.3 582.7 Q723.4 565.9 726.2 547.7" stroke="#e27a28" stroke-width="0.51" opacity="0.52"/><path d="M728.6 574.8 Q745.0 568.0 755.4 555.7" stroke="#c4520c" stroke-width="1.08" opacity="0.71"/><path d="M770.8 590.1 Q767.7 580.5 764.1 571.0" stroke="#d9691a" stroke-width="0.91" opacity="0.45"/><path d="M773.3 574.4 Q767.9 560.4 757.9 551.1" stroke="#d9691a" stroke-width="0.65" opacity="0.82"/><path d="M780.5 588.0 Q773.7 579.6 772.5 570.3" stroke="#cf5c10" stroke-width="1.04" opacity="0.69"/><path d="M782.9 578.1 Q779.0 563.4 769.8 553.0" stroke="#cf5c10" stroke-width="0.72" opacity="0.71"/><path d="M768.7 576.6 Q761.1 566.3 752.9 556.6" stroke="#cf5c10" stroke-width="0.93" opacity="0.57"/><path d="M777.1 571.9 Q769.6 563.1 759.9 559.6" stroke="#cf5c10" stroke-width="1.04" opacity="0.74"/><path d="M778.6 580.9 Q777.9 568.9 772.7 559.2" stroke="#cf5c10" stroke-width="0.81" opacity="0.44"/><path d="M766.8 575.7 Q770.9 563.0 767.8 552.0" stroke="#d9691a" stroke-width="0.56" opacity="0.70"/><path d="M780.6 579.7 Q779.0 566.6 778.3 553.3" stroke="#d9691a" stroke-width="0.78" opacity="0.49"/><path d="M771.9 578.5 Q768.8 566.0 766.6 553.3" stroke="#e27a28" stroke-width="0.99" opacity="0.46"/><path d="M778.0 575.8 Q769.5 568.0 763.4 558.7" stroke="#e27a28" stroke-width="0.63" opacity="0.79"/><path d="M769.2 584.0 Q760.9 570.9 760.9 557.4" stroke="#d9691a" stroke-width="0.81" opacity="0.66"/><path d="M765.2 581.6 Q767.3 570.1 765.2 559.3" stroke="#cf5c10" stroke-width="0.86" opacity="0.49"/><path d="M780.8 588.2 Q779.7 577.1 773.5 570.1" stroke="#e27a28" stroke-width="0.76" opacity="0.46"/><path d="M776.4 577.7 Q765.9 567.5 755.2 557.6" stroke="#e27a28" stroke-width="0.73" opacity="0.77"/><path d="M780.6 587.0 Q772.6 579.0 763.7 572.1" stroke="#ea8a3a" stroke-width="1.18" opacity="0.46"/><path d="M771.4 591.3 Q766.3 575.7 770.6 562.7" stroke="#ea8a3a" stroke-width="1.07" opacity="0.57"/><path d="M767.4 586.6 Q758.5 575.6 750.1 564.3" stroke="#c4520c" stroke-width="1.01" opacity="0.71"/><path d="M783.0 577.7 Q773.3 567.8 768.9 555.7" stroke="#e27a28" stroke-width="0.90" opacity="0.80"/><path d="M775.8 578.8 Q762.5 569.6 756.6 556.6" stroke="#d9691a" stroke-width="0.72" opacity="0.45"/><path d="M776.4 582.9 Q773.5 568.4 768.0 554.8" stroke="#cf5c10" stroke-width="1.16" opacity="0.67"/><path d="M771.7 576.5 Q759.2 573.1 748.4 566.8" stroke="#c4520c" stroke-width="1.01" opacity="0.42"/><path d="M779.4 572.7 Q767.3 566.6 757.6 557.7" stroke="#d9691a" stroke-width="1.12" opacity="0.51"/><path d="M772.0 582.3 Q767.8 569.1 763.0 556.1" stroke="#d9691a" stroke-width="1.01" opacity="0.48"/><path d="M773.7 586.5 Q768.9 576.9 766.2 566.8" stroke="#cf5c10" stroke-width="0.89" opacity="0.69"/><path d="M764.0 581.3 Q756.2 571.5 755.8 561.0" stroke="#d86414" stroke-width="0.78" opacity="0.73"/><path d="M772.5 574.7 Q763.3 567.6 752.7 564.5" stroke="#d86414" stroke-width="1.13" opacity="0.74"/><path d="M777.5 587.8 Q785.8 580.7 790.7 571.6" stroke="#d9691a" stroke-width="0.63" opacity="0.84"/><path d="M765.2 578.2 Q754.3 569.8 747.7 558.7" stroke="#e27a28" stroke-width="0.51" opacity="0.60"/><path d="M778.8 585.9 Q766.0 578.7 756.1 568.5" stroke="#cf5c10" stroke-width="0.90" opacity="0.50"/><path d="M740.4 675.9 C747.2 668.3 752.7 663.2 760.9 659.5 C769.1 655.7 781.0 654.7 789.6 653.3 C798.1 651.9 808.4 642.7 812.1 651.3 C815.9 659.8 819.3 691.9 812.1 704.6 C805.0 717.2 784.5 723.4 769.1 727.1 C753.7 730.9 728.1 730.9 719.8 727.1 C711.6 723.4 716.4 713.1 719.8 704.6 C723.3 696.0 733.5 683.4 740.4 675.9 Z" fill="#ffffff" stroke="none" opacity="0.95" filter="url(#b2)"/><path d="M787.9 635.0 Q785.2 647.1 783.8 659.4" stroke="#d9691a" stroke-width="0.69" opacity="0.56"/><path d="M746.9 647.7 Q737.8 656.1 736.0 666.2" stroke="#f4b87c" stroke-width="0.79" opacity="0.35"/><path d="M762.2 649.0 Q766.7 661.0 766.1 672.8" stroke="#f4b87c" stroke-width="0.70" opacity="0.58"/><path d="M790.2 636.6 Q793.4 642.6 793.6 648.8" stroke="#ea8a3a" stroke-width="0.46" opacity="0.59"/><path d="M794.0 638.2 Q791.8 651.3 793.3 664.0" stroke="#d86414" stroke-width="0.53" opacity="0.68"/><path d="M726.5 682.4 Q728.9 691.0 726.3 698.0" stroke="#ea8a3a" stroke-width="0.54" opacity="0.48"/><path d="M726.0 681.2 Q726.1 692.9 726.2 704.6" stroke="#d86414" stroke-width="0.66" opacity="0.60"/><path d="M740.9 657.1 Q737.4 672.0 728.3 682.0" stroke="#ea8a3a" stroke-width="0.70" opacity="0.29"/><path d="M728.2 671.4 Q728.6 686.2 732.4 700.2" stroke="#c4520c" stroke-width="0.73" opacity="0.35"/><path d="M756.7 645.8 Q757.3 653.3 758.0 660.8" stroke="#e27a28" stroke-width="0.88" opacity="0.53"/><path d="M757.0 649.0 Q759.7 656.2 759.3 663.2" stroke="#d86414" stroke-width="0.41" opacity="0.47"/><path d="M759.9 648.4 Q763.2 665.6 760.0 681.6" stroke="#cf5c10" stroke-width="0.57" opacity="0.32"/><path d="M790.1 634.7 Q783.6 642.5 781.1 651.5" stroke="#f4b87c" stroke-width="0.64" opacity="0.62"/><path d="M779.9 639.1 Q782.6 647.5 784.3 656.0" stroke="#cf5c10" stroke-width="0.88" opacity="0.29"/><path d="M742.8 652.5 Q743.8 659.5 741.1 664.7" stroke="#ea8a3a" stroke-width="0.66" opacity="0.37"/><path d="M763.1 647.2 Q761.9 653.8 758.8 659.5" stroke="#f4b87c" stroke-width="0.61" opacity="0.68"/><path d="M808.2 632.7 Q804.1 650.7 805.1 668.4" stroke="#f4b87c" stroke-width="0.79" opacity="0.33"/><path d="M737.2 660.0 Q734.0 673.6 725.5 682.6" stroke="#d86414" stroke-width="0.68" opacity="0.65"/><path d="M756.9 645.2 Q755.4 653.4 750.3 658.2" stroke="#f4b87c" stroke-width="0.64" opacity="0.65"/><path d="M742.0 652.6 Q737.1 661.0 733.5 669.8" stroke="#f4b87c" stroke-width="0.48" opacity="0.40"/><path d="M735.3 662.0 Q728.8 666.8 725.0 673.3" stroke="#e27a28" stroke-width="0.86" opacity="0.54"/><path d="M744.4 650.5 Q742.7 664.1 739.5 677.4" stroke="#f0a868" stroke-width="0.52" opacity="0.48"/><path d="M756.3 648.4 Q760.4 656.0 760.7 663.9" stroke="#cf5c10" stroke-width="0.58" opacity="0.36"/><path d="M806.3 629.2 Q798.8 634.9 795.7 642.5" stroke="#c4520c" stroke-width="0.62" opacity="0.62"/><path d="M731.4 665.8 Q726.9 672.8 726.0 680.4" stroke="#f4b87c" stroke-width="0.86" opacity="0.69"/><path d="M767.1 646.9 Q758.8 654.1 754.0 663.3" stroke="#e27a28" stroke-width="0.45" opacity="0.51"/><path d="M767.1 645.3 Q760.9 655.8 753.9 665.7" stroke="#e27a28" stroke-width="0.76" opacity="0.48"/><path d="M725.5 677.8 Q731.7 688.5 732.5 699.7" stroke="#d86414" stroke-width="0.82" opacity="0.45"/><path d="M777.9 642.7 Q772.2 651.0 766.0 658.7" stroke="#e27a28" stroke-width="0.55" opacity="0.57"/><path d="M788.7 634.0 Q779.2 642.3 774.6 652.9" stroke="#ea8a3a" stroke-width="0.60" opacity="0.46"/><path d="M769.5 641.2 Q764.2 652.1 757.1 661.8" stroke="#ea8a3a" stroke-width="0.81" opacity="0.31"/><path d="M728.5 669.6 Q718.0 677.3 714.9 687.6" stroke="#ea8a3a" stroke-width="0.40" opacity="0.57"/><path d="M765.2 646.9 Q766.9 654.2 766.4 661.4" stroke="#d86414" stroke-width="0.74" opacity="0.56"/><path d="M802.1 631.7 Q795.1 643.6 794.8 656.0" stroke="#cf5c10" stroke-width="0.81" opacity="0.51"/><path d="M765.5 646.6 Q763.0 663.9 753.3 676.0" stroke="#d86414" stroke-width="0.79" opacity="0.50"/><path d="M742.3 652.8 Q737.3 667.4 728.4 679.1" stroke="#cf5c10" stroke-width="0.52" opacity="0.60"/><path d="M800.9 635.7 Q798.2 648.3 795.7 661.0" stroke="#ea8a3a" stroke-width="0.49" opacity="0.64"/><path d="M797.9 637.1 Q792.6 647.8 793.5 658.2" stroke="#f4b87c" stroke-width="0.48" opacity="0.42"/><path d="M800.7 633.4 Q795.3 636.6 793.2 641.4" stroke="#e27a28" stroke-width="0.80" opacity="0.43"/><path d="M793.5 632.5 Q794.1 638.6 793.7 644.7" stroke="#d86414" stroke-width="0.68" opacity="0.43"/><path d="M736.3 665.6 Q731.9 681.7 729.2 698.2" stroke="#cf5c10" stroke-width="0.68" opacity="0.52"/><path d="M793.4 636.8 Q792.3 641.6 790.7 646.3" stroke="#ea8a3a" stroke-width="0.56" opacity="0.32"/><path d="M739.2 657.0 Q739.6 666.3 737.6 675.0" stroke="#cf5c10" stroke-width="0.77" opacity="0.65"/><path d="M774.0 639.5 Q774.2 655.9 769.4 670.9" stroke="#cf5c10" stroke-width="0.80" opacity="0.39"/><path d="M800.3 636.1 Q796.2 640.9 792.6 646.1" stroke="#cf5c10" stroke-width="0.47" opacity="0.36"/><path d="M742.6 648.9 Q747.1 662.5 746.1 675.9" stroke="#c4520c" stroke-width="0.78" opacity="0.67"/><path d="M772.3 639.9 Q781.3 654.3 779.8 668.2" stroke="#c4520c" stroke-width="0.74" opacity="0.39"/><path d="M740.8 656.8 Q736.8 667.0 733.8 677.4" stroke="#d86414" stroke-width="0.88" opacity="0.25"/><path d="M730.9 669.7 Q718.6 682.7 717.2 697.4" stroke="#f4b87c" stroke-width="0.42" opacity="0.31"/><path d="M800.1 634.0 Q796.1 641.8 796.0 649.8" stroke="#f4b87c" stroke-width="0.69" opacity="0.49"/><path d="M754.8 646.6 Q746.9 659.4 739.9 672.5" stroke="#c4520c" stroke-width="0.88" opacity="0.35"/><path d="M786.9 640.1 Q785.9 646.4 785.5 652.8" stroke="#ea8a3a" stroke-width="0.78" opacity="0.51"/><path d="M746.3 652.5 Q744.5 669.3 742.9 686.2" stroke="#d9691a" stroke-width="0.83" opacity="0.62"/><path d="M759.2 646.6 Q762.0 662.4 761.4 678.1" stroke="#d86414" stroke-width="0.59" opacity="0.59"/><path d="M726.3 674.2 Q719.4 688.4 719.9 702.5" stroke="#f4b87c" stroke-width="0.67" opacity="0.58"/><path d="M725.0 677.9 Q730.9 688.4 732.7 699.5" stroke="#d9691a" stroke-width="0.44" opacity="0.49"/><path d="M743.5 653.6 Q748.1 664.5 750.3 675.9" stroke="#d9691a" stroke-width="0.87" opacity="0.36"/><path d="M771.6 642.0 Q780.6 654.4 781.2 667.5" stroke="#ea8a3a" stroke-width="0.57" opacity="0.31"/><path d="M800.9 629.3 Q794.7 639.8 788.8 650.4" stroke="#f4b87c" stroke-width="0.73" opacity="0.63"/><path d="M767.2 643.0 Q764.5 651.5 762.8 660.3" stroke="#e27a28" stroke-width="0.80" opacity="0.62"/><path d="M774.9 640.9 Q770.5 649.8 765.3 658.2" stroke="#e27a28" stroke-width="0.76" opacity="0.69"/><path d="M805.0 629.7 Q804.4 635.4 803.4 641.0" stroke="#cf5c10" stroke-width="0.72" opacity="0.35"/><path d="M787.1 639.4 Q790.9 647.3 790.8 655.3" stroke="#f0a868" stroke-width="0.80" opacity="0.33"/><path d="M799.2 633.3 Q797.7 645.8 794.1 657.5" stroke="#e27a28" stroke-width="0.44" opacity="0.55"/><path d="M767.4 638.8 Q765.1 647.0 764.1 655.4" stroke="#e27a28" stroke-width="0.56" opacity="0.35"/><path d="M746.5 648.5 Q749.7 663.4 751.6 678.6" stroke="#e27a28" stroke-width="0.50" opacity="0.41"/><path d="M725.3 683.0 Q731.6 695.4 730.3 707.3" stroke="#d9691a" stroke-width="0.66" opacity="0.33"/><path d="M724.6 676.5 Q726.1 688.9 730.2 700.6" stroke="#c4520c" stroke-width="0.67" opacity="0.37"/><path d="M737.1 664.4 Q734.1 671.5 734.3 678.5" stroke="#cf5c10" stroke-width="0.41" opacity="0.68"/><path d="M724.6 677.1 Q719.9 686.8 717.0 697.0" stroke="#f4b87c" stroke-width="0.47" opacity="0.27"/><path d="M733.4 663.1 Q732.6 672.2 730.0 680.8" stroke="#cf5c10" stroke-width="0.79" opacity="0.28"/><path d="M764.7 642.5 Q765.2 660.3 757.3 673.6" stroke="#cf5c10" stroke-width="0.53" opacity="0.43"/><path d="M731.7 669.7 Q727.6 685.7 724.0 701.7" stroke="#e27a28" stroke-width="0.89" opacity="0.60"/><path d="M728.1 670.7 Q723.0 683.2 726.0 693.9" stroke="#d9691a" stroke-width="0.57" opacity="0.55"/><path d="M758.2 642.6 Q752.8 653.2 754.2 663.3" stroke="#c4520c" stroke-width="0.55" opacity="0.63"/><path d="M739.3 656.2 Q742.6 665.9 740.9 674.8" stroke="#d9691a" stroke-width="0.83" opacity="0.29"/><path d="M742.6 657.3 Q745.0 664.4 745.7 671.7" stroke="#d86414" stroke-width="0.72" opacity="0.67"/><path d="M792.2 636.6 Q788.8 642.1 788.9 647.7" stroke="#d86414" stroke-width="0.72" opacity="0.58"/><path d="M753.8 643.6 Q756.7 661.3 760.6 678.7" stroke="#d86414" stroke-width="0.59" opacity="0.34"/><path d="M807.5 634.5 Q814.1 642.0 814.7 650.3" stroke="#ea8a3a" stroke-width="0.77" opacity="0.47"/><path d="M807.0 635.1 Q799.7 644.7 793.3 654.8" stroke="#cf5c10" stroke-width="0.40" opacity="0.33"/><path d="M754.9 648.0 Q747.7 660.0 741.9 672.7" stroke="#ea8a3a" stroke-width="0.44" opacity="0.60"/><path d="M793.0 635.5 Q791.9 649.0 792.2 662.6" stroke="#f0a868" stroke-width="0.52" opacity="0.42"/><path d="M799.1 631.9 Q800.7 638.1 802.5 644.3" stroke="#c4520c" stroke-width="0.65" opacity="0.68"/><path d="M789.8 636.9 Q783.6 647.8 784.2 658.5" stroke="#d9691a" stroke-width="0.41" opacity="0.29"/><path d="M752.2 645.9 Q757.7 656.7 760.5 668.3" stroke="#f0a868" stroke-width="0.68" opacity="0.50"/><path d="M723.2 680.0 Q727.9 694.9 726.2 709.4" stroke="#e27a28" stroke-width="0.68" opacity="0.45"/><path d="M786.2 634.4 Q785.0 647.6 787.8 659.9" stroke="#f0a868" stroke-width="0.80" opacity="0.37"/><path d="M744.4 651.9 Q743.2 663.0 737.4 670.8" stroke="#f4b87c" stroke-width="0.44" opacity="0.65"/><path d="M765.3 640.2 Q762.7 647.8 761.6 655.6" stroke="#cf5c10" stroke-width="0.89" opacity="0.38"/><path d="M773.4 642.4 Q771.0 651.1 767.4 659.4" stroke="#f0a868" stroke-width="0.47" opacity="0.50"/><path d="M749.7 647.2 Q749.4 661.0 753.1 673.6" stroke="#e27a28" stroke-width="0.67" opacity="0.51"/><path d="M801.4 632.5 Q805.1 644.0 804.1 655.2" stroke="#ea8a3a" stroke-width="0.49" opacity="0.58"/><path d="M753.9 643.0 Q752.3 661.0 745.1 676.5" stroke="#cf5c10" stroke-width="0.46" opacity="0.65"/><path d="M773.5 638.0 Q777.6 650.8 775.7 662.8" stroke="#c4520c" stroke-width="0.69" opacity="0.64"/><path d="M795.0 635.1 Q793.9 641.2 793.0 647.3" stroke="#ea8a3a" stroke-width="0.83" opacity="0.68"/><path d="M749.3 650.7 Q745.9 657.4 742.3 663.9" stroke="#e27a28" stroke-width="0.50" opacity="0.60"/><path d="M774.7 642.1 Q772.8 647.9 769.2 652.4" stroke="#e27a28" stroke-width="0.53" opacity="0.58"/><path d="M729.7 675.4 Q722.1 686.5 719.6 698.8" stroke="#e27a28" stroke-width="0.48" opacity="0.68"/><path d="M769.7 640.4 Q767.8 645.5 767.6 650.8" stroke="#cf5c10" stroke-width="0.51" opacity="0.27"/><path d="M800.1 637.3 Q806.4 649.5 805.4 661.4" stroke="#f4b87c" stroke-width="0.82" opacity="0.29"/><path d="M776.7 643.7 Q779.2 652.5 776.7 659.8" stroke="#d86414" stroke-width="0.83" opacity="0.31"/><path d="M736.0 659.2 Q732.5 672.7 731.4 686.3" stroke="#d9691a" stroke-width="0.88" opacity="0.28"/><path d="M791.5 633.6 Q785.8 646.6 788.5 658.0" stroke="#d9691a" stroke-width="0.49" opacity="0.34"/><path d="M766.5 644.0 Q769.1 651.1 770.5 658.4" stroke="#f0a868" stroke-width="0.58" opacity="0.68"/><path d="M750.4 649.2 Q739.3 660.1 737.6 672.8" stroke="#f0a868" stroke-width="0.49" opacity="0.51"/><path d="M777.8 640.1 Q775.2 645.9 773.7 651.9" stroke="#ea8a3a" stroke-width="0.46" opacity="0.31"/><path d="M805.0 629.6 Q807.1 642.1 805.6 654.2" stroke="#d86414" stroke-width="0.52" opacity="0.28"/><path d="M745.9 653.1 Q736.1 663.4 731.5 675.9" stroke="#f4b87c" stroke-width="0.69" opacity="0.30"/><path d="M788.7 637.8 Q784.2 651.0 787.1 662.7" stroke="#f4b87c" stroke-width="0.41" opacity="0.41"/><path d="M804.2 636.9 Q801.9 644.7 798.2 651.7" stroke="#c4520c" stroke-width="0.78" opacity="0.29"/><path d="M804.3 631.6 Q794.1 640.0 789.3 650.9" stroke="#e27a28" stroke-width="0.42" opacity="0.31"/><path d="M730.4 671.2 Q730.1 684.8 729.0 698.3" stroke="#f0a868" stroke-width="0.57" opacity="0.31"/><path d="M733.1 667.0 Q732.6 674.2 735.3 679.9" stroke="#cf5c10" stroke-width="0.70" opacity="0.40"/><path d="M738.4 654.2 Q728.3 660.5 721.9 669.5" stroke="#f0a868" stroke-width="0.87" opacity="0.47"/><path d="M801.3 632.1 Q808.2 646.7 811.2 662.1" stroke="#ea8a3a" stroke-width="0.75" opacity="0.46"/><path d="M781.0 638.3 Q773.0 644.1 770.5 651.9" stroke="#ea8a3a" stroke-width="0.84" opacity="0.54"/><path d="M799.2 638.2 Q800.9 652.6 801.1 667.0" stroke="#c4520c" stroke-width="0.66" opacity="0.33"/><path d="M742.7 656.9 Q743.3 672.4 745.2 687.7" stroke="#d9691a" stroke-width="0.74" opacity="0.42"/><path d="M783.3 637.1 Q789.8 645.1 791.2 654.1" stroke="#e27a28" stroke-width="0.70" opacity="0.58"/><path d="M782.4 634.2 Q773.6 645.2 771.6 657.4" stroke="#ea8a3a" stroke-width="0.64" opacity="0.50"/><path d="M731.3 672.8 Q735.8 685.5 735.2 698.0" stroke="#d9691a" stroke-width="0.57" opacity="0.67"/><path d="M730.0 669.3 Q726.7 678.0 726.7 686.8" stroke="#d86414" stroke-width="0.88" opacity="0.63"/><path d="M732.6 666.1 Q724.9 672.8 723.3 681.1" stroke="#ea8a3a" stroke-width="0.70" opacity="0.49"/><path d="M731.2 664.6 Q727.9 670.7 728.2 676.7" stroke="#d86414" stroke-width="0.65" opacity="0.70"/><path d="M806.8 631.7 Q805.0 641.4 807.7 649.7" stroke="#d86414" stroke-width="0.81" opacity="0.61"/><path d="M726.5 674.7 Q725.6 689.9 721.1 704.1" stroke="#c4520c" stroke-width="0.55" opacity="0.70"/><path d="M802.3 636.8 Q799.9 645.0 801.4 652.4" stroke="#c4520c" stroke-width="0.72" opacity="0.45"/><path d="M762.9 641.4 Q764.4 650.6 765.0 659.9" stroke="#d9691a" stroke-width="0.60" opacity="0.66"/><path d="M732.7 665.1 Q725.9 676.1 718.6 686.7" stroke="#f0a868" stroke-width="0.56" opacity="0.61"/><path d="M732.7 670.4 Q725.9 680.1 724.2 690.9" stroke="#e27a28" stroke-width="0.86" opacity="0.39"/><path d="M765.5 645.8 Q768.1 654.9 767.9 663.9" stroke="#f4b87c" stroke-width="0.69" opacity="0.41"/><path d="M748.4 645.2 Q751.2 654.3 750.5 663.3" stroke="#c4520c" stroke-width="0.80" opacity="0.63"/><path d="M761.7 642.9 Q753.1 651.1 749.8 661.2" stroke="#f4b87c" stroke-width="0.77" opacity="0.63"/><path d="M760.9 642.3 Q758.0 650.6 760.2 657.5" stroke="#d9691a" stroke-width="0.50" opacity="0.31"/><path d="M744.1 654.2 Q742.5 674.5 731.4 687.3" stroke="#e27a28" stroke-width="0.50" opacity="0.42"/><path d="M780.1 640.0 Q781.6 647.0 782.3 654.0" stroke="#ea8a3a" stroke-width="0.81" opacity="0.54"/><path d="M803.3 636.1 Q796.3 642.0 794.1 649.6" stroke="#c4520c" stroke-width="0.59" opacity="0.48"/><path d="M789.9 638.6 Q793.9 644.8 796.2 651.7" stroke="#f0a868" stroke-width="0.75" opacity="0.27"/><path d="M742.0 654.4 Q736.3 668.9 736.5 683.6" stroke="#f0a868" stroke-width="0.87" opacity="0.27"/><path d="M745.1 651.3 Q737.8 665.0 739.6 677.9" stroke="#cf5c10" stroke-width="0.90" opacity="0.55"/><path d="M755.6 650.3 Q749.4 660.8 742.8 671.1" stroke="#c4520c" stroke-width="0.46" opacity="0.61"/><path d="M749.8 647.5 Q752.8 655.4 755.3 663.5" stroke="#d9691a" stroke-width="0.60" opacity="0.65"/><path d="M735.6 663.0 Q734.2 672.9 730.6 682.0" stroke="#d9691a" stroke-width="0.74" opacity="0.63"/><path d="M735.2 661.3 Q735.7 677.1 735.4 692.9" stroke="#cf5c10" stroke-width="0.67" opacity="0.31"/><path d="M805.5 633.2 Q814.2 641.6 815.9 651.5" stroke="#d86414" stroke-width="0.87" opacity="0.48"/><path d="M755.3 646.5 Q754.6 661.6 750.8 675.9" stroke="#cf5c10" stroke-width="0.71" opacity="0.49"/><path d="M738.5 656.1 Q735.5 664.9 732.1 673.5" stroke="#c4520c" stroke-width="0.57" opacity="0.48"/><path d="M740.7 657.2 Q743.9 669.7 744.5 682.3" stroke="#f4b87c" stroke-width="0.79" opacity="0.35"/><path d="M773.5 638.5 Q768.5 647.0 769.0 655.4" stroke="#cf5c10" stroke-width="0.66" opacity="0.27"/><path d="M782.4 637.1 Q782.4 644.9 782.5 652.7" stroke="#cf5c10" stroke-width="0.80" opacity="0.45"/><path d="M753.5 642.3 Q751.9 656.4 754.9 669.6" stroke="#e27a28" stroke-width="0.43" opacity="0.44"/><path d="M781.3 638.4 Q776.7 647.6 771.8 656.6" stroke="#e27a28" stroke-width="0.48" opacity="0.63"/><path d="M794.1 635.2 Q782.1 646.8 779.5 660.6" stroke="#c4520c" stroke-width="0.44" opacity="0.56"/><path d="M802.1 635.9 Q808.1 648.5 807.0 660.8" stroke="#cf5c10" stroke-width="0.49" opacity="0.66"/><path d="M729.9 670.3 Q727.0 676.6 725.3 683.2" stroke="#d86414" stroke-width="0.43" opacity="0.42"/><path d="M728.8 676.9 Q724.6 687.7 727.0 697.2" stroke="#ea8a3a" stroke-width="0.47" opacity="0.39"/><path d="M738.9 662.0 Q733.0 672.7 726.7 683.2" stroke="#cf5c10" stroke-width="0.90" opacity="0.32"/><path d="M728.5 672.3 Q730.6 680.5 729.9 688.6" stroke="#d9691a" stroke-width="0.89" opacity="0.58"/><path d="M734.0 664.0 Q728.0 673.9 721.2 683.4" stroke="#e27a28" stroke-width="0.81" opacity="0.65"/><path d="M779.5 638.0 Q771.9 648.5 763.7 658.6" stroke="#d86414" stroke-width="0.69" opacity="0.58"/><path d="M743.7 653.9 Q737.5 662.0 735.9 671.2" stroke="#ea8a3a" stroke-width="0.74" opacity="0.48"/><path d="M750.5 644.9 Q748.5 655.5 751.1 665.0" stroke="#d9691a" stroke-width="0.55" opacity="0.52"/><path d="M768.2 647.4 Q768.3 657.8 766.2 667.7" stroke="#d9691a" stroke-width="0.46" opacity="0.25"/><path d="M783.4 640.4 Q779.1 646.2 775.0 652.1" stroke="#cf5c10" stroke-width="0.76" opacity="0.27"/><path d="M800.8 635.7 Q800.0 645.7 795.5 653.5" stroke="#cf5c10" stroke-width="0.52" opacity="0.46"/><path d="M807.3 636.4 Q805.6 644.0 804.3 651.8" stroke="#d9691a" stroke-width="0.71" opacity="0.42"/><path d="M725.1 681.9 Q717.3 687.3 713.8 694.8" stroke="#cf5c10" stroke-width="0.49" opacity="0.70"/><path d="M741.4 655.2 Q739.1 662.5 736.6 669.7" stroke="#ea8a3a" stroke-width="0.69" opacity="0.68"/><path d="M776.2 643.9 Q770.2 654.8 766.5 666.4" stroke="#d9691a" stroke-width="0.86" opacity="0.31"/><path d="M772.6 638.3 Q771.9 652.9 764.0 662.1" stroke="#ea8a3a" stroke-width="0.82" opacity="0.50"/><path d="M739.0 657.1 Q730.9 668.5 730.0 680.7" stroke="#d9691a" stroke-width="0.70" opacity="0.47"/><path d="M785.1 636.2 Q784.9 645.7 787.3 654.5" stroke="#cf5c10" stroke-width="0.61" opacity="0.61"/><path d="M739.1 660.7 Q735.0 671.9 733.4 683.4" stroke="#e27a28" stroke-width="0.43" opacity="0.65"/><path d="M737.6 659.5 Q740.6 670.3 737.2 678.8" stroke="#e27a28" stroke-width="0.50" opacity="0.48"/><path d="M751.0 646.4 Q746.9 658.0 747.6 669.5" stroke="#f0a868" stroke-width="0.46" opacity="0.37"/><path d="M778.3 641.7 Q778.8 650.5 775.5 657.9" stroke="#ea8a3a" stroke-width="0.88" opacity="0.42"/><path d="M731.3 666.9 Q731.6 675.0 731.4 683.2" stroke="#f0a868" stroke-width="0.85" opacity="0.66"/><path d="M738.3 661.1 Q736.9 666.0 736.6 671.1" stroke="#f0a868" stroke-width="0.51" opacity="0.39"/><path d="M807.9 635.6 Q805.5 644.3 800.7 651.2" stroke="#f0a868" stroke-width="0.47" opacity="0.68"/><path d="M745.5 649.9 Q745.2 658.3 749.1 664.0" stroke="#e27a28" stroke-width="0.49" opacity="0.36"/><path d="M805.2 633.5 Q807.3 640.0 807.3 646.5" stroke="#cf5c10" stroke-width="0.48" opacity="0.31"/><path d="M770.1 639.2 Q771.3 652.2 776.3 663.7" stroke="#c4520c" stroke-width="0.59" opacity="0.56"/><path d="M736.3 660.8 Q741.1 667.8 742.0 675.3" stroke="#d9691a" stroke-width="0.50" opacity="0.27"/><path d="M746.4 649.5 Q746.4 663.9 749.3 677.7" stroke="#f4b87c" stroke-width="0.78" opacity="0.47"/><path d="M804.4 632.5 Q801.5 641.1 801.7 649.7" stroke="#f4b87c" stroke-width="0.51" opacity="0.48"/><path d="M800.1 635.3 Q800.2 652.5 807.5 666.3" stroke="#d9691a" stroke-width="0.69" opacity="0.43"/><path d="M730.0 670.6 Q723.2 681.3 717.7 692.7" stroke="#e27a28" stroke-width="0.49" opacity="0.29"/><path d="M742.9 652.2 Q738.8 660.5 738.2 669.2" stroke="#d9691a" stroke-width="0.88" opacity="0.39"/><path d="M730.7 674.2 Q724.5 679.8 722.5 686.7" stroke="#d86414" stroke-width="0.66" opacity="0.61"/><path d="M687.6 654.5 Q679.3 682.2 663.8 705.2" stroke="#f0a868" stroke-width="0.80" opacity="0.68"/><path d="M689.2 631.6 Q678.2 656.4 660.5 675.0" stroke="#e27a28" stroke-width="0.58" opacity="0.50"/><path d="M681.8 647.3 Q679.2 673.7 674.2 699.6" stroke="#cf5c10" stroke-width="0.91" opacity="0.71"/><path d="M698.2 645.5 Q697.3 684.7 682.4 718.1" stroke="#d9691a" stroke-width="1.04" opacity="0.41"/><path d="M696.1 645.6 Q694.8 686.0 684.5 724.1" stroke="#f0a868" stroke-width="0.71" opacity="0.63"/><path d="M688.6 650.9 Q687.0 678.8 676.6 703.1" stroke="#cf5c10" stroke-width="0.78" opacity="0.60"/><path d="M688.3 648.1 Q682.5 685.0 667.2 717.6" stroke="#c4520c" stroke-width="0.51" opacity="0.45"/><path d="M687.6 648.8 Q696.6 677.9 692.6 705.4" stroke="#cf5c10" stroke-width="0.57" opacity="0.53"/><path d="M693.7 651.3 Q680.7 677.0 659.9 693.3" stroke="#c4520c" stroke-width="1.05" opacity="0.67"/><path d="M682.7 633.1 Q673.0 668.6 664.1 704.4" stroke="#f0a868" stroke-width="0.63" opacity="0.63"/><path d="M702.2 647.2 Q685.3 680.7 666.5 713.1" stroke="#f0a868" stroke-width="1.16" opacity="0.66"/><path d="M692.8 649.8 Q673.2 673.7 665.0 701.4" stroke="#f4b87c" stroke-width="0.75" opacity="0.79"/><path d="M696.2 641.8 Q702.6 680.7 699.4 718.9" stroke="#ea8a3a" stroke-width="0.64" opacity="0.78"/><path d="M702.0 637.3 Q688.7 666.6 682.4 697.5" stroke="#e27a28" stroke-width="1.19" opacity="0.85"/><path d="M691.8 644.6 Q696.9 684.8 690.7 723.3" stroke="#f4b87c" stroke-width="0.73" opacity="0.73"/><path d="M687.3 631.9 Q671.6 660.5 649.6 683.1" stroke="#f4b87c" stroke-width="0.97" opacity="0.40"/><path d="M699.6 639.7 Q668.4 660.0 645.6 687.4" stroke="#ea8a3a" stroke-width="0.66" opacity="0.46"/><path d="M701.3 631.4 Q688.3 664.3 682.4 698.6" stroke="#cf5c10" stroke-width="0.84" opacity="0.56"/><path d="M687.2 654.9 Q673.5 685.6 655.5 713.6" stroke="#e27a28" stroke-width="1.07" opacity="0.75"/><path d="M691.1 651.3 Q687.7 685.5 673.4 714.6" stroke="#c4520c" stroke-width="1.07" opacity="0.69"/><path d="M697.1 644.4 Q688.5 679.7 668.3 706.8" stroke="#d86414" stroke-width="0.86" opacity="0.43"/><path d="M680.2 635.7 Q660.8 668.7 640.7 701.2" stroke="#e27a28" stroke-width="0.60" opacity="0.48"/><path d="M679.6 636.8 Q668.9 674.8 651.9 709.7" stroke="#d86414" stroke-width="0.57" opacity="0.69"/><path d="M702.5 650.4 Q707.2 691.0 695.8 726.9" stroke="#f4b87c" stroke-width="0.79" opacity="0.44"/><path d="M693.1 633.3 Q696.0 672.7 685.9 708.7" stroke="#f4b87c" stroke-width="0.52" opacity="0.43"/><path d="M695.8 654.5 Q686.5 685.8 671.6 714.4" stroke="#f4b87c" stroke-width="0.92" opacity="0.61"/><path d="M695.2 653.8 Q692.9 686.1 678.8 712.4" stroke="#f4b87c" stroke-width="0.57" opacity="0.66"/><path d="M679.7 632.5 Q680.4 661.5 674.4 689.2" stroke="#c4520c" stroke-width="0.91" opacity="0.65"/><path d="M681.6 653.2 Q670.2 683.6 649.2 705.4" stroke="#d9691a" stroke-width="0.96" opacity="0.82"/><path d="M697.0 645.4 Q693.0 680.5 680.3 712.3" stroke="#cf5c10" stroke-width="0.90" opacity="0.49"/><path d="M690.0 639.2 Q683.2 666.1 672.9 691.7" stroke="#f0a868" stroke-width="0.68" opacity="0.71"/><path d="M687.2 632.5 Q678.6 660.6 667.0 687.4" stroke="#c4520c" stroke-width="0.64" opacity="0.44"/><path d="M680.6 648.0 Q665.4 676.9 654.4 707.4" stroke="#e27a28" stroke-width="0.84" opacity="0.42"/><path d="M694.8 646.8 Q686.1 687.1 665.9 720.8" stroke="#ea8a3a" stroke-width="0.57" opacity="0.73"/><path d="M700.4 641.8 Q707.6 669.3 705.4 696.2" stroke="#d9691a" stroke-width="0.67" opacity="0.49"/><path d="M702.4 642.4 Q695.8 670.0 688.8 697.5" stroke="#f4b87c" stroke-width="1.17" opacity="0.79"/><path d="M692.1 651.2 Q669.9 676.1 651.4 703.5" stroke="#e27a28" stroke-width="0.98" opacity="0.81"/><path d="M698.9 638.7 Q677.6 658.7 666.5 683.5" stroke="#f0a868" stroke-width="0.54" opacity="0.46"/><path d="M679.9 651.7 Q667.9 685.9 658.3 720.7" stroke="#d86414" stroke-width="0.77" opacity="0.69"/><path d="M688.0 643.7 Q678.2 681.1 667.8 718.3" stroke="#ea8a3a" stroke-width="1.03" opacity="0.55"/><path d="M684.7 633.3 Q685.8 665.3 676.9 694.4" stroke="#d9691a" stroke-width="0.69" opacity="0.67"/><path d="M686.1 636.0 Q665.8 669.4 658.8 705.7" stroke="#d86414" stroke-width="0.52" opacity="0.47"/><path d="M690.8 637.5 Q682.3 664.7 675.4 692.3" stroke="#d86414" stroke-width="0.86" opacity="0.73"/><path d="M681.1 646.8 Q661.9 675.7 642.3 704.3" stroke="#ea8a3a" stroke-width="1.16" opacity="0.53"/><path d="M679.3 650.8 Q665.1 683.0 649.3 714.3" stroke="#f4b87c" stroke-width="1.01" opacity="0.85"/><path d="M690.2 636.2 Q686.1 663.7 677.8 689.8" stroke="#ea8a3a" stroke-width="0.69" opacity="0.82"/><path d="M688.1 653.8 Q663.9 681.2 654.9 713.4" stroke="#e27a28" stroke-width="0.76" opacity="0.54"/><path d="M699.3 645.1 Q682.1 673.3 665.6 701.9" stroke="#cf5c10" stroke-width="0.97" opacity="0.36"/><path d="M684.7 642.2 Q674.6 668.7 670.0 696.2" stroke="#cf5c10" stroke-width="0.79" opacity="0.67"/><path d="M693.8 652.3 Q673.7 673.4 663.0 698.7" stroke="#e27a28" stroke-width="1.14" opacity="0.43"/><path d="M696.9 638.1 Q691.7 677.7 673.7 710.7" stroke="#ea8a3a" stroke-width="1.06" opacity="0.51"/><path d="M696.7 655.0 Q684.7 678.2 675.4 702.5" stroke="#d86414" stroke-width="0.91" opacity="0.46"/><path d="M683.9 648.2 Q665.4 680.5 649.9 714.1" stroke="#f4b87c" stroke-width="0.72" opacity="0.71"/><path d="M690.4 651.6 Q684.8 691.1 675.4 729.7" stroke="#f0a868" stroke-width="1.00" opacity="0.77"/><path d="M682.5 654.2 Q665.6 688.5 656.8 724.9" stroke="#f0a868" stroke-width="0.63" opacity="0.52"/><path d="M697.8 634.8 Q692.6 666.7 676.1 691.4" stroke="#f4b87c" stroke-width="1.15" opacity="0.36"/><path d="M695.3 642.8 Q700.0 679.7 691.1 713.5" stroke="#f4b87c" stroke-width="1.03" opacity="0.43"/><path d="M686.7 644.7 Q664.4 668.1 646.7 694.5" stroke="#f4b87c" stroke-width="0.73" opacity="0.74"/><path d="M700.7 653.6 Q687.7 682.9 683.0 713.6" stroke="#f0a868" stroke-width="1.17" opacity="0.78"/><path d="M692.8 649.2 Q677.7 685.2 656.0 716.8" stroke="#cf5c10" stroke-width="1.15" opacity="0.75"/><path d="M680.2 641.8 Q664.5 669.5 652.1 698.6" stroke="#c4520c" stroke-width="1.10" opacity="0.79"/><path d="M684.4 643.0 Q665.3 673.7 646.6 704.6" stroke="#d86414" stroke-width="1.05" opacity="0.75"/><path d="M696.4 651.9 Q696.5 681.8 689.5 710.1" stroke="#d9691a" stroke-width="0.77" opacity="0.65"/><path d="M696.9 638.3 Q677.2 666.3 662.7 696.8" stroke="#d86414" stroke-width="1.09" opacity="0.77"/><path d="M684.7 638.5 Q691.3 667.1 685.6 693.4" stroke="#cf5c10" stroke-width="0.95" opacity="0.77"/><path d="M688.4 654.7 Q682.7 692.9 673.0 730.1" stroke="#c4520c" stroke-width="0.75" opacity="0.56"/><path d="M699.5 632.5 Q678.8 659.7 672.8 690.2" stroke="#ea8a3a" stroke-width="1.16" opacity="0.42"/><path d="M700.8 650.0 Q675.9 678.9 659.5 712.1" stroke="#cf5c10" stroke-width="1.10" opacity="0.67"/><path d="M679.2 639.6 Q673.3 667.7 669.4 696.0" stroke="#e27a28" stroke-width="0.53" opacity="0.38"/><path d="M693.6 654.7 Q666.0 681.3 652.4 714.0" stroke="#c4520c" stroke-width="1.02" opacity="0.54"/><path d="M693.1 647.5 Q670.0 672.1 648.1 697.8" stroke="#f0a868" stroke-width="0.51" opacity="0.83"/><path d="M688.9 652.8 Q664.0 679.2 651.1 710.9" stroke="#e27a28" stroke-width="0.51" opacity="0.66"/><path d="M682.3 651.3 Q680.8 689.3 672.6 725.9" stroke="#ea8a3a" stroke-width="0.57" opacity="0.75"/><path d="M686.7 651.8 Q668.2 676.1 654.4 703.0" stroke="#f4b87c" stroke-width="0.70" opacity="0.54"/><path d="M682.7 632.1 Q670.8 665.5 661.5 699.6" stroke="#cf5c10" stroke-width="0.59" opacity="0.37"/><path d="M680.7 653.3 Q666.5 686.1 658.5 720.4" stroke="#e27a28" stroke-width="0.78" opacity="0.71"/><path d="M680.0 653.5 Q644.2 673.3 622.2 703.7" stroke="#f4b87c" stroke-width="0.91" opacity="0.61"/><path d="M691.1 640.6 Q673.5 672.5 667.2 706.8" stroke="#ea8a3a" stroke-width="1.12" opacity="0.63"/><path d="M700.0 652.7 Q703.1 684.9 694.3 713.8" stroke="#c4520c" stroke-width="0.95" opacity="0.46"/><path d="M693.4 636.9 Q681.5 661.8 672.6 687.9" stroke="#c4520c" stroke-width="0.67" opacity="0.67"/><path d="M701.4 654.0 Q677.1 679.3 662.9 709.6" stroke="#ea8a3a" stroke-width="0.78" opacity="0.58"/><path d="M690.2 653.9 Q693.2 684.0 685.2 711.3" stroke="#f0a868" stroke-width="0.87" opacity="0.73"/><path d="M683.7 646.3 Q675.8 679.6 664.8 711.8" stroke="#f4b87c" stroke-width="1.02" opacity="0.48"/><path d="M693.5 632.2 Q678.0 659.4 674.7 688.2" stroke="#c4520c" stroke-width="0.85" opacity="0.53"/><path d="M682.0 633.4 Q657.2 661.2 638.0 692.5" stroke="#f4b87c" stroke-width="1.03" opacity="0.58"/><path d="M681.6 645.7 Q671.2 685.2 651.1 719.2" stroke="#cf5c10" stroke-width="0.82" opacity="0.76"/><path d="M691.3 644.1 Q680.8 671.8 672.6 700.2" stroke="#d9691a" stroke-width="0.66" opacity="0.44"/><path d="M681.3 634.0 Q675.5 671.1 673.3 708.4" stroke="#cf5c10" stroke-width="1.02" opacity="0.66"/><path d="M683.1 646.3 Q676.4 677.0 662.3 704.0" stroke="#d9691a" stroke-width="0.57" opacity="0.78"/><path d="M686.7 639.2 Q672.8 676.4 659.1 713.6" stroke="#ea8a3a" stroke-width="0.76" opacity="0.76"/><path d="M684.7 654.5 Q665.5 671.7 642.9 680.4" stroke="#eb9850" stroke-width="1.03" opacity="0.51"/><path d="M683.8 637.2 Q670.9 648.2 659.8 660.9" stroke="#f4b87c" stroke-width="1.08" opacity="0.84"/><path d="M668.6 655.7 Q665.7 673.9 656.2 687.9" stroke="#f4b87c" stroke-width="1.01" opacity="0.54"/><path d="M661.4 640.1 Q655.8 658.4 645.0 673.2" stroke="#e27a28" stroke-width="0.69" opacity="0.53"/><path d="M663.2 643.9 Q647.5 656.8 629.8 666.2" stroke="#e27a28" stroke-width="0.75" opacity="0.84"/><path d="M661.8 656.7 Q655.0 675.2 642.5 688.6" stroke="#e27a28" stroke-width="0.86" opacity="0.49"/><path d="M674.1 657.8 Q649.8 667.9 632.7 685.4" stroke="#f0a868" stroke-width="0.83" opacity="0.41"/><path d="M682.5 655.5 Q673.5 673.6 662.9 690.7" stroke="#e27a28" stroke-width="0.62" opacity="0.40"/><path d="M681.0 645.1 Q663.0 649.2 649.9 659.8" stroke="#f0a868" stroke-width="0.51" opacity="0.81"/><path d="M674.0 643.5 Q654.5 658.2 636.7 674.7" stroke="#d9691a" stroke-width="0.51" opacity="0.68"/><path d="M680.2 650.2 Q661.8 665.7 649.5 685.2" stroke="#e27a28" stroke-width="0.82" opacity="0.70"/><path d="M668.2 655.8 Q664.9 680.1 653.4 700.1" stroke="#f8caa0" stroke-width="0.67" opacity="0.59"/><path d="M682.1 652.5 Q676.6 670.7 672.4 689.1" stroke="#ea8a3a" stroke-width="1.03" opacity="0.72"/><path d="M661.7 640.4 Q645.9 654.6 632.5 670.6" stroke="#cf5c10" stroke-width="0.59" opacity="0.84"/><path d="M680.6 637.0 Q667.1 651.4 653.6 665.8" stroke="#cf5c10" stroke-width="1.09" opacity="0.81"/><path d="M662.6 656.8 Q653.4 677.8 637.7 692.0" stroke="#cf5c10" stroke-width="0.93" opacity="0.53"/><path d="M664.0 658.1 Q650.7 669.3 639.5 682.3" stroke="#ea8a3a" stroke-width="0.78" opacity="0.76"/><path d="M677.4 637.2 Q667.8 659.8 655.6 681.0" stroke="#e27a28" stroke-width="0.72" opacity="0.43"/><path d="M663.1 652.6 Q655.0 671.9 642.4 687.8" stroke="#cf5c10" stroke-width="0.59" opacity="0.61"/><path d="M679.0 647.6 Q667.7 661.7 655.0 674.4" stroke="#e27a28" stroke-width="0.87" opacity="0.55"/><path d="M670.0 655.8 Q650.1 668.1 631.4 682.0" stroke="#eb9850" stroke-width="0.81" opacity="0.57"/><path d="M663.2 655.4 Q655.9 669.9 648.0 684.1" stroke="#ea8a3a" stroke-width="0.74" opacity="0.60"/><path d="M668.4 654.1 Q667.1 674.6 659.5 692.5" stroke="#ea8a3a" stroke-width="0.69" opacity="0.61"/><path d="M672.8 655.5 Q649.0 661.6 632.2 676.3" stroke="#f8caa0" stroke-width="0.98" opacity="0.64"/><path d="M678.8 649.8 Q663.5 662.8 652.2 678.8" stroke="#ea8a3a" stroke-width="0.74" opacity="0.63"/><path d="M663.5 643.2 Q655.2 663.1 644.5 681.7" stroke="#d86414" stroke-width="0.97" opacity="0.70"/><path d="M664.9 643.5 Q645.4 658.2 627.8 674.9" stroke="#d9691a" stroke-width="0.72" opacity="0.64"/><path d="M682.8 658.8 Q665.7 664.8 652.5 675.6" stroke="#f0a868" stroke-width="0.69" opacity="0.73"/><path d="M679.0 652.0 Q667.2 665.0 656.2 678.7" stroke="#f8caa0" stroke-width="1.07" opacity="0.47"/><path d="M680.0 641.5 Q662.7 657.3 653.1 677.0" stroke="#d86414" stroke-width="0.90" opacity="0.78"/><path d="M676.7 641.4 Q659.5 655.3 640.6 666.0" stroke="#ea8a3a" stroke-width="0.98" opacity="0.56"/><path d="M665.9 647.7 Q651.1 667.9 631.4 681.4" stroke="#e27a28" stroke-width="0.61" opacity="0.36"/><path d="M676.1 651.3 Q658.5 662.3 643.4 676.0" stroke="#cf5c10" stroke-width="0.78" opacity="0.82"/><path d="M674.0 643.8 Q672.7 667.9 663.4 688.6" stroke="#e27a28" stroke-width="0.73" opacity="0.69"/><path d="M683.9 644.7 Q657.8 649.8 638.5 664.4" stroke="#f0a868" stroke-width="0.67" opacity="0.51"/><path d="M681.0 637.5 Q666.1 653.5 658.4 672.5" stroke="#cf5c10" stroke-width="0.86" opacity="0.55"/><path d="M671.3 652.3 Q653.4 667.5 642.4 686.8" stroke="#cf5c10" stroke-width="1.07" opacity="0.52"/><path d="M664.1 636.7 Q653.6 653.6 638.5 664.5" stroke="#d9691a" stroke-width="0.64" opacity="0.46"/><path d="M665.8 656.7 Q646.7 667.2 631.5 681.9" stroke="#f4b87c" stroke-width="0.74" opacity="0.56"/><path d="M667.5 643.7 Q652.7 660.5 637.9 677.4" stroke="#c4520c" stroke-width="0.96" opacity="0.48"/><path d="M682.6 636.3 Q667.4 646.7 656.8 660.8" stroke="#f4b87c" stroke-width="0.84" opacity="0.53"/><path d="M681.7 636.7 Q666.8 648.1 657.7 663.2" stroke="#cf5c10" stroke-width="0.98" opacity="0.83"/><path d="M678.6 654.5 Q666.6 668.2 652.6 679.4" stroke="#cf5c10" stroke-width="1.03" opacity="0.65"/><path d="M670.0 642.9 Q648.1 650.3 628.2 661.4" stroke="#f8caa0" stroke-width="0.64" opacity="0.50"/><path d="M676.4 647.3 Q666.7 667.8 656.1 687.7" stroke="#d86414" stroke-width="0.79" opacity="0.39"/><path d="M670.8 647.8 Q655.4 661.6 638.9 673.8" stroke="#f4b87c" stroke-width="1.05" opacity="0.56"/><path d="M677.9 646.9 Q662.0 656.3 645.6 664.8" stroke="#d9691a" stroke-width="1.06" opacity="0.36"/><path d="M668.1 659.1 Q649.1 667.1 634.7 680.4" stroke="#eb9850" stroke-width="1.09" opacity="0.35"/><path d="M681.6 638.7 Q672.3 652.7 664.1 667.3" stroke="#ea8a3a" stroke-width="0.81" opacity="0.72"/><path d="M671.2 645.7 Q649.0 655.9 631.7 671.7" stroke="#cf5c10" stroke-width="0.51" opacity="0.56"/><path d="M723.7 670.0 Q718.2 687.1 710.9 703.4" stroke="#d9691a" stroke-width="0.90" opacity="0.68"/><path d="M717.5 662.7 Q705.7 679.9 699.1 699.0" stroke="#d9691a" stroke-width="0.84" opacity="0.43"/><path d="M718.1 665.8 Q719.2 688.6 713.1 709.6" stroke="#d86414" stroke-width="0.59" opacity="0.72"/><path d="M722.5 660.8 Q716.1 680.4 704.4 696.2" stroke="#e27a28" stroke-width="0.74" opacity="0.65"/><path d="M722.9 671.5 Q718.0 698.0 709.9 723.5" stroke="#c4520c" stroke-width="0.85" opacity="0.64"/><path d="M722.6 666.1 Q712.4 688.8 701.1 711.0" stroke="#c4520c" stroke-width="0.69" opacity="0.81"/><path d="M717.3 664.4 Q707.8 686.5 705.5 709.5" stroke="#d86414" stroke-width="0.66" opacity="0.50"/><path d="M714.0 657.0 Q699.5 673.3 686.9 690.8" stroke="#d86414" stroke-width="0.95" opacity="0.54"/><path d="M727.7 667.9 Q717.5 686.4 709.8 705.8" stroke="#d86414" stroke-width="0.53" opacity="0.55"/><path d="M718.3 666.4 Q713.5 683.8 709.9 701.4" stroke="#e27a28" stroke-width="0.53" opacity="0.80"/><path d="M724.7 655.9 Q715.7 676.4 705.2 696.1" stroke="#e27a28" stroke-width="0.80" opacity="0.68"/><path d="M722.6 662.0 Q724.2 683.6 718.5 703.3" stroke="#cf5c10" stroke-width="0.51" opacity="0.78"/><path d="M713.5 655.6 Q705.1 672.2 701.7 689.9" stroke="#d9691a" stroke-width="0.84" opacity="0.72"/><path d="M720.1 667.5 Q714.7 685.2 706.9 701.9" stroke="#cf5c10" stroke-width="1.19" opacity="0.44"/><path d="M715.3 656.0 Q704.3 674.0 697.7 693.4" stroke="#e27a28" stroke-width="1.20" opacity="0.61"/><path d="M723.9 666.2 Q720.2 686.1 711.0 703.0" stroke="#c4520c" stroke-width="0.94" opacity="0.67"/><path d="M717.5 663.5 Q714.4 686.3 710.8 709.0" stroke="#cf5c10" stroke-width="1.13" opacity="0.44"/><path d="M712.3 658.4 Q702.6 678.6 691.7 698.1" stroke="#c4520c" stroke-width="0.59" opacity="0.63"/><path d="M712.1 666.8 Q709.6 688.2 702.4 707.8" stroke="#ea8a3a" stroke-width="0.53" opacity="0.53"/><path d="M719.9 656.1 Q716.9 680.0 711.1 703.2" stroke="#cf5c10" stroke-width="1.10" opacity="0.64"/><path d="M725.1 668.3 Q721.2 688.5 712.3 706.3" stroke="#d9691a" stroke-width="1.00" opacity="0.47"/><path d="M717.2 669.8 Q711.0 696.2 698.9 719.5" stroke="#d9691a" stroke-width="1.05" opacity="0.60"/><path d="M723.0 667.7 Q719.0 692.9 708.2 714.7" stroke="#cf5c10" stroke-width="0.53" opacity="0.66"/><path d="M723.3 664.3 Q710.9 679.0 703.8 696.1" stroke="#c4520c" stroke-width="0.96" opacity="0.77"/><path d="M723.1 666.2 Q716.8 683.6 712.2 701.5" stroke="#ea8a3a" stroke-width="0.58" opacity="0.56"/><path d="M712.6 668.1 Q695.3 690.5 686.8 716.0" stroke="#d86414" stroke-width="1.13" opacity="0.84"/><path d="M719.7 661.8 Q709.1 682.1 703.0 703.8" stroke="#e27a28" stroke-width="0.80" opacity="0.80"/><path d="M718.6 665.6 Q712.6 684.7 704.2 702.6" stroke="#e27a28" stroke-width="0.86" opacity="0.56"/><path d="M717.8 660.3 Q706.7 682.1 694.7 703.5" stroke="#d86414" stroke-width="0.81" opacity="0.73"/><path d="M727.2 671.4 Q716.7 692.1 708.9 713.9" stroke="#e27a28" stroke-width="0.88" opacity="0.51"/><path d="M726.7 671.5 Q716.6 690.1 706.1 708.6" stroke="#d86414" stroke-width="1.19" opacity="0.67"/><path d="M714.3 663.6 Q707.7 683.0 701.3 702.4" stroke="#cf5c10" stroke-width="0.71" opacity="0.60"/><path d="M722.2 660.9 Q709.5 680.3 698.8 700.6" stroke="#c4520c" stroke-width="0.73" opacity="0.72"/><path d="M723.7 664.8 Q711.5 683.2 704.7 703.4" stroke="#cf5c10" stroke-width="0.60" opacity="0.56"/><path d="M720.2 663.2 Q708.1 685.7 699.5 709.4" stroke="#d9691a" stroke-width="0.89" opacity="0.66"/><path d="M723.6 662.7 Q715.4 684.3 706.1 705.3" stroke="#e27a28" stroke-width="1.10" opacity="0.58"/><path d="M719.2 667.1 Q704.6 689.0 698.7 713.3" stroke="#d86414" stroke-width="0.75" opacity="0.56"/><path d="M727.0 659.3 Q716.3 679.7 705.0 699.8" stroke="#ea8a3a" stroke-width="0.96" opacity="0.64"/><path d="M724.0 659.3 Q712.6 683.2 704.0 708.1" stroke="#e27a28" stroke-width="0.70" opacity="0.64"/><path d="M712.2 659.4 Q706.3 684.0 702.2 708.8" stroke="#e27a28" stroke-width="0.72" opacity="0.65"/><path d="M696.8 574.7 Q694.6 574.1 692.6 573.1" stroke="#ea8a3a" stroke-width="0.49" opacity="0.51"/><path d="M660.8 642.4 Q656.4 640.6 653.7 637.3" stroke="#ea8a3a" stroke-width="0.73" opacity="0.41"/><path d="M694.7 576.1 Q693.5 572.2 690.8 569.8" stroke="#c4520c" stroke-width="0.45" opacity="0.42"/><path d="M680.8 601.5 Q676.8 601.6 674.1 599.7" stroke="#d86414" stroke-width="0.41" opacity="0.61"/><path d="M678.2 618.4 Q676.3 616.8 675.0 614.8" stroke="#c4520c" stroke-width="0.59" opacity="0.57"/><path d="M650.5 654.2 Q644.7 651.8 640.3 647.7" stroke="#d9691a" stroke-width="0.51" opacity="0.50"/><path d="M695.7 574.1 Q693.3 572.2 692.1 569.7" stroke="#d86414" stroke-width="0.80" opacity="0.68"/><path d="M678.6 614.1 Q677.0 612.3 675.3 610.7" stroke="#e27a28" stroke-width="0.83" opacity="0.51"/><path d="M646.8 656.6 Q644.5 653.2 642.3 649.6" stroke="#cf5c10" stroke-width="0.42" opacity="0.76"/><path d="M691.1 578.0 Q691.5 574.2 690.2 571.0" stroke="#e27a28" stroke-width="0.54" opacity="0.33"/><path d="M686.4 586.8 Q685.6 581.9 683.3 577.8" stroke="#d9691a" stroke-width="0.51" opacity="0.43"/><path d="M686.2 586.3 Q681.9 582.4 677.2 579.0" stroke="#e27a28" stroke-width="0.75" opacity="0.34"/><path d="M688.2 582.8 Q686.5 579.7 683.8 578.5" stroke="#ea8a3a" stroke-width="0.42" opacity="0.64"/><path d="M644.9 659.5 Q641.5 655.3 638.2 651.0" stroke="#d86414" stroke-width="0.55" opacity="0.46"/><path d="M701.9 567.7 Q700.1 565.9 698.0 565.0" stroke="#ea8a3a" stroke-width="0.64" opacity="0.66"/><path d="M701.9 567.4 Q699.6 563.2 697.7 558.9" stroke="#ea8a3a" stroke-width="0.61" opacity="0.70"/><path d="M679.6 604.5 Q677.9 600.2 674.6 598.3" stroke="#c4520c" stroke-width="0.43" opacity="0.37"/><path d="M683.8 591.3 Q680.9 587.2 677.7 583.3" stroke="#e27a28" stroke-width="0.72" opacity="0.60"/><path d="M718.4 550.7 Q712.7 550.9 708.8 548.3" stroke="#c4520c" stroke-width="0.75" opacity="0.65"/><path d="M676.6 625.3 Q672.1 626.7 668.6 625.3" stroke="#d9691a" stroke-width="0.57" opacity="0.44"/><path d="M680.0 605.2 Q674.6 602.7 672.5 598.3" stroke="#ea8a3a" stroke-width="0.74" opacity="0.52"/><path d="M680.3 600.8 Q678.0 598.6 675.5 596.9" stroke="#cf5c10" stroke-width="0.90" opacity="0.53"/><path d="M701.9 568.3 Q696.1 567.4 691.8 564.4" stroke="#f0a868" stroke-width="0.80" opacity="0.59"/><path d="M672.3 634.4 Q669.4 634.3 666.7 633.4" stroke="#c4520c" stroke-width="0.66" opacity="0.64"/><path d="M670.5 635.6 Q668.9 633.5 667.7 631.2" stroke="#cf5c10" stroke-width="0.86" opacity="0.73"/><path d="M681.3 599.1 Q677.0 595.8 674.6 591.4" stroke="#e27a28" stroke-width="0.71" opacity="0.57"/><path d="M659.6 644.1 Q657.4 637.6 656.1 631.0" stroke="#f0a868" stroke-width="0.44" opacity="0.64"/><path d="M673.3 632.4 Q672.3 629.2 670.2 626.8" stroke="#d86414" stroke-width="0.45" opacity="0.56"/><path d="M684.8 591.2 Q682.8 587.8 680.1 584.9" stroke="#d86414" stroke-width="0.58" opacity="0.51"/><path d="M656.4 646.3 Q653.0 648.2 649.7 647.9" stroke="#e27a28" stroke-width="0.54" opacity="0.45"/><path d="M676.7 624.6 Q671.9 622.0 667.1 619.6" stroke="#ea8a3a" stroke-width="0.70" opacity="0.35"/><path d="M691.3 578.4 Q689.8 577.0 688.0 576.6" stroke="#cf5c10" stroke-width="0.78" opacity="0.53"/><path d="M685.4 588.8 Q680.9 586.3 677.0 583.0" stroke="#cf5c10" stroke-width="0.58" opacity="0.63"/><path d="M679.2 612.3 Q676.1 609.2 674.0 605.4" stroke="#d86414" stroke-width="0.79" opacity="0.79"/><path d="M674.5 630.6 Q671.4 630.2 668.7 628.8" stroke="#f0a868" stroke-width="0.69" opacity="0.50"/><path d="M640.6 661.8 Q638.0 660.0 635.0 659.5" stroke="#d9691a" stroke-width="0.54" opacity="0.31"/><path d="M683.6 593.5 Q680.1 591.5 676.4 589.7" stroke="#d9691a" stroke-width="0.69" opacity="0.63"/><path d="M680.3 607.2 Q677.0 603.9 673.7 600.6" stroke="#f0a868" stroke-width="0.81" opacity="0.58"/><path d="M671.7 633.4 Q668.2 634.1 665.2 633.1" stroke="#d86414" stroke-width="0.79" opacity="0.68"/><path d="M698.9 570.6 Q696.5 571.0 694.6 570.1" stroke="#d9691a" stroke-width="0.47" opacity="0.70"/><path d="M683.4 596.4 Q679.3 594.9 675.8 592.5" stroke="#e27a28" stroke-width="0.54" opacity="0.65"/><path d="M698.6 570.3 Q695.3 565.7 690.8 563.8" stroke="#d86414" stroke-width="0.51" opacity="0.50"/><path d="M703.9 565.4 Q703.8 562.2 703.0 559.1" stroke="#f0a868" stroke-width="0.76" opacity="0.73"/><path d="M711.1 558.9 Q709.4 557.5 708.4 555.7" stroke="#d9691a" stroke-width="0.48" opacity="0.47"/><path d="M687.4 585.8 Q683.2 585.4 680.1 583.3" stroke="#e27a28" stroke-width="0.59" opacity="0.55"/><path d="M675.1 631.9 Q669.5 628.2 663.9 624.4" stroke="#d86414" stroke-width="0.65" opacity="0.70"/><path d="M647.3 656.0 Q640.7 658.5 634.8 657.2" stroke="#d86414" stroke-width="0.85" opacity="0.80"/><path d="M704.9 565.5 Q699.5 563.6 696.2 559.7" stroke="#cf5c10" stroke-width="0.88" opacity="0.37"/><path d="M710.7 558.6 Q708.4 558.5 706.5 557.7" stroke="#f0a868" stroke-width="0.82" opacity="0.70"/><path d="M660.9 643.1 Q659.3 640.1 657.0 637.6" stroke="#c4520c" stroke-width="0.54" opacity="0.39"/><path d="M714.1 554.7 Q711.8 554.4 709.7 553.7" stroke="#cf5c10" stroke-width="0.88" opacity="0.32"/><path d="M717.7 550.8 Q711.9 548.8 708.7 544.7" stroke="#d86414" stroke-width="0.56" opacity="0.42"/><path d="M678.7 615.0 Q673.8 612.1 671.3 607.7" stroke="#e27a28" stroke-width="0.71" opacity="0.79"/><path d="M690.7 578.9 Q689.1 574.6 686.2 571.4" stroke="#f0a868" stroke-width="0.44" opacity="0.44"/><path d="M680.8 601.2 Q679.0 597.3 675.8 595.2" stroke="#f0a868" stroke-width="0.57" opacity="0.31"/><path d="M650.8 651.3 Q648.6 647.0 645.1 644.6" stroke="#c4520c" stroke-width="0.70" opacity="0.42"/><path d="M689.1 581.3 Q684.9 576.0 679.8 571.8" stroke="#cf5c10" stroke-width="0.45" opacity="0.72"/><path d="M716.3 554.4 Q712.3 549.8 708.9 544.8" stroke="#f0a868" stroke-width="0.60" opacity="0.49"/><path d="M659.1 645.6 Q654.8 644.5 650.8 642.7" stroke="#c4520c" stroke-width="0.73" opacity="0.52"/><path d="M675.7 628.2 Q675.0 625.2 674.3 622.2" stroke="#c4520c" stroke-width="0.46" opacity="0.58"/><path d="M679.8 605.4 Q677.3 605.0 675.1 604.0" stroke="#d86414" stroke-width="0.47" opacity="0.79"/><path d="M715.1 553.8 Q711.8 550.6 708.0 548.7" stroke="#c4520c" stroke-width="0.71" opacity="0.50"/><path d="M678.5 613.9 Q674.7 613.5 671.0 613.0" stroke="#ea8a3a" stroke-width="0.61" opacity="0.79"/><path d="M659.3 644.1 Q654.7 644.3 650.3 643.4" stroke="#cf5c10" stroke-width="0.43" opacity="0.47"/><path d="M637.1 665.4 Q634.2 662.7 631.8 659.7" stroke="#e27a28" stroke-width="0.57" opacity="0.46"/><path d="M642.9 660.0 Q639.6 657.1 638.5 653.5" stroke="#e27a28" stroke-width="0.66" opacity="0.53"/><path d="M721.4 546.4 Q719.5 544.2 718.3 541.6" stroke="#e27a28" stroke-width="0.87" opacity="0.45"/><path d="M670.7 635.3 Q668.9 633.4 667.0 631.5" stroke="#ea8a3a" stroke-width="0.82" opacity="0.46"/><path d="M707.0 564.9 Q706.0 562.7 704.3 561.4" stroke="#e27a28" stroke-width="0.57" opacity="0.75"/><path d="M632.8 669.5 Q632.6 667.1 632.0 664.8" stroke="#f0a868" stroke-width="0.62" opacity="0.33"/><path d="M682.8 594.2 Q682.3 590.0 681.2 585.9" stroke="#d86414" stroke-width="0.80" opacity="0.49"/><path d="M688.2 581.8 Q686.0 582.8 683.9 582.4" stroke="#f0a868" stroke-width="0.73" opacity="0.44"/><path d="M654.1 649.5 Q649.0 649.4 644.7 647.5" stroke="#c4520c" stroke-width="0.45" opacity="0.61"/><path d="M632.0 670.5 Q630.3 668.0 629.5 665.3" stroke="#d86414" stroke-width="0.52" opacity="0.36"/><path d="M683.1 596.3 Q677.2 595.4 671.3 594.6" stroke="#c4520c" stroke-width="0.56" opacity="0.60"/><path d="M666.4 637.0 Q663.3 634.5 662.2 631.2" stroke="#cf5c10" stroke-width="0.44" opacity="0.50"/><path d="M688.5 582.4 Q682.5 583.1 677.9 580.8" stroke="#ea8a3a" stroke-width="0.89" opacity="0.46"/><path d="M691.7 578.8 Q688.6 575.4 688.1 571.5" stroke="#d9691a" stroke-width="0.45" opacity="0.58"/><path d="M666.8 638.5 Q660.6 640.6 655.1 639.0" stroke="#c4520c" stroke-width="0.45" opacity="0.50"/><path d="M681.8 597.7 Q679.8 593.1 676.3 590.0" stroke="#f0a868" stroke-width="0.59" opacity="0.67"/><path d="M651.6 651.4 Q648.8 649.1 647.5 646.0" stroke="#d86414" stroke-width="0.81" opacity="0.45"/><path d="M702.7 566.9 Q701.5 563.6 699.1 561.5" stroke="#d86414" stroke-width="0.71" opacity="0.41"/><path d="M654.2 648.9 Q651.5 648.9 649.3 647.9" stroke="#d86414" stroke-width="0.90" opacity="0.30"/><path d="M686.8 586.8 Q684.9 584.8 682.6 584.5" stroke="#e27a28" stroke-width="0.59" opacity="0.74"/><path d="M687.6 586.1 Q688.7 583.1 688.0 580.5" stroke="#e27a28" stroke-width="0.64" opacity="0.68"/><path d="M681.8 597.9 Q679.8 593.6 677.2 589.6" stroke="#d9691a" stroke-width="0.57" opacity="0.53"/><path d="M703.2 566.8 Q700.2 565.1 697.5 563.0" stroke="#cf5c10" stroke-width="0.60" opacity="0.41"/><path d="M635.3 669.1 Q630.7 669.2 626.6 667.8" stroke="#f0a868" stroke-width="0.40" opacity="0.47"/><path d="M650.8 651.7 Q646.9 652.1 643.8 650.6" stroke="#ea8a3a" stroke-width="0.48" opacity="0.53"/><path d="M671.2 632.6 Q667.7 631.1 664.6 629.1" stroke="#d86414" stroke-width="0.46" opacity="0.62"/><path d="M642.0 661.3 Q640.0 661.6 638.2 661.0" stroke="#d86414" stroke-width="0.48" opacity="0.76"/><path d="M664.3 639.7 Q662.1 638.7 659.9 638.2" stroke="#c4520c" stroke-width="0.56" opacity="0.67"/><path d="M680.4 603.0 Q676.6 598.2 673.5 593.0" stroke="#cf5c10" stroke-width="0.72" opacity="0.77"/><path d="M719.4 549.5 Q717.9 545.5 715.9 541.7" stroke="#f0a868" stroke-width="0.89" opacity="0.65"/><path d="M717.5 553.3 Q713.1 555.4 708.8 555.1" stroke="#cf5c10" stroke-width="0.43" opacity="0.75"/><path d="M693.0 578.7 Q692.2 574.2 690.5 569.9" stroke="#d9691a" stroke-width="0.86" opacity="0.35"/><path d="M681.8 597.3 Q681.9 595.2 681.5 593.1" stroke="#c4520c" stroke-width="0.77" opacity="0.43"/><path d="M711.8 558.0 Q708.8 557.6 707.0 555.8" stroke="#c4520c" stroke-width="0.46" opacity="0.53"/><path d="M712.4 556.9 Q707.2 554.2 704.2 549.8" stroke="#d86414" stroke-width="0.66" opacity="0.66"/><path d="M685.3 591.2 Q686.0 587.8 685.2 584.8" stroke="#e27a28" stroke-width="0.64" opacity="0.55"/><path d="M675.3 628.6 Q673.9 626.8 673.1 624.7" stroke="#d9691a" stroke-width="0.75" opacity="0.72"/><path d="M687.3 587.8 Q684.5 586.3 683.3 583.9" stroke="#e27a28" stroke-width="0.43" opacity="0.66"/><path d="M713.6 557.4 Q710.3 556.2 707.9 554.0" stroke="#c4520c" stroke-width="0.43" opacity="0.64"/><path d="M664.5 639.9 Q663.3 636.5 661.5 633.5" stroke="#f0a868" stroke-width="0.77" opacity="0.33"/><path d="M695.7 574.2 Q692.9 573.2 691.4 571.2" stroke="#cf5c10" stroke-width="0.54" opacity="0.78"/><path d="M648.9 654.4 Q646.4 653.6 644.8 652.0" stroke="#c4520c" stroke-width="0.70" opacity="0.37"/><path d="M706.9 564.2 Q705.1 560.9 704.4 557.4" stroke="#ea8a3a" stroke-width="0.89" opacity="0.66"/><path d="M693.5 577.1 Q690.4 575.1 687.6 572.8" stroke="#c4520c" stroke-width="0.88" opacity="0.62"/><path d="M636.8 665.8 Q634.9 661.0 635.0 656.3" stroke="#f0a868" stroke-width="0.65" opacity="0.76"/><path d="M688.0 583.2 Q685.8 577.4 681.4 574.8" stroke="#ea8a3a" stroke-width="0.89" opacity="0.40"/><path d="M676.0 625.5 Q674.1 622.4 673.4 619.1" stroke="#c4520c" stroke-width="0.70" opacity="0.35"/><path d="M710.2 560.2 Q709.1 554.2 705.6 550.0" stroke="#d9691a" stroke-width="0.52" opacity="0.55"/><path d="M633.1 670.4 Q629.3 669.4 626.3 667.1" stroke="#d86414" stroke-width="0.69" opacity="0.70"/><path d="M701.4 568.8 Q700.4 566.5 698.7 565.5" stroke="#e27a28" stroke-width="0.82" opacity="0.60"/><path d="M680.9 600.9 Q678.9 598.7 676.3 597.7" stroke="#e27a28" stroke-width="0.81" opacity="0.62"/><path d="M668.0 636.9 Q667.8 634.8 667.2 632.8" stroke="#c4520c" stroke-width="0.41" opacity="0.70"/><path d="M709.7 560.5 Q709.7 558.3 709.7 556.1" stroke="#e27a28" stroke-width="0.42" opacity="0.46"/><path d="M723.9 544.5 Q718.4 544.4 714.7 541.6" stroke="#e27a28" stroke-width="0.65" opacity="0.43"/><path d="M647.2 655.9 Q645.5 649.7 641.3 646.1" stroke="#f0a868" stroke-width="0.65" opacity="0.43"/><path d="M714.3 556.2 Q711.2 553.8 709.3 550.7" stroke="#ea8a3a" stroke-width="0.58" opacity="0.37"/><path d="M707.3 584.1 Q711.8 597.0 721.2 603.6" stroke="#c4520c" stroke-width="0.71" opacity="0.24"/><path d="M798.8 626.0 Q809.0 632.1 816.3 640.7" stroke="#f0a868" stroke-width="0.58" opacity="0.28"/><path d="M775.8 592.3 Q775.0 601.1 770.5 607.5" stroke="#d86414" stroke-width="0.41" opacity="0.30"/><path d="M790.2 620.4 Q785.8 626.9 779.5 629.7" stroke="#cf5c10" stroke-width="0.92" opacity="0.48"/><path d="M718.2 584.5 Q715.0 592.7 717.0 599.7" stroke="#d9691a" stroke-width="0.52" opacity="0.48"/><path d="M769.3 586.4 Q769.1 593.5 768.4 600.6" stroke="#eb9850" stroke-width="0.71" opacity="0.32"/><path d="M738.4 593.8 Q743.6 598.2 746.0 603.9" stroke="#d86414" stroke-width="0.95" opacity="0.33"/><path d="M706.1 634.9 Q711.0 641.1 710.5 647.2" stroke="#ea8a3a" stroke-width="0.58" opacity="0.32"/><path d="M761.0 596.9 Q753.5 599.2 749.5 604.4" stroke="#a84008" stroke-width="0.75" opacity="0.48"/><path d="M697.1 596.2 Q702.4 602.4 705.6 609.6" stroke="#f4b87c" stroke-width="0.66" opacity="0.32"/><path d="M795.8 580.9 Q799.8 585.5 802.4 590.8" stroke="#d86414" stroke-width="0.47" opacity="0.33"/><path d="M765.0 599.3 Q753.7 603.8 744.7 611.2" stroke="#e27a28" stroke-width="0.91" opacity="0.30"/><path d="M702.2 624.3 Q704.5 634.1 701.0 641.6" stroke="#e27a28" stroke-width="0.91" opacity="0.44"/><path d="M788.9 586.3 Q786.6 594.8 785.2 603.5" stroke="#f4b87c" stroke-width="0.67" opacity="0.20"/><path d="M702.7 635.4 Q712.5 646.5 714.5 659.1" stroke="#d86414" stroke-width="0.80" opacity="0.29"/><path d="M705.8 615.0 Q703.7 623.8 698.3 629.7" stroke="#d86414" stroke-width="0.96" opacity="0.26"/><path d="M714.4 576.3 Q718.4 582.2 721.5 588.5" stroke="#eb9850" stroke-width="0.61" opacity="0.30"/><path d="M741.6 581.7 Q740.5 588.4 742.4 594.3" stroke="#d86414" stroke-width="0.66" opacity="0.30"/><path d="M693.2 577.3 Q694.9 584.1 698.6 589.8" stroke="#ea8a3a" stroke-width="0.81" opacity="0.38"/><path d="M718.3 590.1 Q721.9 595.3 722.5 600.9" stroke="#b04408" stroke-width="0.93" opacity="0.34"/><path d="M784.3 630.9 Q786.5 637.5 787.8 644.3" stroke="#c4520c" stroke-width="0.92" opacity="0.48"/><path d="M768.2 582.6 Q769.2 589.7 773.5 593.4" stroke="#d9691a" stroke-width="0.80" opacity="0.32"/><path d="M778.5 611.8 Q777.8 622.0 777.9 632.1" stroke="#d9691a" stroke-width="0.85" opacity="0.36"/><path d="M707.4 600.9 Q705.5 610.0 701.8 618.2" stroke="#cf5c10" stroke-width="0.67" opacity="0.41"/><path d="M766.5 599.4 Q757.1 606.0 753.3 615.3" stroke="#d9691a" stroke-width="0.63" opacity="0.31"/><path d="M710.6 586.5 Q707.7 594.9 710.0 601.8" stroke="#d9691a" stroke-width="0.45" opacity="0.38"/><path d="M757.6 598.7 Q761.9 605.0 763.0 611.9" stroke="#cf5c10" stroke-width="0.99" opacity="0.20"/><path d="M739.1 609.1 Q732.2 610.6 728.6 615.1" stroke="#ea8a3a" stroke-width="0.75" opacity="0.24"/><path d="M730.3 576.3 Q732.1 584.5 735.3 592.2" stroke="#e27a28" stroke-width="0.97" opacity="0.23"/><path d="M725.5 585.1 Q734.4 593.4 735.2 602.8" stroke="#c4520c" stroke-width="0.75" opacity="0.44"/><path d="M719.1 635.0 Q724.4 644.7 724.2 654.5" stroke="#b04408" stroke-width="0.97" opacity="0.28"/><path d="M764.3 581.4 Q766.4 591.6 772.9 597.1" stroke="#f4b87c" stroke-width="0.85" opacity="0.31"/><path d="M781.6 570.2 Q785.9 574.7 790.1 579.3" stroke="#e27a28" stroke-width="0.50" opacity="0.29"/><path d="M697.4 567.5 Q686.3 570.1 680.8 577.4" stroke="#eb9850" stroke-width="0.44" opacity="0.26"/><path d="M696.7 622.8 Q680.8 627.7 674.2 638.9" stroke="#ea8a3a" stroke-width="0.44" opacity="0.26"/><path d="M762.7 578.4 Q759.9 583.3 760.0 588.1" stroke="#f0a868" stroke-width="0.58" opacity="0.46"/><path d="M739.8 575.4 Q735.6 584.0 729.5 590.9" stroke="#f4b87c" stroke-width="0.84" opacity="0.23"/><path d="M768.1 567.9 Q773.1 576.3 775.2 585.4" stroke="#f0a868" stroke-width="0.99" opacity="0.21"/><path d="M736.2 580.9 Q732.5 591.7 736.0 600.0" stroke="#e27a28" stroke-width="0.52" opacity="0.35"/><path d="M785.5 622.0 Q783.9 629.5 779.7 635.2" stroke="#e27a28" stroke-width="0.65" opacity="0.40"/><path d="M794.7 598.6 Q791.4 604.6 791.3 610.8" stroke="#a84008" stroke-width="0.45" opacity="0.20"/><path d="M772.3 620.3 Q770.6 632.6 767.1 644.4" stroke="#c4520c" stroke-width="0.42" opacity="0.37"/><path d="M800.9 596.6 Q797.2 603.5 795.0 610.9" stroke="#f0a868" stroke-width="0.53" opacity="0.25"/><path d="M774.0 616.2 Q784.1 618.3 790.2 624.6" stroke="#d9691a" stroke-width="0.72" opacity="0.41"/><path d="M688.7 603.9 Q682.1 615.3 680.8 627.4" stroke="#ea8a3a" stroke-width="0.89" opacity="0.44"/><path d="M779.9 581.7 Q777.0 593.2 776.8 604.9" stroke="#f4b87c" stroke-width="0.97" opacity="0.27"/><path d="M736.0 574.5 Q728.0 578.3 721.9 584.2" stroke="#b04408" stroke-width="0.91" opacity="0.40"/><path d="M746.4 623.5 Q746.9 630.2 745.6 636.4" stroke="#b04408" stroke-width="0.67" opacity="0.37"/><path d="M761.4 613.2 Q754.1 621.4 749.1 630.8" stroke="#cf5c10" stroke-width="0.97" opacity="0.44"/><path d="M801.3 604.7 Q798.2 612.4 793.6 618.9" stroke="#f0a868" stroke-width="1.00" opacity="0.23"/><path d="M760.0 607.5 Q772.3 610.9 777.8 619.4" stroke="#d9691a" stroke-width="0.53" opacity="0.41"/><path d="M797.5 591.1 Q807.7 599.0 815.2 609.1" stroke="#e27a28" stroke-width="0.62" opacity="0.31"/><path d="M778.6 583.8 Q784.2 595.7 785.3 608.1" stroke="#ea8a3a" stroke-width="0.76" opacity="0.37"/><path d="M740.5 625.9 Q736.0 630.5 734.6 636.0" stroke="#e27a28" stroke-width="0.99" opacity="0.44"/><path d="M734.1 622.9 Q737.4 627.4 738.6 632.5" stroke="#d9691a" stroke-width="0.71" opacity="0.33"/><path d="M717.5 624.2 Q723.1 628.1 725.1 633.5" stroke="#d9691a" stroke-width="0.48" opacity="0.42"/><path d="M710.0 580.1 Q699.9 586.1 697.1 594.9" stroke="#b04408" stroke-width="0.84" opacity="0.39"/><path d="M694.2 569.0 Q690.2 578.2 689.6 587.8" stroke="#c4520c" stroke-width="0.64" opacity="0.32"/><path d="M747.0 603.7 Q747.3 614.0 747.9 624.4" stroke="#f4b87c" stroke-width="0.82" opacity="0.33"/><path d="M724.1 574.2 Q718.2 584.2 714.8 595.0" stroke="#eb9850" stroke-width="0.93" opacity="0.33"/><path d="M693.3 637.9 Q692.3 644.7 693.0 651.4" stroke="#a84008" stroke-width="0.73" opacity="0.47"/><path d="M756.2 618.8 Q759.6 624.2 760.3 629.9" stroke="#e27a28" stroke-width="0.58" opacity="0.40"/><path d="M729.6 588.0 Q731.9 601.6 727.0 612.2" stroke="#ea8a3a" stroke-width="0.44" opacity="0.47"/><path d="M771.6 585.4 Q768.1 592.2 762.7 596.7" stroke="#b04408" stroke-width="0.45" opacity="0.47"/><path d="M689.4 619.7 Q687.2 628.6 681.4 633.1" stroke="#d86414" stroke-width="0.99" opacity="0.27"/><path d="M738.0 577.8 Q739.4 584.4 737.0 589.4" stroke="#f0a868" stroke-width="0.53" opacity="0.48"/><path d="M792.5 640.3 Q796.6 652.0 793.6 661.9" stroke="#e27a28" stroke-width="0.99" opacity="0.34"/><path d="M738.6 565.8 Q736.4 578.2 740.1 588.7" stroke="#a84008" stroke-width="0.78" opacity="0.39"/><path d="M701.7 602.2 Q700.1 611.4 694.9 617.9" stroke="#f4b87c" stroke-width="0.83" opacity="0.20"/><path d="M785.2 570.8 Q789.5 576.9 794.2 582.7" stroke="#cf5c10" stroke-width="0.95" opacity="0.50"/><path d="M747.2 566.1 Q745.3 576.0 742.2 585.6" stroke="#d86414" stroke-width="0.74" opacity="0.49"/><path d="M741.9 599.9 Q749.0 604.2 751.9 610.6" stroke="#cf5c10" stroke-width="0.76" opacity="0.28"/><path d="M744.8 582.5 Q736.5 587.8 732.8 595.6" stroke="#c4520c" stroke-width="0.77" opacity="0.26"/><path d="M752.2 637.9 Q742.7 641.2 735.3 647.1" stroke="#e27a28" stroke-width="0.51" opacity="0.43"/><path d="M768.1 637.7 Q754.1 639.9 746.8 648.5" stroke="#d9691a" stroke-width="0.93" opacity="0.26"/><path d="M761.6 606.5 Q758.2 615.3 755.1 624.3" stroke="#a84008" stroke-width="0.52" opacity="0.49"/><path d="M712.3 628.3 Q717.1 633.3 722.0 638.2" stroke="#f4b87c" stroke-width="0.85" opacity="0.32"/><path d="M726.0 583.2 Q722.3 589.6 717.3 595.0" stroke="#eb9850" stroke-width="0.66" opacity="0.25"/><path d="M774.7 580.4 Q772.4 585.7 772.4 591.1" stroke="#ea8a3a" stroke-width="0.41" opacity="0.37"/><path d="M714.4 633.8 Q710.0 645.5 713.2 655.1" stroke="#b04408" stroke-width="0.49" opacity="0.30"/><path d="M763.8 618.4 Q767.1 621.8 769.3 626.0" stroke="#a84008" stroke-width="0.52" opacity="0.42"/><path d="M706.5 633.6 Q709.7 637.4 711.6 641.8" stroke="#e27a28" stroke-width="0.82" opacity="0.36"/><path d="M700.6 601.8 Q708.6 610.7 716.5 619.8" stroke="#c4520c" stroke-width="0.68" opacity="0.26"/><path d="M723.2 591.6 Q731.1 598.8 732.0 607.2" stroke="#b04408" stroke-width="0.77" opacity="0.40"/><path d="M709.1 581.0 Q704.0 592.1 695.1 597.0" stroke="#a84008" stroke-width="0.91" opacity="0.29"/><path d="M703.7 605.1 Q703.2 611.4 700.1 615.9" stroke="#f4b87c" stroke-width="0.54" opacity="0.48"/><path d="M704.7 593.3 Q696.9 597.8 694.7 604.6" stroke="#cf5c10" stroke-width="0.91" opacity="0.50"/><path d="M771.5 632.0 Q771.5 637.1 773.2 641.6" stroke="#c4520c" stroke-width="0.58" opacity="0.22"/><path d="M742.4 590.8 Q730.2 599.8 727.3 611.5" stroke="#b04408" stroke-width="0.42" opacity="0.21"/><path d="M784.3 642.8 Q786.0 651.4 782.4 657.1" stroke="#eb9850" stroke-width="0.99" opacity="0.26"/><path d="M750.5 602.9 Q751.9 609.4 753.4 616.0" stroke="#f0a868" stroke-width="0.86" opacity="0.35"/><path d="M725.7 598.9 Q725.1 612.2 729.1 624.2" stroke="#eb9850" stroke-width="0.52" opacity="0.34"/><path d="M735.6 579.0 Q739.4 583.9 739.9 589.2" stroke="#a84008" stroke-width="0.46" opacity="0.31"/><path d="M701.1 619.7 Q709.4 624.1 717.8 628.1" stroke="#c4520c" stroke-width="0.49" opacity="0.41"/><path d="M736.4 578.2 Q737.0 591.0 732.7 602.1" stroke="#a84008" stroke-width="0.46" opacity="0.41"/><path d="M720.8 569.3 Q719.2 580.4 723.9 588.3" stroke="#f0a868" stroke-width="0.62" opacity="0.44"/><path d="M780.0 622.7 Q772.3 627.4 767.3 634.0" stroke="#d9691a" stroke-width="0.61" opacity="0.35"/><path d="M725.5 589.7 Q725.9 597.4 729.9 602.5" stroke="#d86414" stroke-width="0.44" opacity="0.23"/><path d="M712.2 624.7 Q713.0 633.7 710.6 641.8" stroke="#eb9850" stroke-width="0.90" opacity="0.42"/><path d="M724.2 610.3 Q719.3 619.0 719.2 627.9" stroke="#f4b87c" stroke-width="0.89" opacity="0.46"/><path d="M732.2 640.7 Q733.6 645.2 732.9 649.3" stroke="#eb9850" stroke-width="0.83" opacity="0.38"/><path d="M689.5 604.9 Q690.5 618.2 684.2 626.7" stroke="#c4520c" stroke-width="0.73" opacity="0.34"/><path d="M782.2 603.2 Q779.7 611.6 781.6 619.0" stroke="#f4b87c" stroke-width="0.45" opacity="0.22"/><path d="M789.0 637.5 Q779.2 646.9 770.0 657.0" stroke="#ea8a3a" stroke-width="0.98" opacity="0.33"/><path d="M710.2 607.0 Q708.1 615.8 706.6 624.7" stroke="#a84008" stroke-width="0.56" opacity="0.26"/><path d="M733.1 612.0 Q731.7 618.4 731.1 624.8" stroke="#b04408" stroke-width="0.56" opacity="0.24"/><path d="M761.7 605.5 Q761.1 615.1 762.7 624.5" stroke="#cf5c10" stroke-width="0.61" opacity="0.43"/><path d="M754.0 584.9 Q754.9 597.0 761.0 605.8" stroke="#b04408" stroke-width="0.67" opacity="0.23"/><path d="M800.5 626.2 Q796.0 632.9 794.6 640.2" stroke="#e27a28" stroke-width="0.50" opacity="0.50"/><path d="M706.1 627.5 Q698.9 638.4 696.1 650.5" stroke="#f0a868" stroke-width="0.83" opacity="0.38"/><path d="M801.5 624.7 Q803.3 633.0 803.7 641.5" stroke="#c4520c" stroke-width="0.61" opacity="0.35"/><path d="M729.2 621.8 Q730.0 632.5 735.9 639.1" stroke="#d9691a" stroke-width="0.79" opacity="0.23"/><path d="M703.2 618.0 Q698.9 620.0 695.9 623.1" stroke="#f0a868" stroke-width="0.41" opacity="0.25"/><path d="M692.5 596.8 Q698.0 602.7 699.2 609.6" stroke="#a84008" stroke-width="0.43" opacity="0.43"/><path d="M769.1 607.3 Q763.4 610.5 757.4 613.0" stroke="#c4520c" stroke-width="0.64" opacity="0.47"/><path d="M721.2 631.3 Q722.8 642.5 724.3 653.7" stroke="#eb9850" stroke-width="0.44" opacity="0.50"/><path d="M739.2 576.0 Q740.5 581.1 742.5 585.9" stroke="#cf5c10" stroke-width="0.46" opacity="0.22"/><path d="M775.4 605.1 Q774.8 613.8 778.8 619.8" stroke="#d9691a" stroke-width="0.49" opacity="0.23"/><path d="M688.1 610.0 Q687.4 617.4 686.6 624.7" stroke="#d86414" stroke-width="0.68" opacity="0.42"/><path d="M694.0 603.4 Q694.7 609.8 698.4 613.6" stroke="#cf5c10" stroke-width="0.77" opacity="0.48"/><path d="M799.3 614.7 Q799.9 621.4 802.2 627.5" stroke="#b04408" stroke-width="0.53" opacity="0.44"/><path d="M693.7 579.2 Q689.5 588.2 686.8 597.7" stroke="#f0a868" stroke-width="0.84" opacity="0.30"/><path d="M730.9 598.8 Q724.9 611.2 725.6 623.5" stroke="#eb9850" stroke-width="0.58" opacity="0.31"/><path d="M779.3 593.4 Q775.1 604.4 766.9 608.8" stroke="#ea8a3a" stroke-width="0.69" opacity="0.34"/><path d="M798.5 595.2 Q796.7 601.2 796.7 607.2" stroke="#f4b87c" stroke-width="0.66" opacity="0.48"/><path d="M692.7 601.7 Q697.4 609.8 701.1 618.3" stroke="#a84008" stroke-width="0.54" opacity="0.41"/><path d="M717.6 603.3 Q713.7 609.5 709.7 615.6" stroke="#a84008" stroke-width="0.74" opacity="0.38"/><path d="M750.5 611.7 Q748.6 618.8 748.6 625.9" stroke="#cf5c10" stroke-width="0.56" opacity="0.42"/><path d="M769.9 634.1 Q763.5 638.5 760.8 644.7" stroke="#f0a868" stroke-width="0.67" opacity="0.47"/><path d="M768.0 596.4 Q769.1 602.3 768.2 608.0" stroke="#d86414" stroke-width="0.98" opacity="0.26"/><path d="M706.1 592.6 Q709.1 598.9 708.2 604.7" stroke="#ea8a3a" stroke-width="0.71" opacity="0.25"/><path d="M776.3 572.6 Q775.2 579.2 777.4 584.5" stroke="#d9691a" stroke-width="0.76" opacity="0.22"/><path d="M692.5 579.5 Q678.7 583.3 671.7 592.7" stroke="#a84008" stroke-width="0.87" opacity="0.43"/><path d="M782.6 594.7 Q778.1 598.5 776.0 603.4" stroke="#ea8a3a" stroke-width="0.85" opacity="0.21"/><path d="M774.0 623.9 Q763.6 632.2 760.8 643.0" stroke="#f0a868" stroke-width="0.55" opacity="0.37"/><path d="M773.6 597.8 Q770.2 603.8 767.6 610.1" stroke="#f4b87c" stroke-width="0.52" opacity="0.44"/><path d="M737.8 638.3 Q734.9 643.4 732.9 648.9" stroke="#a84008" stroke-width="0.66" opacity="0.35"/><path d="M788.8 606.8 Q779.3 609.9 774.7 616.6" stroke="#c4520c" stroke-width="0.62" opacity="0.22"/><path d="M775.1 608.3 Q769.1 613.1 763.7 618.6" stroke="#d9691a" stroke-width="0.50" opacity="0.28"/><path d="M744.6 628.4 Q745.9 635.3 742.9 639.9" stroke="#eb9850" stroke-width="0.94" opacity="0.34"/><path d="M687.0 610.2 C691.1 610.6 703.4 612.5 711.6 612.3 C719.8 612.1 728.1 609.9 736.3 609.2 C744.5 608.5 756.8 608.4 760.9 608.2" stroke="#ee9a54" stroke-width="1.5" opacity="0.65" filter="url(#soft1)"/><path d="M687.0 587.7 C690.5 588.4 700.7 591.3 707.5 591.8 C714.4 592.3 720.5 588.4 728.1 590.8 C735.6 593.1 747.9 600.8 752.7 606.1 C757.4 611.4 756.1 619.8 756.8 622.5" stroke="#f0a060" stroke-width="1.2" opacity="0.5" filter="url(#soft1)"/><path d="M672.7 630.7 C674.4 634.2 679.9 643.7 682.9 651.3 C686.0 658.8 689.1 667.7 691.1 675.9 C693.2 684.1 694.6 696.4 695.2 700.5" stroke="#c8611c" stroke-width="1.4" opacity="0.6" filter="url(#soft1)"/><path d="M691.1 575.4 C692.5 575.4 695.1 578.8 695.2 581.5 C695.4 584.3 693.4 590.4 692.2 591.8 C691.0 593.1 688.9 591.4 688.1 589.7 C687.2 588.0 686.5 583.9 687.0 581.5 C687.5 579.1 689.8 575.4 691.1 575.4 Z" fill="#e6d2d0" stroke="none" opacity="0.85" filter="url(#soft1)"/></g></g><circle cx="709.8" cy="624.4" r="100.1" fill="none" stroke="#8dbde9" stroke-width="4.6"/></g>
<g id="c_stickc"><circle cx="608.1" cy="869.5" r="100" fill="#fff"/><g clip-path="url(#clip_stickc)"><rect x="599.7" y="760" width="16.9" height="160" fill="url(#stickG)"/><path d="M596.6 919.5 Q608.3 917.6 620 919.5 L620 949 Q619.6 961.3 608.3 961.3 Q597 961.3 596.6 949 Z" fill="url(#capG)"/></g><circle cx="608.1" cy="869.5" r="100.1" fill="none" stroke="#8dbde9" stroke-width="4.6"/><rect x="599.7" y="766.8" width="16.9" height="8" fill="url(#stickG)"/></g>
<circle cx="321.4" cy="557.2" r="4.2" fill="#f4fbff" stroke="#8dbde9" stroke-width="3.7"/>
<circle cx="303.9" cy="683" r="4.2" fill="#f4fbff" stroke="#8dbde9" stroke-width="3.7"/>
<circle cx="321.5" cy="760.7" r="4.2" fill="#f4fbff" stroke="#8dbde9" stroke-width="3.7"/>
<circle cx="111" cy="887.6" r="4.2" fill="#f4fbff" stroke="#8dbde9" stroke-width="3.7"/>
<g class="lbl" font-size="21.4" text-anchor="middle">
<text x="917.3" y="255.4">BELL</text>
<text x="853.9" y="500.5">POLYESTER FABRIC</text>
<text x="760.4" y="750.9">FEATHER TAIL</text>
<text x="646.4" y="995.3">PLASTIC STICK</text>
</g>
</g>
</svg>
</body>
</html>
